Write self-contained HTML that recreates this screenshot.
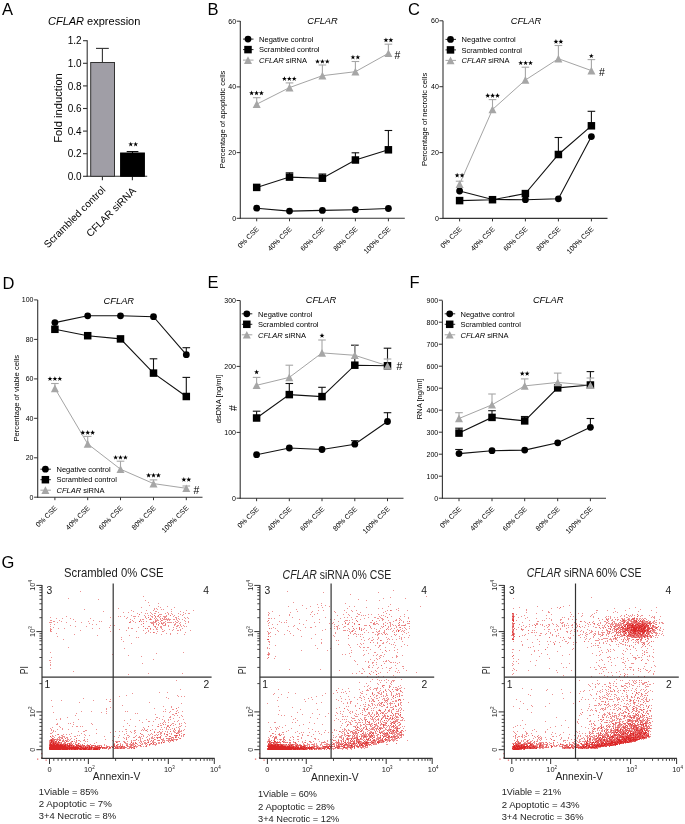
<!DOCTYPE html>
<html><head><meta charset="utf-8"><style>
html,body{margin:0;padding:0;background:#fff;}
svg{display:block;font-family:"Liberation Sans", sans-serif;will-change:transform;}
</style></head><body>
<svg width="685" height="824" viewBox="0 0 685 824">
<rect width="685" height="824" fill="#fff"/>
<text x="2" y="15" font-size="16.5">A</text>
<text x="207.5" y="14.7" font-size="16.5">B</text>
<text x="408" y="14.6" font-size="16.5">C</text>
<text x="2.5" y="289" font-size="16.5">D</text>
<text x="207.5" y="288.2" font-size="16.5">E</text>
<text x="409.5" y="288.2" font-size="16.5">F</text>
<text x="1.5" y="568.2" font-size="16.5">G</text>
<g>
<text x="48" y="24.5" font-size="11"><tspan font-style="italic">CFLAR</tspan> expression</text>
<line x1="87.2" y1="40.2" x2="87.2" y2="176.8" stroke="#333" stroke-width="1.1"/>
<line x1="83" y1="176.3" x2="87.2" y2="176.3" stroke="#333" stroke-width="1.1"/>
<text x="81.7" y="179.9" font-size="10" text-anchor="end">0.0</text>
<line x1="83" y1="153.70000000000002" x2="87.2" y2="153.70000000000002" stroke="#333" stroke-width="1.1"/>
<text x="81.7" y="157.3" font-size="10" text-anchor="end">0.2</text>
<line x1="83" y1="131.10000000000002" x2="87.2" y2="131.10000000000002" stroke="#333" stroke-width="1.1"/>
<text x="81.7" y="134.70000000000002" font-size="10" text-anchor="end">0.4</text>
<line x1="83" y1="108.5" x2="87.2" y2="108.5" stroke="#333" stroke-width="1.1"/>
<text x="81.7" y="112.1" font-size="10" text-anchor="end">0.6</text>
<line x1="83" y1="85.9" x2="87.2" y2="85.9" stroke="#333" stroke-width="1.1"/>
<text x="81.7" y="89.5" font-size="10" text-anchor="end">0.8</text>
<line x1="83" y1="63.30000000000001" x2="87.2" y2="63.30000000000001" stroke="#333" stroke-width="1.1"/>
<text x="81.7" y="66.9" font-size="10" text-anchor="end">1.0</text>
<line x1="83" y1="40.69999999999999" x2="87.2" y2="40.69999999999999" stroke="#333" stroke-width="1.1"/>
<text x="81.7" y="44.29999999999999" font-size="10" text-anchor="end">1.2</text>
<line x1="86.7" y1="176.3" x2="147.2" y2="176.3" stroke="#333" stroke-width="1.1"/>
<line x1="102.4" y1="176.3" x2="102.4" y2="180.3" stroke="#333" stroke-width="1.1"/>
<line x1="132.4" y1="176.3" x2="132.4" y2="180.3" stroke="#333" stroke-width="1.1"/>
<rect x="90.7" y="62.5" width="23.8" height="113.80000000000001" fill="#a09ea6" stroke="#333" stroke-width="1"/>
<line x1="102.4" y1="62.5" x2="102.4" y2="48.4" stroke="#333" stroke-width="1.1"/>
<line x1="96" y1="48.4" x2="108.8" y2="48.4" stroke="#333" stroke-width="1.1"/>
<rect x="120.6" y="153" width="23.8" height="23.30000000000001" fill="#000" stroke="#000" stroke-width="1"/>
<line x1="132.5" y1="153" x2="132.5" y2="151.6" stroke="#000" stroke-width="1.1"/>
<line x1="126.7" y1="151.6" x2="138.4" y2="151.6" stroke="#000" stroke-width="1.1"/>
<polygon points="130.75,141.70 131.37,143.45 133.22,143.50 131.75,144.62 132.28,146.40 130.75,145.35 129.22,146.40 129.75,144.62 128.28,143.50 130.13,143.45" fill="#000"/>
<polygon points="135.65,141.70 136.27,143.45 138.12,143.50 136.65,144.62 137.18,146.40 135.65,145.35 134.12,146.40 134.65,144.62 133.18,143.50 135.03,143.45" fill="#000"/>
<text transform="translate(62,108) rotate(-90)" font-size="11.2" text-anchor="middle">Fold induction</text>
<text transform="translate(106,190.5) rotate(-45)" font-size="10.2" text-anchor="end">Scrambled control</text>
<text transform="translate(136.5,191.5) rotate(-45)" font-size="10.2" text-anchor="end">CFLAR siRNA</text>
</g>
<line x1="240.3" y1="21" x2="240.3" y2="218.8" stroke="#333" stroke-width="1.1"/>
<line x1="236.70000000000002" y1="218.3" x2="240.3" y2="218.3" stroke="#333" stroke-width="1"/>
<text x="236.10000000000002" y="220.8" font-size="7" text-anchor="end">0</text>
<line x1="236.70000000000002" y1="152.6" x2="240.3" y2="152.6" stroke="#333" stroke-width="1"/>
<text x="236.10000000000002" y="155.1" font-size="7" text-anchor="end">20</text>
<line x1="236.70000000000002" y1="86.9" x2="240.3" y2="86.9" stroke="#333" stroke-width="1"/>
<text x="236.10000000000002" y="89.4" font-size="7" text-anchor="end">40</text>
<line x1="236.70000000000002" y1="21.2" x2="240.3" y2="21.2" stroke="#333" stroke-width="1"/>
<text x="236.10000000000002" y="23.7" font-size="7" text-anchor="end">60</text>
<line x1="239.8" y1="218.3" x2="404.8" y2="218.3" stroke="#333" stroke-width="1.1"/>
<line x1="256.7" y1="218.3" x2="256.7" y2="221.3" stroke="#333" stroke-width="1"/>
<text transform="translate(259.5,229.60000000000002) rotate(-45)" font-size="7.15" text-anchor="end">0% CSE</text>
<line x1="289.5" y1="218.3" x2="289.5" y2="221.3" stroke="#333" stroke-width="1"/>
<text transform="translate(292.3,229.60000000000002) rotate(-45)" font-size="7.15" text-anchor="end">40% CSE</text>
<line x1="322.4" y1="218.3" x2="322.4" y2="221.3" stroke="#333" stroke-width="1"/>
<text transform="translate(325.2,229.60000000000002) rotate(-45)" font-size="7.15" text-anchor="end">60% CSE</text>
<line x1="355.4" y1="218.3" x2="355.4" y2="221.3" stroke="#333" stroke-width="1"/>
<text transform="translate(358.2,229.60000000000002) rotate(-45)" font-size="7.15" text-anchor="end">80% CSE</text>
<line x1="388.4" y1="218.3" x2="388.4" y2="221.3" stroke="#333" stroke-width="1"/>
<text transform="translate(391.2,229.60000000000002) rotate(-45)" font-size="7.15" text-anchor="end">100% CSE</text>
<text x="307.3" y="24.2" font-size="9.3" font-style="italic">CFLAR</text>
<text transform="translate(224.5,119.4) rotate(-90)" font-size="7.6" text-anchor="middle">Percentage of apoptotic cells</text>
<polyline points="256.7,208.2 289.5,211.1 322.4,210.4 355.4,209.7 388.4,208.5" fill="none" stroke="#111" stroke-width="1.1"/>
<polyline points="256.7,187.4 289.5,177.1 322.4,178.2 355.4,160 388.4,149.8" fill="none" stroke="#111" stroke-width="1.1"/>
<polyline points="256.7,104.2 289.5,87.6 322.4,75.7 355.4,71.7 388.4,53.3" fill="none" stroke="#9a9a9a" stroke-width="0.9"/>
<line x1="289.5" y1="177.1" x2="289.5" y2="172.8" stroke="#111" stroke-width="1.1"/>
<line x1="285.7" y1="172.8" x2="293.3" y2="172.8" stroke="#111" stroke-width="1.1"/>
<line x1="322.4" y1="178.2" x2="322.4" y2="174" stroke="#111" stroke-width="1.1"/>
<line x1="318.59999999999997" y1="174" x2="326.2" y2="174" stroke="#111" stroke-width="1.1"/>
<line x1="355.4" y1="160" x2="355.4" y2="152.8" stroke="#111" stroke-width="1.1"/>
<line x1="351.59999999999997" y1="152.8" x2="359.2" y2="152.8" stroke="#111" stroke-width="1.1"/>
<line x1="388.4" y1="149.8" x2="388.4" y2="130.5" stroke="#111" stroke-width="1.1"/>
<line x1="384.59999999999997" y1="130.5" x2="392.2" y2="130.5" stroke="#111" stroke-width="1.1"/>
<line x1="256.7" y1="104.2" x2="256.7" y2="97.7" stroke="#a6a6a6" stroke-width="1.1"/>
<line x1="252.89999999999998" y1="97.7" x2="260.5" y2="97.7" stroke="#a6a6a6" stroke-width="1.1"/>
<line x1="289.5" y1="87.6" x2="289.5" y2="82.9" stroke="#a6a6a6" stroke-width="1.1"/>
<line x1="285.7" y1="82.9" x2="293.3" y2="82.9" stroke="#a6a6a6" stroke-width="1.1"/>
<line x1="322.4" y1="75.7" x2="322.4" y2="65" stroke="#a6a6a6" stroke-width="1.1"/>
<line x1="318.59999999999997" y1="65" x2="326.2" y2="65" stroke="#a6a6a6" stroke-width="1.1"/>
<line x1="355.4" y1="71.7" x2="355.4" y2="61.5" stroke="#a6a6a6" stroke-width="1.1"/>
<line x1="351.59999999999997" y1="61.5" x2="359.2" y2="61.5" stroke="#a6a6a6" stroke-width="1.1"/>
<line x1="388.4" y1="53.3" x2="388.4" y2="44.2" stroke="#a6a6a6" stroke-width="1.1"/>
<line x1="384.59999999999997" y1="44.2" x2="392.2" y2="44.2" stroke="#a6a6a6" stroke-width="1.1"/>
<circle cx="256.7" cy="208.2" r="3.4" fill="#000"/>
<circle cx="289.5" cy="211.1" r="3.4" fill="#000"/>
<circle cx="322.4" cy="210.4" r="3.4" fill="#000"/>
<circle cx="355.4" cy="209.7" r="3.4" fill="#000"/>
<circle cx="388.4" cy="208.5" r="3.4" fill="#000"/>
<rect x="252.95" y="183.65" width="7.5" height="7.5" fill="#000"/>
<rect x="285.75" y="173.35" width="7.5" height="7.5" fill="#000"/>
<rect x="318.65" y="174.45" width="7.5" height="7.5" fill="#000"/>
<rect x="351.65" y="156.25" width="7.5" height="7.5" fill="#000"/>
<rect x="384.65" y="146.05" width="7.5" height="7.5" fill="#000"/>
<polygon points="256.7,100.30 260.70,108.00 252.70,108.00" fill="#a6a6a6"/>
<polygon points="289.5,83.70 293.50,91.40 285.50,91.40" fill="#a6a6a6"/>
<polygon points="322.4,71.80 326.40,79.50 318.40,79.50" fill="#a6a6a6"/>
<polygon points="355.4,67.80 359.40,75.50 351.40,75.50" fill="#a6a6a6"/>
<polygon points="388.4,49.40 392.40,57.10 384.40,57.10" fill="#a6a6a6"/>
<polygon points="251.60,90.60 252.22,92.35 254.07,92.40 252.60,93.52 253.13,95.30 251.60,94.25 250.07,95.30 250.60,93.52 249.13,92.40 250.98,92.35" fill="#000"/>
<polygon points="256.50,90.60 257.12,92.35 258.97,92.40 257.50,93.52 258.03,95.30 256.50,94.25 254.97,95.30 255.50,93.52 254.03,92.40 255.88,92.35" fill="#000"/>
<polygon points="261.40,90.60 262.02,92.35 263.87,92.40 262.40,93.52 262.93,95.30 261.40,94.25 259.87,95.30 260.40,93.52 258.93,92.40 260.78,92.35" fill="#000"/>
<polygon points="284.40,76.20 285.02,77.95 286.87,78.00 285.40,79.12 285.93,80.90 284.40,79.85 282.87,80.90 283.40,79.12 281.93,78.00 283.78,77.95" fill="#000"/>
<polygon points="289.30,76.20 289.92,77.95 291.77,78.00 290.30,79.12 290.83,80.90 289.30,79.85 287.77,80.90 288.30,79.12 286.83,78.00 288.68,77.95" fill="#000"/>
<polygon points="294.20,76.20 294.82,77.95 296.67,78.00 295.20,79.12 295.73,80.90 294.20,79.85 292.67,80.90 293.20,79.12 291.73,78.00 293.58,77.95" fill="#000"/>
<polygon points="317.50,58.90 318.12,60.65 319.97,60.70 318.50,61.82 319.03,63.60 317.50,62.55 315.97,63.60 316.50,61.82 315.03,60.70 316.88,60.65" fill="#000"/>
<polygon points="322.40,58.90 323.02,60.65 324.87,60.70 323.40,61.82 323.93,63.60 322.40,62.55 320.87,63.60 321.40,61.82 319.93,60.70 321.78,60.65" fill="#000"/>
<polygon points="327.30,58.90 327.92,60.65 329.77,60.70 328.30,61.82 328.83,63.60 327.30,62.55 325.77,63.60 326.30,61.82 324.83,60.70 326.68,60.65" fill="#000"/>
<polygon points="352.95,54.70 353.57,56.45 355.42,56.50 353.95,57.62 354.48,59.40 352.95,58.35 351.42,59.40 351.95,57.62 350.48,56.50 352.33,56.45" fill="#000"/>
<polygon points="357.85,54.70 358.47,56.45 360.32,56.50 358.85,57.62 359.38,59.40 357.85,58.35 356.32,59.40 356.85,57.62 355.38,56.50 357.23,56.45" fill="#000"/>
<polygon points="385.95,37.50 386.57,39.25 388.42,39.30 386.95,40.42 387.48,42.20 385.95,41.15 384.42,42.20 384.95,40.42 383.48,39.30 385.33,39.25" fill="#000"/>
<polygon points="390.85,37.50 391.47,39.25 393.32,39.30 391.85,40.42 392.38,42.20 390.85,41.15 389.32,42.20 389.85,40.42 388.38,39.30 390.23,39.25" fill="#000"/>
<text x="397.5" y="58.8" font-size="10.5" text-anchor="middle">#</text>
<line x1="243" y1="39.1" x2="253.5" y2="39.1" stroke="#111" stroke-width="0.9"/>
<circle cx="248" cy="39.1" r="3.4" fill="#000"/>
<text x="259.1" y="41.800000000000004" font-size="7.5">Negative control</text>
<line x1="243" y1="49.6" x2="253.5" y2="49.6" stroke="#111" stroke-width="0.9"/>
<rect x="244.25" y="45.85" width="7.5" height="7.5" fill="#000"/>
<text x="259.1" y="52.300000000000004" font-size="7.5">Scrambled control</text>
<line x1="243" y1="60.1" x2="253.5" y2="60.1" stroke="#9a9a9a" stroke-width="0.9"/>
<polygon points="248,56.20 252.00,63.90 244.00,63.90" fill="#a6a6a6"/>
<text x="259.1" y="62.800000000000004" font-size="7.5"><tspan font-style="italic">CFLAR</tspan> siRNA</text>
<line x1="443" y1="20.8" x2="443" y2="218.9" stroke="#333" stroke-width="1.1"/>
<line x1="439.4" y1="218.4" x2="443" y2="218.4" stroke="#333" stroke-width="1"/>
<text x="438.8" y="220.9" font-size="7" text-anchor="end">0</text>
<line x1="439.4" y1="152.6" x2="443" y2="152.6" stroke="#333" stroke-width="1"/>
<text x="438.8" y="155.1" font-size="7" text-anchor="end">20</text>
<line x1="439.4" y1="86.7" x2="443" y2="86.7" stroke="#333" stroke-width="1"/>
<text x="438.8" y="89.2" font-size="7" text-anchor="end">40</text>
<line x1="439.4" y1="20.8" x2="443" y2="20.8" stroke="#333" stroke-width="1"/>
<text x="438.8" y="23.3" font-size="7" text-anchor="end">60</text>
<line x1="442.5" y1="218.4" x2="607.5" y2="218.4" stroke="#333" stroke-width="1.1"/>
<line x1="459.6" y1="218.4" x2="459.6" y2="221.4" stroke="#333" stroke-width="1"/>
<text transform="translate(462.40000000000003,229.70000000000002) rotate(-45)" font-size="7.15" text-anchor="end">0% CSE</text>
<line x1="492.5" y1="218.4" x2="492.5" y2="221.4" stroke="#333" stroke-width="1"/>
<text transform="translate(495.3,229.70000000000002) rotate(-45)" font-size="7.15" text-anchor="end">40% CSE</text>
<line x1="525.4" y1="218.4" x2="525.4" y2="221.4" stroke="#333" stroke-width="1"/>
<text transform="translate(528.1999999999999,229.70000000000002) rotate(-45)" font-size="7.15" text-anchor="end">60% CSE</text>
<line x1="558.4" y1="218.4" x2="558.4" y2="221.4" stroke="#333" stroke-width="1"/>
<text transform="translate(561.1999999999999,229.70000000000002) rotate(-45)" font-size="7.15" text-anchor="end">80% CSE</text>
<line x1="591.4" y1="218.4" x2="591.4" y2="221.4" stroke="#333" stroke-width="1"/>
<text transform="translate(594.1999999999999,229.70000000000002) rotate(-45)" font-size="7.15" text-anchor="end">100% CSE</text>
<text x="510.7" y="23.9" font-size="9.3" font-style="italic">CFLAR</text>
<text transform="translate(427.2,119.4) rotate(-90)" font-size="7.6" text-anchor="middle">Percentage of necrotic cells</text>
<polyline points="459.6,191 492.5,199.5 525.4,199.7 558.4,198.8 591.4,136.6" fill="none" stroke="#111" stroke-width="1.1"/>
<polyline points="459.6,200.6 492.5,199.7 525.4,193.6 558.4,154.5 591.4,125.8" fill="none" stroke="#111" stroke-width="1.1"/>
<polyline points="459.6,184.1 492.5,109.5 525.4,80 558.4,58.7 591.4,70.6" fill="none" stroke="#9a9a9a" stroke-width="0.9"/>
<line x1="558.4" y1="154.5" x2="558.4" y2="137.5" stroke="#111" stroke-width="1.1"/>
<line x1="554.6" y1="137.5" x2="562.1999999999999" y2="137.5" stroke="#111" stroke-width="1.1"/>
<line x1="591.4" y1="125.8" x2="591.4" y2="111.3" stroke="#111" stroke-width="1.1"/>
<line x1="587.6" y1="111.3" x2="595.1999999999999" y2="111.3" stroke="#111" stroke-width="1.1"/>
<line x1="459.6" y1="184.1" x2="459.6" y2="181.2" stroke="#a6a6a6" stroke-width="1.1"/>
<line x1="455.8" y1="181.2" x2="463.40000000000003" y2="181.2" stroke="#a6a6a6" stroke-width="1.1"/>
<line x1="492.5" y1="109.5" x2="492.5" y2="99.6" stroke="#a6a6a6" stroke-width="1.1"/>
<line x1="488.7" y1="99.6" x2="496.3" y2="99.6" stroke="#a6a6a6" stroke-width="1.1"/>
<line x1="525.4" y1="80" x2="525.4" y2="67.2" stroke="#a6a6a6" stroke-width="1.1"/>
<line x1="521.6" y1="67.2" x2="529.1999999999999" y2="67.2" stroke="#a6a6a6" stroke-width="1.1"/>
<line x1="558.4" y1="58.7" x2="558.4" y2="45.5" stroke="#a6a6a6" stroke-width="1.1"/>
<line x1="554.6" y1="45.5" x2="562.1999999999999" y2="45.5" stroke="#a6a6a6" stroke-width="1.1"/>
<line x1="591.4" y1="70.6" x2="591.4" y2="59.6" stroke="#a6a6a6" stroke-width="1.1"/>
<line x1="587.6" y1="59.6" x2="595.1999999999999" y2="59.6" stroke="#a6a6a6" stroke-width="1.1"/>
<circle cx="459.6" cy="191" r="3.4" fill="#000"/>
<circle cx="492.5" cy="199.5" r="3.4" fill="#000"/>
<circle cx="525.4" cy="199.7" r="3.4" fill="#000"/>
<circle cx="558.4" cy="198.8" r="3.4" fill="#000"/>
<circle cx="591.4" cy="136.6" r="3.4" fill="#000"/>
<rect x="455.85" y="196.85" width="7.5" height="7.5" fill="#000"/>
<rect x="488.75" y="195.95" width="7.5" height="7.5" fill="#000"/>
<rect x="521.65" y="189.85" width="7.5" height="7.5" fill="#000"/>
<rect x="554.65" y="150.75" width="7.5" height="7.5" fill="#000"/>
<rect x="587.65" y="122.05" width="7.5" height="7.5" fill="#000"/>
<polygon points="459.6,180.20 463.60,187.90 455.60,187.90" fill="#a6a6a6"/>
<polygon points="492.5,105.60 496.50,113.30 488.50,113.30" fill="#a6a6a6"/>
<polygon points="525.4,76.10 529.40,83.80 521.40,83.80" fill="#a6a6a6"/>
<polygon points="558.4,54.80 562.40,62.50 554.40,62.50" fill="#a6a6a6"/>
<polygon points="591.4,66.70 595.40,74.40 587.40,74.40" fill="#a6a6a6"/>
<polygon points="457.15,172.80 457.77,174.55 459.62,174.60 458.15,175.72 458.68,177.50 457.15,176.45 455.62,177.50 456.15,175.72 454.68,174.60 456.53,174.55" fill="#000"/>
<polygon points="462.05,172.80 462.67,174.55 464.52,174.60 463.05,175.72 463.58,177.50 462.05,176.45 460.52,177.50 461.05,175.72 459.58,174.60 461.43,174.55" fill="#000"/>
<polygon points="487.70,93.10 488.32,94.85 490.17,94.90 488.70,96.02 489.23,97.80 487.70,96.75 486.17,97.80 486.70,96.02 485.23,94.90 487.08,94.85" fill="#000"/>
<polygon points="492.60,93.10 493.22,94.85 495.07,94.90 493.60,96.02 494.13,97.80 492.60,96.75 491.07,97.80 491.60,96.02 490.13,94.90 491.98,94.85" fill="#000"/>
<polygon points="497.50,93.10 498.12,94.85 499.97,94.90 498.50,96.02 499.03,97.80 497.50,96.75 495.97,97.80 496.50,96.02 495.03,94.90 496.88,94.85" fill="#000"/>
<polygon points="520.70,60.40 521.32,62.15 523.17,62.20 521.70,63.32 522.23,65.10 520.70,64.05 519.17,65.10 519.70,63.32 518.23,62.20 520.08,62.15" fill="#000"/>
<polygon points="525.60,60.40 526.22,62.15 528.07,62.20 526.60,63.32 527.13,65.10 525.60,64.05 524.07,65.10 524.60,63.32 523.13,62.20 524.98,62.15" fill="#000"/>
<polygon points="530.50,60.40 531.12,62.15 532.97,62.20 531.50,63.32 532.03,65.10 530.50,64.05 528.97,65.10 529.50,63.32 528.03,62.20 529.88,62.15" fill="#000"/>
<polygon points="555.95,39.10 556.57,40.85 558.42,40.90 556.95,42.02 557.48,43.80 555.95,42.75 554.42,43.80 554.95,42.02 553.48,40.90 555.33,40.85" fill="#000"/>
<polygon points="560.85,39.10 561.47,40.85 563.32,40.90 561.85,42.02 562.38,43.80 560.85,42.75 559.32,43.80 559.85,42.02 558.38,40.90 560.23,40.85" fill="#000"/>
<polygon points="591.30,53.40 591.92,55.15 593.77,55.20 592.30,56.32 592.83,58.10 591.30,57.05 589.77,58.10 590.30,56.32 588.83,55.20 590.68,55.15" fill="#000"/>
<text x="602" y="76.1" font-size="10.5" text-anchor="middle">#</text>
<line x1="445.5" y1="39.4" x2="456.0" y2="39.4" stroke="#111" stroke-width="0.9"/>
<circle cx="450.5" cy="39.4" r="3.4" fill="#000"/>
<text x="461.6" y="42.1" font-size="7.5">Negative control</text>
<line x1="445.5" y1="49.9" x2="456.0" y2="49.9" stroke="#111" stroke-width="0.9"/>
<rect x="446.75" y="46.15" width="7.5" height="7.5" fill="#000"/>
<text x="461.6" y="52.6" font-size="7.5">Scrambled control</text>
<line x1="445.5" y1="60.4" x2="456.0" y2="60.4" stroke="#9a9a9a" stroke-width="0.9"/>
<polygon points="450.5,56.50 454.50,64.20 446.50,64.20" fill="#a6a6a6"/>
<text x="461.6" y="63.1" font-size="7.5"><tspan font-style="italic">CFLAR</tspan> siRNA</text>
<line x1="37.7" y1="299.9" x2="37.7" y2="497.7" stroke="#333" stroke-width="1.1"/>
<line x1="34.1" y1="497.2" x2="37.7" y2="497.2" stroke="#333" stroke-width="1"/>
<text x="33.5" y="499.7" font-size="7" text-anchor="end">0</text>
<line x1="34.1" y1="457.8" x2="37.7" y2="457.8" stroke="#333" stroke-width="1"/>
<text x="33.5" y="460.3" font-size="7" text-anchor="end">20</text>
<line x1="34.1" y1="418.3" x2="37.7" y2="418.3" stroke="#333" stroke-width="1"/>
<text x="33.5" y="420.8" font-size="7" text-anchor="end">40</text>
<line x1="34.1" y1="378.9" x2="37.7" y2="378.9" stroke="#333" stroke-width="1"/>
<text x="33.5" y="381.4" font-size="7" text-anchor="end">60</text>
<line x1="34.1" y1="339.4" x2="37.7" y2="339.4" stroke="#333" stroke-width="1"/>
<text x="33.5" y="341.9" font-size="7" text-anchor="end">80</text>
<line x1="34.1" y1="299.9" x2="37.7" y2="299.9" stroke="#333" stroke-width="1"/>
<text x="33.5" y="302.4" font-size="7" text-anchor="end">100</text>
<line x1="37.2" y1="497.2" x2="202.5" y2="497.2" stroke="#333" stroke-width="1.1"/>
<line x1="54.9" y1="497.2" x2="54.9" y2="500.2" stroke="#333" stroke-width="1"/>
<text transform="translate(57.699999999999996,508.5) rotate(-45)" font-size="7.15" text-anchor="end">0% CSE</text>
<line x1="87.7" y1="497.2" x2="87.7" y2="500.2" stroke="#333" stroke-width="1"/>
<text transform="translate(90.5,508.5) rotate(-45)" font-size="7.15" text-anchor="end">40% CSE</text>
<line x1="120.5" y1="497.2" x2="120.5" y2="500.2" stroke="#333" stroke-width="1"/>
<text transform="translate(123.3,508.5) rotate(-45)" font-size="7.15" text-anchor="end">60% CSE</text>
<line x1="153.5" y1="497.2" x2="153.5" y2="500.2" stroke="#333" stroke-width="1"/>
<text transform="translate(156.3,508.5) rotate(-45)" font-size="7.15" text-anchor="end">80% CSE</text>
<line x1="186.3" y1="497.2" x2="186.3" y2="500.2" stroke="#333" stroke-width="1"/>
<text transform="translate(189.10000000000002,508.5) rotate(-45)" font-size="7.15" text-anchor="end">100% CSE</text>
<text x="103.6" y="304" font-size="9.3" font-style="italic">CFLAR</text>
<text transform="translate(18.6,398.2) rotate(-90)" font-size="7.6" text-anchor="middle">Percentage of viable cells</text>
<polyline points="54.9,322.6 87.7,315.8 120.5,315.8 153.5,316.7 186.3,354.7" fill="none" stroke="#111" stroke-width="1.1"/>
<polyline points="54.9,329.3 87.7,335.7 120.5,338.9 153.5,373.1 186.3,396.5" fill="none" stroke="#111" stroke-width="1.1"/>
<polyline points="54.9,388.4 87.7,443.9 120.5,469.2 153.5,483.6 186.3,488.3" fill="none" stroke="#9a9a9a" stroke-width="0.9"/>
<line x1="186.3" y1="354.7" x2="186.3" y2="347.7" stroke="#111" stroke-width="1.1"/>
<line x1="182.5" y1="347.7" x2="190.10000000000002" y2="347.7" stroke="#111" stroke-width="1.1"/>
<line x1="153.5" y1="373.1" x2="153.5" y2="358.8" stroke="#111" stroke-width="1.1"/>
<line x1="149.7" y1="358.8" x2="157.3" y2="358.8" stroke="#111" stroke-width="1.1"/>
<line x1="186.3" y1="396.5" x2="186.3" y2="377.4" stroke="#111" stroke-width="1.1"/>
<line x1="182.5" y1="377.4" x2="190.10000000000002" y2="377.4" stroke="#111" stroke-width="1.1"/>
<line x1="54.9" y1="388.4" x2="54.9" y2="383.5" stroke="#a6a6a6" stroke-width="1.1"/>
<line x1="51.1" y1="383.5" x2="58.699999999999996" y2="383.5" stroke="#a6a6a6" stroke-width="1.1"/>
<line x1="87.7" y1="443.9" x2="87.7" y2="436.4" stroke="#a6a6a6" stroke-width="1.1"/>
<line x1="83.9" y1="436.4" x2="91.5" y2="436.4" stroke="#a6a6a6" stroke-width="1.1"/>
<line x1="120.5" y1="469.2" x2="120.5" y2="461.2" stroke="#a6a6a6" stroke-width="1.1"/>
<line x1="116.7" y1="461.2" x2="124.3" y2="461.2" stroke="#a6a6a6" stroke-width="1.1"/>
<line x1="153.5" y1="483.6" x2="153.5" y2="479.9" stroke="#a6a6a6" stroke-width="1.1"/>
<line x1="149.7" y1="479.9" x2="157.3" y2="479.9" stroke="#a6a6a6" stroke-width="1.1"/>
<line x1="186.3" y1="488.3" x2="186.3" y2="486" stroke="#a6a6a6" stroke-width="1.1"/>
<line x1="182.5" y1="486" x2="190.10000000000002" y2="486" stroke="#a6a6a6" stroke-width="1.1"/>
<circle cx="54.9" cy="322.6" r="3.4" fill="#000"/>
<circle cx="87.7" cy="315.8" r="3.4" fill="#000"/>
<circle cx="120.5" cy="315.8" r="3.4" fill="#000"/>
<circle cx="153.5" cy="316.7" r="3.4" fill="#000"/>
<circle cx="186.3" cy="354.7" r="3.4" fill="#000"/>
<rect x="51.15" y="325.55" width="7.5" height="7.5" fill="#000"/>
<rect x="83.95" y="331.95" width="7.5" height="7.5" fill="#000"/>
<rect x="116.75" y="335.15" width="7.5" height="7.5" fill="#000"/>
<rect x="149.75" y="369.35" width="7.5" height="7.5" fill="#000"/>
<rect x="182.55" y="392.75" width="7.5" height="7.5" fill="#000"/>
<polygon points="54.9,384.50 58.90,392.20 50.90,392.20" fill="#a6a6a6"/>
<polygon points="87.7,440.00 91.70,447.70 83.70,447.70" fill="#a6a6a6"/>
<polygon points="120.5,465.30 124.50,473.00 116.50,473.00" fill="#a6a6a6"/>
<polygon points="153.5,479.70 157.50,487.40 149.50,487.40" fill="#a6a6a6"/>
<polygon points="186.3,484.40 190.30,492.10 182.30,492.10" fill="#a6a6a6"/>
<polygon points="50.00,376.20 50.62,377.95 52.47,378.00 51.00,379.12 51.53,380.90 50.00,379.85 48.47,380.90 49.00,379.12 47.53,378.00 49.38,377.95" fill="#000"/>
<polygon points="54.90,376.20 55.52,377.95 57.37,378.00 55.90,379.12 56.43,380.90 54.90,379.85 53.37,380.90 53.90,379.12 52.43,378.00 54.28,377.95" fill="#000"/>
<polygon points="59.80,376.20 60.42,377.95 62.27,378.00 60.80,379.12 61.33,380.90 59.80,379.85 58.27,380.90 58.80,379.12 57.33,378.00 59.18,377.95" fill="#000"/>
<polygon points="82.80,430.10 83.42,431.85 85.27,431.90 83.80,433.02 84.33,434.80 82.80,433.75 81.27,434.80 81.80,433.02 80.33,431.90 82.18,431.85" fill="#000"/>
<polygon points="87.70,430.10 88.32,431.85 90.17,431.90 88.70,433.02 89.23,434.80 87.70,433.75 86.17,434.80 86.70,433.02 85.23,431.90 87.08,431.85" fill="#000"/>
<polygon points="92.60,430.10 93.22,431.85 95.07,431.90 93.60,433.02 94.13,434.80 92.60,433.75 91.07,434.80 91.60,433.02 90.13,431.90 91.98,431.85" fill="#000"/>
<polygon points="115.60,454.90 116.22,456.65 118.07,456.70 116.60,457.82 117.13,459.60 115.60,458.55 114.07,459.60 114.60,457.82 113.13,456.70 114.98,456.65" fill="#000"/>
<polygon points="120.50,454.90 121.12,456.65 122.97,456.70 121.50,457.82 122.03,459.60 120.50,458.55 118.97,459.60 119.50,457.82 118.03,456.70 119.88,456.65" fill="#000"/>
<polygon points="125.40,454.90 126.02,456.65 127.87,456.70 126.40,457.82 126.93,459.60 125.40,458.55 123.87,459.60 124.40,457.82 122.93,456.70 124.78,456.65" fill="#000"/>
<polygon points="148.60,472.80 149.22,474.55 151.07,474.60 149.60,475.72 150.13,477.50 148.60,476.45 147.07,477.50 147.60,475.72 146.13,474.60 147.98,474.55" fill="#000"/>
<polygon points="153.50,472.80 154.12,474.55 155.97,474.60 154.50,475.72 155.03,477.50 153.50,476.45 151.97,477.50 152.50,475.72 151.03,474.60 152.88,474.55" fill="#000"/>
<polygon points="158.40,472.80 159.02,474.55 160.87,474.60 159.40,475.72 159.93,477.50 158.40,476.45 156.87,477.50 157.40,475.72 155.93,474.60 157.78,474.55" fill="#000"/>
<polygon points="183.85,477.00 184.47,478.75 186.32,478.80 184.85,479.92 185.38,481.70 183.85,480.65 182.32,481.70 182.85,479.92 181.38,478.80 183.23,478.75" fill="#000"/>
<polygon points="188.75,477.00 189.37,478.75 191.22,478.80 189.75,479.92 190.28,481.70 188.75,480.65 187.22,481.70 187.75,479.92 186.28,478.80 188.13,478.75" fill="#000"/>
<text x="196.5" y="494.1" font-size="10.5" text-anchor="middle">#</text>
<line x1="40.4" y1="469.2" x2="50.9" y2="469.2" stroke="#111" stroke-width="0.9"/>
<circle cx="45.4" cy="469.2" r="3.4" fill="#000"/>
<text x="56.5" y="471.9" font-size="7.5">Negative control</text>
<line x1="40.4" y1="479.7" x2="50.9" y2="479.7" stroke="#111" stroke-width="0.9"/>
<rect x="41.65" y="475.95" width="7.5" height="7.5" fill="#000"/>
<text x="56.5" y="482.4" font-size="7.5">Scrambled control</text>
<line x1="40.4" y1="490.2" x2="50.9" y2="490.2" stroke="#9a9a9a" stroke-width="0.9"/>
<polygon points="45.4,486.30 49.40,494.00 41.40,494.00" fill="#a6a6a6"/>
<text x="56.5" y="492.9" font-size="7.5"><tspan font-style="italic">CFLAR</tspan> siRNA</text>
<line x1="240.2" y1="300.5" x2="240.2" y2="498.7" stroke="#333" stroke-width="1.1"/>
<line x1="236.6" y1="498.2" x2="240.2" y2="498.2" stroke="#333" stroke-width="1"/>
<text x="236.0" y="500.7" font-size="7" text-anchor="end">0</text>
<line x1="236.6" y1="432.4" x2="240.2" y2="432.4" stroke="#333" stroke-width="1"/>
<text x="236.0" y="434.9" font-size="7" text-anchor="end">100</text>
<line x1="236.6" y1="366.4" x2="240.2" y2="366.4" stroke="#333" stroke-width="1"/>
<text x="236.0" y="368.9" font-size="7" text-anchor="end">200</text>
<line x1="236.6" y1="300.5" x2="240.2" y2="300.5" stroke="#333" stroke-width="1"/>
<text x="236.0" y="303.0" font-size="7" text-anchor="end">300</text>
<line x1="239.7" y1="498.2" x2="403.5" y2="498.2" stroke="#333" stroke-width="1.1"/>
<line x1="256.6" y1="498.2" x2="256.6" y2="501.2" stroke="#333" stroke-width="1"/>
<text transform="translate(259.40000000000003,509.5) rotate(-45)" font-size="7.15" text-anchor="end">0% CSE</text>
<line x1="289.3" y1="498.2" x2="289.3" y2="501.2" stroke="#333" stroke-width="1"/>
<text transform="translate(292.1,509.5) rotate(-45)" font-size="7.15" text-anchor="end">40% CSE</text>
<line x1="322" y1="498.2" x2="322" y2="501.2" stroke="#333" stroke-width="1"/>
<text transform="translate(324.8,509.5) rotate(-45)" font-size="7.15" text-anchor="end">60% CSE</text>
<line x1="354.8" y1="498.2" x2="354.8" y2="501.2" stroke="#333" stroke-width="1"/>
<text transform="translate(357.6,509.5) rotate(-45)" font-size="7.15" text-anchor="end">80% CSE</text>
<line x1="387.5" y1="498.2" x2="387.5" y2="501.2" stroke="#333" stroke-width="1"/>
<text transform="translate(390.3,509.5) rotate(-45)" font-size="7.15" text-anchor="end">100% CSE</text>
<text x="305.7" y="303" font-size="9.3" font-style="italic">CFLAR</text>
<text transform="translate(220.6,398.9) rotate(-90)" font-size="7.6" text-anchor="middle">dsDNA [ng/ml]</text>
<polyline points="256.6,454.7 289.3,448 322,449.5 354.8,444.2 387.5,421.5" fill="none" stroke="#111" stroke-width="1.1"/>
<polyline points="256.6,418 289.3,394.6 322,396.6 354.8,365.2 387.5,365.8" fill="none" stroke="#111" stroke-width="1.1"/>
<polyline points="256.6,385.3 289.3,377.4 322,352.9 354.8,355.3 387.5,365.8" fill="none" stroke="#9a9a9a" stroke-width="0.9"/>
<line x1="354.8" y1="444.2" x2="354.8" y2="440.7" stroke="#111" stroke-width="1.1"/>
<line x1="351.0" y1="440.7" x2="358.6" y2="440.7" stroke="#111" stroke-width="1.1"/>
<line x1="387.5" y1="421.5" x2="387.5" y2="412.7" stroke="#111" stroke-width="1.1"/>
<line x1="383.7" y1="412.7" x2="391.3" y2="412.7" stroke="#111" stroke-width="1.1"/>
<line x1="256.6" y1="418" x2="256.6" y2="411.2" stroke="#111" stroke-width="1.1"/>
<line x1="252.8" y1="411.2" x2="260.40000000000003" y2="411.2" stroke="#111" stroke-width="1.1"/>
<line x1="289.3" y1="394.6" x2="289.3" y2="383.5" stroke="#111" stroke-width="1.1"/>
<line x1="285.5" y1="383.5" x2="293.1" y2="383.5" stroke="#111" stroke-width="1.1"/>
<line x1="322" y1="396.6" x2="322" y2="387.3" stroke="#111" stroke-width="1.1"/>
<line x1="318.2" y1="387.3" x2="325.8" y2="387.3" stroke="#111" stroke-width="1.1"/>
<line x1="354.8" y1="365.2" x2="354.8" y2="345.3" stroke="#111" stroke-width="1.1"/>
<line x1="351.0" y1="345.3" x2="358.6" y2="345.3" stroke="#111" stroke-width="1.1"/>
<line x1="387.5" y1="365.8" x2="387.5" y2="348.2" stroke="#111" stroke-width="1.1"/>
<line x1="383.7" y1="348.2" x2="391.3" y2="348.2" stroke="#111" stroke-width="1.1"/>
<line x1="256.6" y1="385.3" x2="256.6" y2="377.4" stroke="#a6a6a6" stroke-width="1.1"/>
<line x1="252.8" y1="377.4" x2="260.40000000000003" y2="377.4" stroke="#a6a6a6" stroke-width="1.1"/>
<line x1="289.3" y1="377.4" x2="289.3" y2="365.2" stroke="#a6a6a6" stroke-width="1.1"/>
<line x1="285.5" y1="365.2" x2="293.1" y2="365.2" stroke="#a6a6a6" stroke-width="1.1"/>
<line x1="322" y1="352.9" x2="322" y2="340" stroke="#a6a6a6" stroke-width="1.1"/>
<line x1="318.2" y1="340" x2="325.8" y2="340" stroke="#a6a6a6" stroke-width="1.1"/>
<line x1="354.8" y1="355.3" x2="354.8" y2="344.7" stroke="#a6a6a6" stroke-width="1.1"/>
<line x1="351.0" y1="344.7" x2="358.6" y2="344.7" stroke="#a6a6a6" stroke-width="1.1"/>
<line x1="387.5" y1="365.8" x2="387.5" y2="359" stroke="#a6a6a6" stroke-width="1.1"/>
<line x1="383.7" y1="359" x2="391.3" y2="359" stroke="#a6a6a6" stroke-width="1.1"/>
<circle cx="256.6" cy="454.7" r="3.4" fill="#000"/>
<circle cx="289.3" cy="448" r="3.4" fill="#000"/>
<circle cx="322" cy="449.5" r="3.4" fill="#000"/>
<circle cx="354.8" cy="444.2" r="3.4" fill="#000"/>
<circle cx="387.5" cy="421.5" r="3.4" fill="#000"/>
<rect x="252.85" y="414.25" width="7.5" height="7.5" fill="#000"/>
<rect x="285.55" y="390.85" width="7.5" height="7.5" fill="#000"/>
<rect x="318.25" y="392.85" width="7.5" height="7.5" fill="#000"/>
<rect x="351.05" y="361.45" width="7.5" height="7.5" fill="#000"/>
<rect x="383.75" y="362.05" width="7.5" height="7.5" fill="#000"/>
<polygon points="256.6,381.40 260.60,389.10 252.60,389.10" fill="#a6a6a6"/>
<polygon points="289.3,373.50 293.30,381.20 285.30,381.20" fill="#a6a6a6"/>
<polygon points="322,349.00 326.00,356.70 318.00,356.70" fill="#a6a6a6"/>
<polygon points="354.8,351.40 358.80,359.10 350.80,359.10" fill="#a6a6a6"/>
<polygon points="387.5,361.90 391.50,369.60 383.50,369.60" fill="#a6a6a6"/>
<polygon points="256.60,369.60 257.22,371.35 259.07,371.40 257.60,372.52 258.13,374.30 256.60,373.25 255.07,374.30 255.60,372.52 254.13,371.40 255.98,371.35" fill="#000"/>
<polygon points="322.00,333.10 322.62,334.85 324.47,334.90 323.00,336.02 323.53,337.80 322.00,336.75 320.47,337.80 321.00,336.02 319.53,334.90 321.38,334.85" fill="#000"/>
<text x="399.5" y="370.2" font-size="10.5" text-anchor="middle">#</text>
<line x1="241.8" y1="313.8" x2="252.3" y2="313.8" stroke="#111" stroke-width="0.9"/>
<circle cx="246.8" cy="313.8" r="3.4" fill="#000"/>
<text x="258.1" y="316.5" font-size="7.5">Negative control</text>
<line x1="241.8" y1="324.3" x2="252.3" y2="324.3" stroke="#111" stroke-width="0.9"/>
<rect x="243.05" y="320.55" width="7.5" height="7.5" fill="#000"/>
<text x="258.1" y="327.0" font-size="7.5">Scrambled control</text>
<line x1="241.8" y1="334.8" x2="252.3" y2="334.8" stroke="#9a9a9a" stroke-width="0.9"/>
<polygon points="246.8,330.90 250.80,338.60 242.80,338.60" fill="#a6a6a6"/>
<text x="258.1" y="337.5" font-size="7.5"><tspan font-style="italic">CFLAR</tspan> siRNA</text>
<text transform="translate(237,408) rotate(-90)" font-size="10.5" text-anchor="middle">#</text>
<line x1="442.4" y1="300.4" x2="442.4" y2="498.7" stroke="#333" stroke-width="1.1"/>
<line x1="438.79999999999995" y1="498.2" x2="442.4" y2="498.2" stroke="#333" stroke-width="1"/>
<text x="438.2" y="500.7" font-size="7" text-anchor="end">0</text>
<line x1="438.79999999999995" y1="476.2" x2="442.4" y2="476.2" stroke="#333" stroke-width="1"/>
<text x="438.2" y="478.7" font-size="7" text-anchor="end">100</text>
<line x1="438.79999999999995" y1="454.2" x2="442.4" y2="454.2" stroke="#333" stroke-width="1"/>
<text x="438.2" y="456.7" font-size="7" text-anchor="end">200</text>
<line x1="438.79999999999995" y1="432.2" x2="442.4" y2="432.2" stroke="#333" stroke-width="1"/>
<text x="438.2" y="434.7" font-size="7" text-anchor="end">300</text>
<line x1="438.79999999999995" y1="410.2" x2="442.4" y2="410.2" stroke="#333" stroke-width="1"/>
<text x="438.2" y="412.7" font-size="7" text-anchor="end">400</text>
<line x1="438.79999999999995" y1="388.2" x2="442.4" y2="388.2" stroke="#333" stroke-width="1"/>
<text x="438.2" y="390.7" font-size="7" text-anchor="end">500</text>
<line x1="438.79999999999995" y1="366.2" x2="442.4" y2="366.2" stroke="#333" stroke-width="1"/>
<text x="438.2" y="368.7" font-size="7" text-anchor="end">600</text>
<line x1="438.79999999999995" y1="344.2" x2="442.4" y2="344.2" stroke="#333" stroke-width="1"/>
<text x="438.2" y="346.7" font-size="7" text-anchor="end">700</text>
<line x1="438.79999999999995" y1="322.2" x2="442.4" y2="322.2" stroke="#333" stroke-width="1"/>
<text x="438.2" y="324.7" font-size="7" text-anchor="end">800</text>
<line x1="438.79999999999995" y1="300.2" x2="442.4" y2="300.2" stroke="#333" stroke-width="1"/>
<text x="438.2" y="302.7" font-size="7" text-anchor="end">900</text>
<line x1="441.9" y1="498.2" x2="606" y2="498.2" stroke="#333" stroke-width="1.1"/>
<line x1="459" y1="498.2" x2="459" y2="501.2" stroke="#333" stroke-width="1"/>
<text transform="translate(461.8,509.5) rotate(-45)" font-size="7.15" text-anchor="end">0% CSE</text>
<line x1="492" y1="498.2" x2="492" y2="501.2" stroke="#333" stroke-width="1"/>
<text transform="translate(494.8,509.5) rotate(-45)" font-size="7.15" text-anchor="end">40% CSE</text>
<line x1="524.7" y1="498.2" x2="524.7" y2="501.2" stroke="#333" stroke-width="1"/>
<text transform="translate(527.5,509.5) rotate(-45)" font-size="7.15" text-anchor="end">60% CSE</text>
<line x1="557.7" y1="498.2" x2="557.7" y2="501.2" stroke="#333" stroke-width="1"/>
<text transform="translate(560.5,509.5) rotate(-45)" font-size="7.15" text-anchor="end">80% CSE</text>
<line x1="590.4" y1="498.2" x2="590.4" y2="501.2" stroke="#333" stroke-width="1"/>
<text transform="translate(593.1999999999999,509.5) rotate(-45)" font-size="7.15" text-anchor="end">100% CSE</text>
<text x="532.9" y="303" font-size="9.3" font-style="italic">CFLAR</text>
<text transform="translate(422.3,399) rotate(-90)" font-size="7.6" text-anchor="middle">RNA [ng/ml]</text>
<polyline points="459,453.6 492,450.7 524.7,450.1 557.7,442.8 590.4,427.3" fill="none" stroke="#111" stroke-width="1.1"/>
<polyline points="459,433.1 492,417.4 524.7,420.9 557.7,387.9 590.4,385" fill="none" stroke="#111" stroke-width="1.1"/>
<polyline points="459,418.5 492,404.8 524.7,385.9 557.7,382.4 590.4,385.3" fill="none" stroke="#9a9a9a" stroke-width="0.9"/>
<line x1="459" y1="453.6" x2="459" y2="449.5" stroke="#111" stroke-width="1.1"/>
<line x1="455.2" y1="449.5" x2="462.8" y2="449.5" stroke="#111" stroke-width="1.1"/>
<line x1="590.4" y1="427.3" x2="590.4" y2="418.5" stroke="#111" stroke-width="1.1"/>
<line x1="586.6" y1="418.5" x2="594.1999999999999" y2="418.5" stroke="#111" stroke-width="1.1"/>
<line x1="459" y1="433.1" x2="459" y2="428.2" stroke="#111" stroke-width="1.1"/>
<line x1="455.2" y1="428.2" x2="462.8" y2="428.2" stroke="#111" stroke-width="1.1"/>
<line x1="492" y1="417.4" x2="492" y2="410.7" stroke="#111" stroke-width="1.1"/>
<line x1="488.2" y1="410.7" x2="495.8" y2="410.7" stroke="#111" stroke-width="1.1"/>
<line x1="524.7" y1="420.9" x2="524.7" y2="416.5" stroke="#111" stroke-width="1.1"/>
<line x1="520.9000000000001" y1="416.5" x2="528.5" y2="416.5" stroke="#111" stroke-width="1.1"/>
<line x1="590.4" y1="385" x2="590.4" y2="371.6" stroke="#111" stroke-width="1.1"/>
<line x1="586.6" y1="371.6" x2="594.1999999999999" y2="371.6" stroke="#111" stroke-width="1.1"/>
<line x1="459" y1="418.5" x2="459" y2="412.7" stroke="#a6a6a6" stroke-width="1.1"/>
<line x1="455.2" y1="412.7" x2="462.8" y2="412.7" stroke="#a6a6a6" stroke-width="1.1"/>
<line x1="492" y1="404.8" x2="492" y2="394" stroke="#a6a6a6" stroke-width="1.1"/>
<line x1="488.2" y1="394" x2="495.8" y2="394" stroke="#a6a6a6" stroke-width="1.1"/>
<line x1="524.7" y1="385.9" x2="524.7" y2="378.9" stroke="#a6a6a6" stroke-width="1.1"/>
<line x1="520.9000000000001" y1="378.9" x2="528.5" y2="378.9" stroke="#a6a6a6" stroke-width="1.1"/>
<line x1="557.7" y1="382.4" x2="557.7" y2="373.1" stroke="#a6a6a6" stroke-width="1.1"/>
<line x1="553.9000000000001" y1="373.1" x2="561.5" y2="373.1" stroke="#a6a6a6" stroke-width="1.1"/>
<line x1="590.4" y1="385.3" x2="590.4" y2="378" stroke="#a6a6a6" stroke-width="1.1"/>
<line x1="586.6" y1="378" x2="594.1999999999999" y2="378" stroke="#a6a6a6" stroke-width="1.1"/>
<circle cx="459" cy="453.6" r="3.4" fill="#000"/>
<circle cx="492" cy="450.7" r="3.4" fill="#000"/>
<circle cx="524.7" cy="450.1" r="3.4" fill="#000"/>
<circle cx="557.7" cy="442.8" r="3.4" fill="#000"/>
<circle cx="590.4" cy="427.3" r="3.4" fill="#000"/>
<rect x="455.25" y="429.35" width="7.5" height="7.5" fill="#000"/>
<rect x="488.25" y="413.65" width="7.5" height="7.5" fill="#000"/>
<rect x="520.95" y="417.15" width="7.5" height="7.5" fill="#000"/>
<rect x="553.95" y="384.15" width="7.5" height="7.5" fill="#000"/>
<rect x="586.65" y="381.25" width="7.5" height="7.5" fill="#000"/>
<polygon points="459,414.60 463.00,422.30 455.00,422.30" fill="#a6a6a6"/>
<polygon points="492,400.90 496.00,408.60 488.00,408.60" fill="#a6a6a6"/>
<polygon points="524.7,382.00 528.70,389.70 520.70,389.70" fill="#a6a6a6"/>
<polygon points="557.7,378.50 561.70,386.20 553.70,386.20" fill="#a6a6a6"/>
<polygon points="590.4,381.40 594.40,389.10 586.40,389.10" fill="#a6a6a6"/>
<polygon points="522.25,371.00 522.87,372.75 524.72,372.80 523.25,373.92 523.78,375.70 522.25,374.65 520.72,375.70 521.25,373.92 519.78,372.80 521.63,372.75" fill="#000"/>
<polygon points="527.15,371.00 527.77,372.75 529.62,372.80 528.15,373.92 528.68,375.70 527.15,374.65 525.62,375.70 526.15,373.92 524.68,372.80 526.53,372.75" fill="#000"/>
<line x1="444.7" y1="313.8" x2="455.2" y2="313.8" stroke="#111" stroke-width="0.9"/>
<circle cx="449.7" cy="313.8" r="3.4" fill="#000"/>
<text x="460.5" y="316.5" font-size="7.5">Negative control</text>
<line x1="444.7" y1="324.3" x2="455.2" y2="324.3" stroke="#111" stroke-width="0.9"/>
<rect x="445.95" y="320.55" width="7.5" height="7.5" fill="#000"/>
<text x="460.5" y="327.0" font-size="7.5">Scrambled control</text>
<line x1="444.7" y1="334.8" x2="455.2" y2="334.8" stroke="#9a9a9a" stroke-width="0.9"/>
<polygon points="449.7,330.90 453.70,338.60 445.70,338.60" fill="#a6a6a6"/>
<text x="460.5" y="337.5" font-size="7.5"><tspan font-style="italic">CFLAR</tspan> siRNA</text>
<g shape-rendering="crispEdges"><path fill="#dc2626" fill-opacity="0.5" d="M80 591h1v1h-1zM143 596h1v1h-1zM68 598h1v1h-1zM98 599h1v1h-1zM145 600h1v1h-1zM148 602h1v1h-1zM158 603h1v1h-1zM149 605h1v1h-1zM158 606h1v1h-1zM167 606h1v1h-1zM141 607h1v1h-1zM160 607h1v1h-1zM174 607h1v1h-1zM118 608h1v1h-1zM154 608h1v1h-1zM156 608h1v1h-1zM84 609h1v1h-1zM154 609h1v1h-1zM157 609h1v1h-1zM161 609h1v1h-1zM163 609h1v1h-1zM171 609h1v1h-1zM131 610h1v1h-1zM146 610h1v1h-1zM153 610h1v1h-1zM186 610h1v1h-1zM193 610h1v1h-1zM103 611h1v1h-1zM133 611h1v1h-1zM155 611h2v1h-2zM171 611h1v1h-1zM180 611h1v1h-1zM123 612h1v1h-1zM128 612h1v1h-1zM141 612h1v1h-1zM150 612h1v1h-1zM158 612h1v1h-1zM167 612h1v1h-1zM183 612h1v1h-1zM137 613h1v1h-1zM145 613h1v1h-1zM147 613h1v1h-1zM151 613h1v1h-1zM154 613h2v1h-2zM165 613h1v1h-1zM168 613h1v1h-1zM171 613h1v1h-1zM178 613h1v1h-1zM185 613h1v1h-1zM188 613h2v1h-2zM152 614h1v1h-1zM159 614h3v1h-3zM168 614h1v1h-1zM172 614h1v1h-1zM180 614h1v1h-1zM183 614h1v1h-1zM131 615h1v1h-1zM144 615h1v1h-1zM148 615h1v1h-1zM150 615h1v1h-1zM166 615h1v1h-1zM174 615h1v1h-1zM182 615h1v1h-1zM66 616h1v1h-1zM118 616h1v1h-1zM120 616h1v1h-1zM124 616h1v1h-1zM133 616h3v1h-3zM138 616h1v1h-1zM145 616h1v1h-1zM151 616h2v1h-2zM157 616h2v1h-2zM160 616h1v1h-1zM163 616h4v1h-4zM173 616h1v1h-1zM178 616h1v1h-1zM50 617h1v1h-1zM110 617h1v1h-1zM127 617h1v1h-1zM145 617h1v1h-1zM152 617h1v1h-1zM155 617h1v1h-1zM159 617h1v1h-1zM164 617h2v1h-2zM175 617h2v1h-2zM184 617h1v1h-1zM187 617h1v1h-1zM56 618h1v1h-1zM62 618h1v1h-1zM70 618h1v1h-1zM90 618h1v1h-1zM126 618h1v1h-1zM134 618h1v1h-1zM146 618h1v1h-1zM150 618h1v1h-1zM154 618h1v1h-1zM156 618h1v1h-1zM160 618h1v1h-1zM164 618h1v1h-1zM166 618h1v1h-1zM168 618h1v1h-1zM176 618h1v1h-1zM178 618h1v1h-1zM185 618h1v1h-1zM188 618h1v1h-1zM73 619h1v1h-1zM130 619h1v1h-1zM140 619h1v1h-1zM142 619h2v1h-2zM149 619h1v1h-1zM151 619h1v1h-1zM155 619h1v1h-1zM157 619h1v1h-1zM160 619h1v1h-1zM163 619h8v1h-8zM173 619h2v1h-2zM176 619h1v1h-1zM179 619h1v1h-1zM182 619h1v1h-1zM50 620h2v1h-2zM59 620h1v1h-1zM93 620h1v1h-1zM132 620h1v1h-1zM140 620h1v1h-1zM155 620h4v1h-4zM162 620h1v1h-1zM167 620h1v1h-1zM169 620h1v1h-1zM177 620h1v1h-1zM184 620h1v1h-1zM53 621h2v1h-2zM61 621h1v1h-1zM75 621h1v1h-1zM88 621h1v1h-1zM99 621h1v1h-1zM101 621h1v1h-1zM130 621h1v1h-1zM133 621h1v1h-1zM141 621h1v1h-1zM143 621h1v1h-1zM146 621h1v1h-1zM153 621h1v1h-1zM156 621h1v1h-1zM160 621h1v1h-1zM165 621h1v1h-1zM175 621h1v1h-1zM178 621h1v1h-1zM185 621h1v1h-1zM188 621h1v1h-1zM49 622h3v1h-3zM57 622h1v1h-1zM66 622h1v1h-1zM81 622h1v1h-1zM130 622h1v1h-1zM135 622h1v1h-1zM150 622h6v1h-6zM158 622h1v1h-1zM161 622h1v1h-1zM163 622h2v1h-2zM167 622h5v1h-5zM173 622h1v1h-1zM176 622h2v1h-2zM180 622h1v1h-1zM188 622h1v1h-1zM89 623h1v1h-1zM151 623h3v1h-3zM156 623h1v1h-1zM159 623h1v1h-1zM162 623h2v1h-2zM165 623h1v1h-1zM175 623h1v1h-1zM179 623h1v1h-1zM185 623h1v1h-1zM50 624h1v1h-1zM54 624h1v1h-1zM92 624h1v1h-1zM96 624h1v1h-1zM141 624h1v1h-1zM156 624h1v1h-1zM162 624h1v1h-1zM174 624h2v1h-2zM180 624h1v1h-1zM70 625h1v1h-1zM110 625h1v1h-1zM114 625h1v1h-1zM153 625h1v1h-1zM158 625h1v1h-1zM163 625h3v1h-3zM168 625h1v1h-1zM174 625h1v1h-1zM177 625h2v1h-2zM180 625h1v1h-1zM183 625h1v1h-1zM50 626h1v1h-1zM75 626h1v1h-1zM86 626h1v1h-1zM148 626h2v1h-2zM154 626h1v1h-1zM160 626h2v1h-2zM168 626h1v1h-1zM176 626h2v1h-2zM181 626h1v1h-1zM184 626h1v1h-1zM186 626h1v1h-1zM53 627h1v1h-1zM109 627h1v1h-1zM128 627h1v1h-1zM138 627h1v1h-1zM155 627h1v1h-1zM157 627h1v1h-1zM160 627h2v1h-2zM173 627h1v1h-1zM179 627h1v1h-1zM50 628h1v1h-1zM58 628h1v1h-1zM64 628h1v1h-1zM92 628h1v1h-1zM99 628h1v1h-1zM128 628h1v1h-1zM131 628h2v1h-2zM156 628h1v1h-1zM161 628h1v1h-1zM176 628h1v1h-1zM182 628h1v1h-1zM50 629h2v1h-2zM119 629h1v1h-1zM150 629h1v1h-1zM153 629h1v1h-1zM156 629h2v1h-2zM162 629h1v1h-1zM169 629h1v1h-1zM173 629h1v1h-1zM180 629h1v1h-1zM80 630h1v1h-1zM126 630h1v1h-1zM143 630h1v1h-1zM148 630h1v1h-1zM164 630h1v1h-1zM172 630h1v1h-1zM177 630h2v1h-2zM180 630h1v1h-1zM190 630h1v1h-1zM50 631h2v1h-2zM110 631h1v1h-1zM136 631h1v1h-1zM148 631h1v1h-1zM157 631h1v1h-1zM162 631h2v1h-2zM146 632h1v1h-1zM150 632h1v1h-1zM154 632h1v1h-1zM185 632h1v1h-1zM56 633h1v1h-1zM145 633h1v1h-1zM156 633h1v1h-1zM166 633h1v1h-1zM170 633h1v1h-1zM177 633h1v1h-1zM74 634h1v1h-1zM161 634h1v1h-1zM170 634h1v1h-1zM184 634h1v1h-1zM97 635h1v1h-1zM129 635h1v1h-1zM57 636h1v1h-1zM121 637h1v1h-1zM136 637h1v1h-1zM138 637h1v1h-1zM63 639h1v1h-1zM121 639h1v1h-1zM123 641h1v1h-1zM131 643h1v1h-1zM68 647h1v1h-1zM124 648h1v1h-1zM50 652h1v1h-1zM183 652h1v1h-1zM156 653h1v1h-1zM112 654h1v1h-1zM128 655h1v1h-1zM141 656h1v1h-1zM51 657h1v1h-1zM153 659h1v1h-1zM49 660h2v1h-2zM50 662h1v1h-1zM142 663h1v1h-1zM50 664h1v1h-1zM50 665h1v1h-1zM50 668h1v1h-1zM73 671h1v1h-1zM148 673h1v1h-1zM182 673h1v1h-1zM128 674h1v1h-1zM176 680h1v1h-1zM180 689h1v1h-1zM159 692h1v1h-1zM167 692h1v1h-1zM132 693h1v1h-1zM126 695h1v1h-1zM177 695h1v1h-1zM119 696h1v1h-1zM178 696h1v1h-1zM181 696h1v1h-1zM184 696h1v1h-1zM166 697h1v1h-1zM83 698h1v1h-1zM168 698h1v1h-1zM106 699h1v1h-1zM110 699h1v1h-1zM51 700h1v1h-1zM61 700h1v1h-1zM93 700h1v1h-1zM109 701h2v1h-2zM79 702h1v1h-1zM149 702h1v1h-1zM181 703h1v1h-1zM122 705h1v1h-1zM52 706h1v1h-1zM163 706h1v1h-1zM171 706h1v1h-1zM110 707h1v1h-1zM171 707h1v1h-1zM178 707h1v1h-1zM106 708h1v1h-1zM154 708h1v1h-1zM106 709h1v1h-1zM165 709h1v1h-1zM172 709h2v1h-2zM177 710h1v1h-1zM81 711h1v1h-1zM91 711h1v1h-1zM106 711h1v1h-1zM125 711h1v1h-1zM127 711h1v1h-1zM163 711h1v1h-1zM165 711h1v1h-1zM170 711h1v1h-1zM176 711h1v1h-1zM182 711h1v1h-1zM53 712h1v1h-1zM101 712h1v1h-1zM169 712h1v1h-1zM178 712h1v1h-1zM76 713h1v1h-1zM106 713h1v1h-1zM135 713h1v1h-1zM137 713h1v1h-1zM175 713h1v1h-1zM155 714h1v1h-1zM172 714h2v1h-2zM75 715h1v1h-1zM174 715h1v1h-1zM177 715h1v1h-1zM181 715h1v1h-1zM163 716h1v1h-1zM170 716h1v1h-1zM182 716h1v1h-1zM67 717h1v1h-1zM156 717h2v1h-2zM169 717h2v1h-2zM179 717h1v1h-1zM60 718h1v1h-1zM159 718h1v1h-1zM173 718h1v1h-1zM56 719h1v1h-1zM60 719h1v1h-1zM78 719h1v1h-1zM130 719h1v1h-1zM146 719h1v1h-1zM155 719h1v1h-1zM162 719h1v1h-1zM168 719h1v1h-1zM170 719h1v1h-1zM183 719h1v1h-1zM124 720h1v1h-1zM139 720h1v1h-1zM164 720h1v1h-1zM168 720h1v1h-1zM178 720h1v1h-1zM148 721h2v1h-2zM153 721h1v1h-1zM164 721h1v1h-1zM174 721h1v1h-1zM177 721h1v1h-1zM73 722h1v1h-1zM142 722h1v1h-1zM163 722h1v1h-1zM165 722h1v1h-1zM168 722h1v1h-1zM184 722h1v1h-1zM57 723h1v1h-1zM68 723h1v1h-1zM70 723h1v1h-1zM91 723h1v1h-1zM127 723h1v1h-1zM160 723h1v1h-1zM162 723h1v1h-1zM172 723h2v1h-2zM179 723h1v1h-1zM181 723h1v1h-1zM185 723h1v1h-1zM56 724h2v1h-2zM73 724h1v1h-1zM92 724h1v1h-1zM158 724h1v1h-1zM165 724h1v1h-1zM171 724h1v1h-1zM175 724h1v1h-1zM179 724h1v1h-1zM129 725h1v1h-1zM152 725h1v1h-1zM160 725h2v1h-2zM167 725h2v1h-2zM173 725h1v1h-1zM181 725h1v1h-1zM59 726h1v1h-1zM72 726h1v1h-1zM76 726h2v1h-2zM80 726h1v1h-1zM82 726h1v1h-1zM123 726h1v1h-1zM135 726h1v1h-1zM157 726h1v1h-1zM168 726h1v1h-1zM179 726h2v1h-2zM185 726h1v1h-1zM52 727h1v1h-1zM60 727h1v1h-1zM143 727h1v1h-1zM161 727h1v1h-1zM164 727h1v1h-1zM166 727h1v1h-1zM176 727h1v1h-1zM178 727h1v1h-1zM50 728h1v1h-1zM62 728h1v1h-1zM144 728h1v1h-1zM166 728h1v1h-1zM172 728h1v1h-1zM174 728h1v1h-1zM179 728h1v1h-1zM51 729h1v1h-1zM57 729h1v1h-1zM62 729h1v1h-1zM68 729h1v1h-1zM96 729h1v1h-1zM125 729h2v1h-2zM142 729h1v1h-1zM144 729h1v1h-1zM147 729h1v1h-1zM152 729h1v1h-1zM155 729h1v1h-1zM160 729h1v1h-1zM162 729h1v1h-1zM166 729h1v1h-1zM168 729h1v1h-1zM170 729h1v1h-1zM179 729h1v1h-1zM184 729h1v1h-1zM51 730h1v1h-1zM53 730h1v1h-1zM85 730h2v1h-2zM134 730h2v1h-2zM141 730h1v1h-1zM143 730h1v1h-1zM145 730h1v1h-1zM173 730h1v1h-1zM175 730h1v1h-1zM178 730h2v1h-2zM181 730h1v1h-1zM183 730h1v1h-1zM53 731h1v1h-1zM55 731h1v1h-1zM78 731h1v1h-1zM83 731h2v1h-2zM115 731h1v1h-1zM119 731h1v1h-1zM122 731h1v1h-1zM126 731h1v1h-1zM130 731h1v1h-1zM134 731h1v1h-1zM147 731h1v1h-1zM154 731h1v1h-1zM162 731h1v1h-1zM165 731h1v1h-1zM167 731h1v1h-1zM173 731h2v1h-2zM179 731h3v1h-3zM52 732h1v1h-1zM110 732h1v1h-1zM131 732h1v1h-1zM135 732h1v1h-1zM157 732h2v1h-2zM160 732h2v1h-2zM167 732h1v1h-1zM174 732h2v1h-2zM177 732h3v1h-3zM50 733h2v1h-2zM71 733h1v1h-1zM81 733h1v1h-1zM96 733h1v1h-1zM126 733h1v1h-1zM134 733h1v1h-1zM151 733h1v1h-1zM160 733h2v1h-2zM169 733h1v1h-1zM171 733h1v1h-1zM177 733h2v1h-2zM181 733h1v1h-1zM57 734h1v1h-1zM63 734h1v1h-1zM66 734h1v1h-1zM69 734h1v1h-1zM84 734h1v1h-1zM124 734h1v1h-1zM141 734h2v1h-2zM148 734h1v1h-1zM150 734h1v1h-1zM152 734h1v1h-1zM156 734h1v1h-1zM158 734h1v1h-1zM160 734h1v1h-1zM164 734h1v1h-1zM171 734h1v1h-1zM183 734h1v1h-1zM52 735h1v1h-1zM55 735h1v1h-1zM61 735h2v1h-2zM77 735h1v1h-1zM79 735h1v1h-1zM85 735h1v1h-1zM89 735h1v1h-1zM119 735h1v1h-1zM127 735h2v1h-2zM136 735h1v1h-1zM143 735h1v1h-1zM149 735h1v1h-1zM154 735h2v1h-2zM161 735h1v1h-1zM167 735h1v1h-1zM181 735h1v1h-1zM183 735h1v1h-1zM52 736h2v1h-2zM59 736h1v1h-1zM62 736h3v1h-3zM70 736h1v1h-1zM74 736h2v1h-2zM104 736h1v1h-1zM114 736h1v1h-1zM129 736h1v1h-1zM135 736h1v1h-1zM139 736h1v1h-1zM141 736h1v1h-1zM143 736h1v1h-1zM147 736h1v1h-1zM152 736h1v1h-1zM165 736h2v1h-2zM175 736h2v1h-2zM181 736h1v1h-1zM183 736h1v1h-1zM51 737h1v1h-1zM54 737h1v1h-1zM58 737h5v1h-5zM64 737h1v1h-1zM66 737h2v1h-2zM84 737h1v1h-1zM118 737h1v1h-1zM123 737h1v1h-1zM126 737h1v1h-1zM128 737h1v1h-1zM133 737h2v1h-2zM138 737h3v1h-3zM146 737h1v1h-1zM151 737h2v1h-2zM154 737h1v1h-1zM156 737h1v1h-1zM158 737h1v1h-1zM171 737h1v1h-1zM173 737h1v1h-1zM176 737h1v1h-1zM53 738h1v1h-1zM57 738h1v1h-1zM59 738h1v1h-1zM61 738h1v1h-1zM67 738h1v1h-1zM71 738h1v1h-1zM124 738h1v1h-1zM126 738h1v1h-1zM140 738h1v1h-1zM142 738h1v1h-1zM149 738h1v1h-1zM151 738h3v1h-3zM160 738h1v1h-1zM163 738h1v1h-1zM167 738h2v1h-2zM170 738h2v1h-2zM173 738h1v1h-1zM179 738h1v1h-1zM50 739h1v1h-1zM56 739h1v1h-1zM58 739h3v1h-3zM63 739h1v1h-1zM67 739h2v1h-2zM70 739h1v1h-1zM74 739h1v1h-1zM84 739h1v1h-1zM87 739h1v1h-1zM105 739h1v1h-1zM140 739h1v1h-1zM149 739h1v1h-1zM155 739h1v1h-1zM162 739h2v1h-2zM168 739h2v1h-2zM172 739h4v1h-4zM49 740h1v1h-1zM56 740h2v1h-2zM62 740h1v1h-1zM66 740h2v1h-2zM69 740h1v1h-1zM78 740h2v1h-2zM83 740h2v1h-2zM112 740h1v1h-1zM131 740h1v1h-1zM133 740h3v1h-3zM138 740h1v1h-1zM140 740h1v1h-1zM144 740h2v1h-2zM147 740h2v1h-2zM157 740h1v1h-1zM162 740h3v1h-3zM166 740h4v1h-4zM171 740h1v1h-1zM173 740h1v1h-1zM176 740h1v1h-1zM49 741h2v1h-2zM54 741h1v1h-1zM63 741h2v1h-2zM67 741h2v1h-2zM71 741h1v1h-1zM74 741h1v1h-1zM76 741h1v1h-1zM80 741h1v1h-1zM85 741h1v1h-1zM87 741h1v1h-1zM113 741h1v1h-1zM115 741h4v1h-4zM123 741h2v1h-2zM127 741h1v1h-1zM131 741h1v1h-1zM140 741h2v1h-2zM143 741h1v1h-1zM148 741h1v1h-1zM150 741h1v1h-1zM152 741h2v1h-2zM162 741h1v1h-1zM164 741h1v1h-1zM170 741h1v1h-1zM173 741h1v1h-1zM49 742h1v1h-1zM57 742h1v1h-1zM60 742h1v1h-1zM64 742h1v1h-1zM70 742h2v1h-2zM75 742h2v1h-2zM96 742h1v1h-1zM117 742h1v1h-1zM125 742h1v1h-1zM133 742h1v1h-1zM139 742h1v1h-1zM141 742h1v1h-1zM144 742h2v1h-2zM147 742h1v1h-1zM152 742h4v1h-4zM158 742h2v1h-2zM164 742h1v1h-1zM169 742h1v1h-1zM49 743h1v1h-1zM51 743h1v1h-1zM59 743h2v1h-2zM63 743h1v1h-1zM65 743h1v1h-1zM68 743h1v1h-1zM70 743h1v1h-1zM73 743h1v1h-1zM75 743h1v1h-1zM79 743h1v1h-1zM84 743h1v1h-1zM94 743h1v1h-1zM114 743h1v1h-1zM120 743h1v1h-1zM125 743h3v1h-3zM130 743h1v1h-1zM132 743h1v1h-1zM140 743h1v1h-1zM142 743h1v1h-1zM144 743h2v1h-2zM150 743h1v1h-1zM158 743h2v1h-2zM161 743h1v1h-1zM71 744h1v1h-1zM77 744h2v1h-2zM80 744h1v1h-1zM87 744h1v1h-1zM104 744h1v1h-1zM113 744h1v1h-1zM118 744h1v1h-1zM120 744h1v1h-1zM122 744h1v1h-1zM126 744h2v1h-2zM129 744h2v1h-2zM132 744h3v1h-3zM137 744h1v1h-1zM141 744h2v1h-2zM145 744h1v1h-1zM147 744h1v1h-1zM150 744h1v1h-1zM152 744h5v1h-5zM74 745h1v1h-1zM81 745h1v1h-1zM86 745h1v1h-1zM94 745h1v1h-1zM97 745h2v1h-2zM100 745h2v1h-2zM104 745h1v1h-1zM106 745h1v1h-1zM113 745h1v1h-1zM117 745h1v1h-1zM122 745h1v1h-1zM130 745h1v1h-1zM132 745h2v1h-2zM138 745h2v1h-2zM149 745h1v1h-1zM155 745h1v1h-1zM82 746h1v1h-1zM84 746h1v1h-1zM86 746h1v1h-1zM90 746h1v1h-1zM92 746h1v1h-1zM94 746h1v1h-1zM98 746h1v1h-1zM106 746h1v1h-1zM108 746h2v1h-2zM112 746h1v1h-1zM115 746h2v1h-2zM118 746h1v1h-1zM120 746h1v1h-1zM123 746h1v1h-1zM128 746h2v1h-2zM131 746h1v1h-1zM133 746h1v1h-1zM135 746h3v1h-3zM140 746h2v1h-2zM143 746h1v1h-1zM145 746h1v1h-1zM79 747h1v1h-1zM105 747h1v1h-1zM113 747h1v1h-1zM118 747h2v1h-2zM122 747h1v1h-1zM126 747h1v1h-1zM133 747h2v1h-2zM136 747h1v1h-1zM92 748h1v1h-1zM103 748h1v1h-1zM108 748h1v1h-1zM110 748h1v1h-1zM119 748h1v1h-1zM122 748h1v1h-1zM127 748h3v1h-3zM133 748h1v1h-1zM78 749h1v1h-1zM92 749h1v1h-1zM108 749h1v1h-1z"/>
<path fill="#dc2626" fill-opacity="0.7" d="M139 614h1v1h-1zM154 615h1v1h-1zM158 615h1v1h-1zM170 615h1v1h-1zM155 616h1v1h-1zM148 617h1v1h-1zM162 618h1v1h-1zM150 619h1v1h-1zM161 620h1v1h-1zM155 621h1v1h-1zM129 622h1v1h-1zM143 623h1v1h-1zM161 623h1v1h-1zM153 624h1v1h-1zM158 624h1v1h-1zM165 624h1v1h-1zM143 626h1v1h-1zM155 626h1v1h-1zM145 628h1v1h-1zM147 628h1v1h-1zM150 628h1v1h-1zM50 630h1v1h-1zM153 632h1v1h-1zM176 708h1v1h-1zM176 713h1v1h-1zM163 724h1v1h-1zM170 725h1v1h-1zM148 726h1v1h-1zM158 726h1v1h-1zM167 726h1v1h-1zM169 727h1v1h-1zM174 729h1v1h-1zM146 730h1v1h-1zM150 730h1v1h-1zM159 731h1v1h-1zM170 731h1v1h-1zM178 731h1v1h-1zM154 732h1v1h-1zM140 733h1v1h-1zM164 733h1v1h-1zM58 734h1v1h-1zM166 734h2v1h-2zM179 734h1v1h-1zM184 734h1v1h-1zM157 735h1v1h-1zM174 735h2v1h-2zM177 735h1v1h-1zM179 735h1v1h-1zM160 736h1v1h-1zM169 736h2v1h-2zM157 737h1v1h-1zM159 737h2v1h-2zM172 737h1v1h-1zM178 737h1v1h-1zM62 738h1v1h-1zM65 738h1v1h-1zM76 738h1v1h-1zM157 738h1v1h-1zM166 738h1v1h-1zM169 738h1v1h-1zM180 738h1v1h-1zM52 739h4v1h-4zM57 739h1v1h-1zM126 739h1v1h-1zM136 739h1v1h-1zM147 739h1v1h-1zM154 739h1v1h-1zM161 739h1v1h-1zM171 739h1v1h-1zM176 739h2v1h-2zM53 740h2v1h-2zM60 740h1v1h-1zM63 740h1v1h-1zM65 740h1v1h-1zM76 740h1v1h-1zM151 740h1v1h-1zM153 740h1v1h-1zM158 740h2v1h-2zM170 740h1v1h-1zM62 741h1v1h-1zM119 741h1v1h-1zM168 741h1v1h-1zM52 742h1v1h-1zM54 742h1v1h-1zM56 742h1v1h-1zM61 742h1v1h-1zM65 742h1v1h-1zM124 742h1v1h-1zM135 742h1v1h-1zM56 743h1v1h-1zM58 743h1v1h-1zM61 743h1v1h-1zM64 743h1v1h-1zM67 743h1v1h-1zM71 743h1v1h-1zM133 743h1v1h-1zM135 743h2v1h-2zM146 743h1v1h-1zM156 743h1v1h-1zM49 744h1v1h-1zM55 744h1v1h-1zM59 744h1v1h-1zM64 744h1v1h-1zM66 744h1v1h-1zM70 744h1v1h-1zM72 744h1v1h-1zM75 744h2v1h-2zM82 744h1v1h-1zM90 744h1v1h-1zM114 744h1v1h-1zM117 744h1v1h-1zM131 744h1v1h-1zM66 745h1v1h-1zM72 745h1v1h-1zM79 745h2v1h-2zM82 745h2v1h-2zM87 745h1v1h-1zM89 745h1v1h-1zM91 745h2v1h-2zM95 745h1v1h-1zM99 745h1v1h-1zM114 745h1v1h-1zM120 745h1v1h-1zM126 745h2v1h-2zM131 745h1v1h-1zM135 745h1v1h-1zM146 745h1v1h-1zM49 746h1v1h-1zM70 746h1v1h-1zM72 746h1v1h-1zM74 746h1v1h-1zM78 746h1v1h-1zM87 746h2v1h-2zM99 746h1v1h-1zM107 746h1v1h-1zM111 746h1v1h-1zM117 746h1v1h-1zM124 746h1v1h-1zM127 746h1v1h-1zM130 746h1v1h-1zM146 746h1v1h-1zM84 747h1v1h-1zM88 747h1v1h-1zM101 747h1v1h-1zM107 747h1v1h-1zM116 747h1v1h-1zM120 747h1v1h-1zM123 747h3v1h-3zM129 747h3v1h-3zM87 748h1v1h-1zM100 748h1v1h-1zM104 748h3v1h-3zM109 748h1v1h-1zM114 748h3v1h-3zM118 748h1v1h-1zM121 748h1v1h-1zM123 748h2v1h-2zM131 748h1v1h-1zM68 749h1v1h-1zM70 749h1v1h-1zM82 749h1v1h-1zM98 749h1v1h-1z"/>
<path fill="#dc2626" fill-opacity="0.85" d="M139 621h1v1h-1zM176 733h1v1h-1zM176 735h1v1h-1zM50 736h1v1h-1zM175 737h1v1h-1zM52 738h1v1h-1zM51 739h1v1h-1zM50 740h1v1h-1zM52 740h1v1h-1zM59 740h1v1h-1zM172 740h1v1h-1zM52 741h2v1h-2zM55 741h2v1h-2zM58 741h1v1h-1zM66 741h1v1h-1zM72 741h1v1h-1zM50 742h1v1h-1zM55 742h1v1h-1zM58 742h2v1h-2zM116 742h1v1h-1zM131 742h1v1h-1zM148 742h1v1h-1zM161 742h1v1h-1zM163 742h1v1h-1zM52 743h1v1h-1zM54 743h1v1h-1zM57 743h1v1h-1zM69 743h1v1h-1zM78 743h1v1h-1zM151 743h1v1h-1zM153 743h1v1h-1zM52 744h1v1h-1zM61 744h3v1h-3zM67 744h1v1h-1zM69 744h1v1h-1zM149 744h1v1h-1zM49 745h1v1h-1zM63 745h1v1h-1zM68 745h1v1h-1zM70 745h1v1h-1zM73 745h1v1h-1zM77 745h1v1h-1zM84 745h1v1h-1zM88 745h1v1h-1zM93 745h1v1h-1zM116 745h1v1h-1zM140 745h1v1h-1zM66 746h2v1h-2zM71 746h1v1h-1zM75 746h3v1h-3zM81 746h1v1h-1zM83 746h1v1h-1zM85 746h1v1h-1zM91 746h1v1h-1zM95 746h3v1h-3zM101 746h1v1h-1zM114 746h1v1h-1zM119 746h1v1h-1zM121 746h2v1h-2zM134 746h1v1h-1zM68 747h1v1h-1zM80 747h1v1h-1zM82 747h2v1h-2zM86 747h1v1h-1zM90 747h1v1h-1zM92 747h6v1h-6zM102 747h3v1h-3zM106 747h1v1h-1zM109 747h2v1h-2zM115 747h1v1h-1zM117 747h1v1h-1zM121 747h1v1h-1zM132 747h1v1h-1zM81 748h1v1h-1zM88 748h1v1h-1zM90 748h1v1h-1zM93 748h1v1h-1zM98 748h2v1h-2zM102 748h1v1h-1zM117 748h1v1h-1zM120 748h1v1h-1zM134 748h1v1h-1zM49 749h1v1h-1zM61 749h1v1h-1zM72 749h2v1h-2zM76 749h1v1h-1zM79 749h1v1h-1zM86 749h2v1h-2zM90 749h2v1h-2z"/>
<path fill="#dc2626" fill-opacity="1.0" d="M51 740h1v1h-1zM51 741h1v1h-1zM51 742h1v1h-1zM53 742h1v1h-1zM50 743h1v1h-1zM53 743h1v1h-1zM55 743h1v1h-1zM50 744h2v1h-2zM53 744h2v1h-2zM56 744h3v1h-3zM60 744h1v1h-1zM65 744h1v1h-1zM50 745h13v1h-13zM64 745h2v1h-2zM67 745h1v1h-1zM69 745h1v1h-1zM71 745h1v1h-1zM76 745h1v1h-1zM78 745h1v1h-1zM50 746h16v1h-16zM68 746h2v1h-2zM73 746h1v1h-1zM79 746h2v1h-2zM89 746h1v1h-1zM49 747h19v1h-19zM69 747h10v1h-10zM81 747h1v1h-1zM85 747h1v1h-1zM87 747h1v1h-1zM89 747h1v1h-1zM91 747h1v1h-1zM98 747h3v1h-3zM112 747h1v1h-1zM49 748h32v1h-32zM82 748h5v1h-5zM89 748h1v1h-1zM91 748h1v1h-1zM94 748h4v1h-4zM50 749h11v1h-11zM62 749h6v1h-6zM69 749h1v1h-1zM71 749h1v1h-1zM74 749h2v1h-2zM77 749h1v1h-1zM80 749h2v1h-2zM83 749h3v1h-3zM88 749h2v1h-2zM93 749h5v1h-5zM99 749h1v1h-1z"/></g>
<g fill="#e23b3b" fill-opacity="0.7"><rect x="41" y="753" width="1.3" height="1.3"/><rect x="41" y="757" width="1.3" height="1.3"/><rect x="37" y="758.5" width="1.3" height="1.3"/><rect x="45.5" y="759.5" width="1.3" height="1.3"/></g>
<line x1="42" y1="585" x2="42" y2="758.8" stroke="#333" stroke-width="1.2"/>
<line x1="41.4" y1="758.3" x2="214.6" y2="758.3" stroke="#333" stroke-width="1.2"/>
<line x1="113.2" y1="583.5" x2="113.2" y2="758.3" stroke="#333" stroke-width="1.2"/>
<line x1="42" y1="677.2" x2="211.6" y2="677.2" stroke="#333" stroke-width="1.2"/>
<line x1="36.4" y1="749.7" x2="42" y2="749.7" stroke="#333" stroke-width="1"/>
<line x1="36.4" y1="711.9" x2="42" y2="711.9" stroke="#333" stroke-width="1"/>
<line x1="36.4" y1="631.6" x2="42" y2="631.6" stroke="#333" stroke-width="1"/>
<line x1="36.4" y1="585.4" x2="42" y2="585.4" stroke="#333" stroke-width="1"/>
<line x1="39.4" y1="746.2" x2="42" y2="746.2" stroke="#333" stroke-width="0.9"/>
<line x1="39.4" y1="742.1" x2="42" y2="742.1" stroke="#333" stroke-width="0.9"/>
<line x1="39.4" y1="738.2" x2="42" y2="738.2" stroke="#333" stroke-width="0.9"/>
<line x1="39.4" y1="734.4" x2="42" y2="734.4" stroke="#333" stroke-width="0.9"/>
<line x1="39.4" y1="730.4" x2="42" y2="730.4" stroke="#333" stroke-width="0.9"/>
<line x1="39.4" y1="726.4" x2="42" y2="726.4" stroke="#333" stroke-width="0.9"/>
<line x1="39.4" y1="722.6" x2="42" y2="722.6" stroke="#333" stroke-width="0.9"/>
<line x1="39.4" y1="719.3" x2="42" y2="719.3" stroke="#333" stroke-width="0.9"/>
<line x1="39.4" y1="715.3" x2="42" y2="715.3" stroke="#333" stroke-width="0.9"/>
<line x1="39.4" y1="683.6" x2="42" y2="683.6" stroke="#333" stroke-width="0.9"/>
<line x1="39.4" y1="667.4" x2="42" y2="667.4" stroke="#333" stroke-width="0.9"/>
<line x1="39.4" y1="657.5" x2="42" y2="657.5" stroke="#333" stroke-width="0.9"/>
<line x1="39.4" y1="649.4" x2="42" y2="649.4" stroke="#333" stroke-width="0.9"/>
<line x1="39.4" y1="644.7" x2="42" y2="644.7" stroke="#333" stroke-width="0.9"/>
<line x1="39.4" y1="640.8" x2="42" y2="640.8" stroke="#333" stroke-width="0.9"/>
<line x1="39.4" y1="638.4" x2="42" y2="638.4" stroke="#333" stroke-width="0.9"/>
<line x1="39.4" y1="636" x2="42" y2="636" stroke="#333" stroke-width="0.9"/>
<line x1="39.4" y1="633.7" x2="42" y2="633.7" stroke="#333" stroke-width="0.9"/>
<line x1="39.4" y1="617.692414200324" x2="42" y2="617.692414200324" stroke="#333" stroke-width="0.9"/>
<line x1="39.4" y1="609.5569980319516" x2="42" y2="609.5569980319516" stroke="#333" stroke-width="0.9"/>
<line x1="39.4" y1="603.7848284006482" x2="42" y2="603.7848284006482" stroke="#333" stroke-width="0.9"/>
<line x1="39.4" y1="599.307585799676" x2="42" y2="599.307585799676" stroke="#333" stroke-width="0.9"/>
<line x1="39.4" y1="595.6494122322756" x2="42" y2="595.6494122322756" stroke="#333" stroke-width="0.9"/>
<line x1="39.4" y1="592.5564705513414" x2="42" y2="592.5564705513414" stroke="#333" stroke-width="0.9"/>
<line x1="39.4" y1="589.8772426009722" x2="42" y2="589.8772426009722" stroke="#333" stroke-width="0.9"/>
<line x1="39.4" y1="587.5139960639032" x2="42" y2="587.5139960639032" stroke="#333" stroke-width="0.9"/>
<line x1="49.5" y1="758.3" x2="49.5" y2="764" stroke="#333" stroke-width="1"/>
<line x1="88.35" y1="758.3" x2="88.35" y2="764" stroke="#333" stroke-width="1"/>
<line x1="168.3" y1="758.3" x2="168.3" y2="764" stroke="#333" stroke-width="1"/>
<line x1="214.3" y1="758.3" x2="214.3" y2="764" stroke="#333" stroke-width="1"/>
<line x1="53.8" y1="758.3" x2="53.8" y2="760.9" stroke="#333" stroke-width="0.9"/>
<line x1="58.1" y1="758.3" x2="58.1" y2="760.9" stroke="#333" stroke-width="0.9"/>
<line x1="61.8" y1="758.3" x2="61.8" y2="760.9" stroke="#333" stroke-width="0.9"/>
<line x1="65.8" y1="758.3" x2="65.8" y2="760.9" stroke="#333" stroke-width="0.9"/>
<line x1="69.8" y1="758.3" x2="69.8" y2="760.9" stroke="#333" stroke-width="0.9"/>
<line x1="73.5" y1="758.3" x2="73.5" y2="760.9" stroke="#333" stroke-width="0.9"/>
<line x1="77.1" y1="758.3" x2="77.1" y2="760.9" stroke="#333" stroke-width="0.9"/>
<line x1="80.8" y1="758.3" x2="80.8" y2="760.9" stroke="#333" stroke-width="0.9"/>
<line x1="84.4" y1="758.3" x2="84.4" y2="760.9" stroke="#333" stroke-width="0.9"/>
<line x1="115.6" y1="758.3" x2="115.6" y2="760.9" stroke="#333" stroke-width="0.9"/>
<line x1="132.5" y1="758.3" x2="132.5" y2="760.9" stroke="#333" stroke-width="0.9"/>
<line x1="142.2" y1="758.3" x2="142.2" y2="760.9" stroke="#333" stroke-width="0.9"/>
<line x1="148.5" y1="758.3" x2="148.5" y2="760.9" stroke="#333" stroke-width="0.9"/>
<line x1="153.6" y1="758.3" x2="153.6" y2="760.9" stroke="#333" stroke-width="0.9"/>
<line x1="157.7" y1="758.3" x2="157.7" y2="760.9" stroke="#333" stroke-width="0.9"/>
<line x1="161.3" y1="758.3" x2="161.3" y2="760.9" stroke="#333" stroke-width="0.9"/>
<line x1="164.8" y1="758.3" x2="164.8" y2="760.9" stroke="#333" stroke-width="0.9"/>
<line x1="182.14737980054315" y1="758.3" x2="182.14737980054315" y2="760.9" stroke="#333" stroke-width="0.9"/>
<line x1="190.2475777171045" y1="758.3" x2="190.2475777171045" y2="760.9" stroke="#333" stroke-width="0.9"/>
<line x1="195.9947596010863" y1="758.3" x2="195.9947596010863" y2="760.9" stroke="#333" stroke-width="0.9"/>
<line x1="200.45262019945687" y1="758.3" x2="200.45262019945687" y2="760.9" stroke="#333" stroke-width="0.9"/>
<line x1="204.09495751764763" y1="758.3" x2="204.09495751764763" y2="760.9" stroke="#333" stroke-width="0.9"/>
<line x1="207.17450984065582" y1="758.3" x2="207.17450984065582" y2="760.9" stroke="#333" stroke-width="0.9"/>
<line x1="209.84213940162942" y1="758.3" x2="209.84213940162942" y2="760.9" stroke="#333" stroke-width="0.9"/>
<line x1="212.19515543420897" y1="758.3" x2="212.19515543420897" y2="760.9" stroke="#333" stroke-width="0.9"/>
<text transform="translate(34.6,749.7) rotate(-90)" font-size="7.4" text-anchor="middle" fill="#222">0</text>
<text transform="translate(34.6,711.9) rotate(-90)" font-size="7.4" text-anchor="middle" fill="#222">10<tspan font-size="4.5" dy="-3">2</tspan></text>
<text transform="translate(34.6,631.6) rotate(-90)" font-size="7.4" text-anchor="middle" fill="#222">10<tspan font-size="4.5" dy="-3">3</tspan></text>
<text transform="translate(34.6,585.4) rotate(-90)" font-size="7.4" text-anchor="middle" fill="#222">10<tspan font-size="4.5" dy="-3">4</tspan></text>
<text x="49.5" y="772.3" font-size="7.4" text-anchor="middle" fill="#222">0</text>
<text x="89.35" y="772.3" font-size="7.4" text-anchor="middle" fill="#222">10<tspan font-size="4.5" dy="-3">2</tspan></text>
<text x="169.3" y="772.3" font-size="7.4" text-anchor="middle" fill="#222">10<tspan font-size="4.5" dy="-3">3</tspan></text>
<text x="215.3" y="772.3" font-size="7.4" text-anchor="middle" fill="#222">10<tspan font-size="4.5" dy="-3">4</tspan></text>
<text x="46.6" y="594" font-size="10.3" fill="#222">3</text>
<text x="203.3" y="594" font-size="10.3" fill="#222">4</text>
<text x="44.4" y="687.8" font-size="10.3" fill="#222">1</text>
<text x="203.6" y="688.2" font-size="10.3" fill="#222">2</text>
<text transform="translate(27.6,670.2) rotate(-90)" font-size="10" text-anchor="middle" fill="#222" textLength="8.2" lengthAdjust="spacingAndGlyphs">PI</text>
<text x="64" y="577" font-size="12.6" fill="#222" textLength="99.5" lengthAdjust="spacingAndGlyphs">Scrambled 0% CSE</text>
<text x="92.8" y="779.8" font-size="10.2" fill="#222" textLength="47.6" lengthAdjust="spacingAndGlyphs">Annexin-V</text>
<text x="38.8" y="794.7" font-size="9.3" fill="#222" textLength="59.8" lengthAdjust="spacingAndGlyphs">1Viable = 85%</text>
<text x="38.8" y="806.8000000000001" font-size="9.3" fill="#222" textLength="73" lengthAdjust="spacingAndGlyphs">2 Apoptotic = 7%</text>
<text x="38.8" y="818.9000000000001" font-size="9.3" fill="#222" textLength="77.3" lengthAdjust="spacingAndGlyphs">3+4 Necrotic = 8%</text>
<g shape-rendering="crispEdges"><path fill="#dc2626" fill-opacity="0.5" d="M393 590h1v1h-1zM287 591h1v1h-1zM323 592h1v1h-1zM378 592h1v1h-1zM350 594h1v1h-1zM426 596h1v1h-1zM390 597h1v1h-1zM383 598h1v1h-1zM405 598h1v1h-1zM358 599h1v1h-1zM366 600h1v1h-1zM379 600h1v1h-1zM293 602h1v1h-1zM321 603h1v1h-1zM345 603h1v1h-1zM317 604h1v1h-1zM390 604h1v1h-1zM302 605h1v1h-1zM321 605h1v1h-1zM325 605h1v1h-1zM288 606h1v1h-1zM310 606h1v1h-1zM329 606h1v1h-1zM349 606h1v1h-1zM354 606h1v1h-1zM388 606h1v1h-1zM420 606h1v1h-1zM318 607h1v1h-1zM322 607h1v1h-1zM366 607h1v1h-1zM306 608h1v1h-1zM347 608h1v1h-1zM378 608h1v1h-1zM382 608h1v1h-1zM398 608h1v1h-1zM296 609h1v1h-1zM396 609h1v1h-1zM318 610h1v1h-1zM323 610h1v1h-1zM344 610h1v1h-1zM351 610h1v1h-1zM356 610h1v1h-1zM387 610h1v1h-1zM391 610h1v1h-1zM398 610h1v1h-1zM407 610h1v1h-1zM272 611h1v1h-1zM297 611h1v1h-1zM312 611h1v1h-1zM334 611h1v1h-1zM352 611h1v1h-1zM385 611h1v1h-1zM268 612h1v1h-1zM290 612h1v1h-1zM311 612h1v1h-1zM335 612h1v1h-1zM346 612h1v1h-1zM360 612h1v1h-1zM383 612h1v1h-1zM269 613h1v1h-1zM317 613h1v1h-1zM357 613h1v1h-1zM386 613h1v1h-1zM268 614h1v1h-1zM289 614h1v1h-1zM310 614h1v1h-1zM314 614h1v1h-1zM343 614h1v1h-1zM348 614h1v1h-1zM358 614h2v1h-2zM368 614h1v1h-1zM371 614h1v1h-1zM378 614h1v1h-1zM389 614h1v1h-1zM404 614h1v1h-1zM268 615h1v1h-1zM279 615h1v1h-1zM289 615h1v1h-1zM337 615h1v1h-1zM349 615h1v1h-1zM361 615h1v1h-1zM363 615h1v1h-1zM365 615h1v1h-1zM381 615h1v1h-1zM383 615h1v1h-1zM312 616h1v1h-1zM356 616h2v1h-2zM379 616h1v1h-1zM385 616h1v1h-1zM391 616h1v1h-1zM400 616h1v1h-1zM404 616h1v1h-1zM292 617h1v1h-1zM325 617h1v1h-1zM344 617h1v1h-1zM347 617h1v1h-1zM351 617h1v1h-1zM368 617h1v1h-1zM374 617h2v1h-2zM380 617h1v1h-1zM408 617h1v1h-1zM268 618h2v1h-2zM271 618h1v1h-1zM274 618h1v1h-1zM340 618h1v1h-1zM355 618h1v1h-1zM364 618h1v1h-1zM377 618h2v1h-2zM381 618h2v1h-2zM408 618h1v1h-1zM299 619h1v1h-1zM319 619h1v1h-1zM330 619h1v1h-1zM334 619h1v1h-1zM352 619h1v1h-1zM360 619h1v1h-1zM382 619h2v1h-2zM396 619h1v1h-1zM400 619h1v1h-1zM286 620h1v1h-1zM306 620h1v1h-1zM345 620h3v1h-3zM349 620h1v1h-1zM379 620h1v1h-1zM382 620h1v1h-1zM388 620h1v1h-1zM395 620h2v1h-2zM399 620h1v1h-1zM401 620h1v1h-1zM267 621h1v1h-1zM279 621h1v1h-1zM338 621h1v1h-1zM344 621h1v1h-1zM376 621h1v1h-1zM393 621h1v1h-1zM403 621h1v1h-1zM407 621h1v1h-1zM269 622h1v1h-1zM281 622h1v1h-1zM284 622h1v1h-1zM286 622h1v1h-1zM314 622h1v1h-1zM319 622h1v1h-1zM333 622h1v1h-1zM345 622h1v1h-1zM349 622h1v1h-1zM352 622h1v1h-1zM370 622h2v1h-2zM374 622h1v1h-1zM385 622h1v1h-1zM389 622h2v1h-2zM403 622h1v1h-1zM268 623h1v1h-1zM299 623h1v1h-1zM329 623h1v1h-1zM332 623h1v1h-1zM348 623h1v1h-1zM374 623h1v1h-1zM376 623h2v1h-2zM383 623h1v1h-1zM387 623h1v1h-1zM390 623h1v1h-1zM398 623h1v1h-1zM407 623h3v1h-3zM272 624h1v1h-1zM277 624h1v1h-1zM303 624h1v1h-1zM334 624h1v1h-1zM342 624h1v1h-1zM347 624h2v1h-2zM354 624h1v1h-1zM358 624h1v1h-1zM373 624h3v1h-3zM378 624h1v1h-1zM383 624h1v1h-1zM390 624h1v1h-1zM392 624h1v1h-1zM399 624h1v1h-1zM405 624h1v1h-1zM268 625h1v1h-1zM294 625h1v1h-1zM338 625h1v1h-1zM364 625h3v1h-3zM390 625h1v1h-1zM393 625h1v1h-1zM395 625h1v1h-1zM399 625h1v1h-1zM401 625h3v1h-3zM405 625h1v1h-1zM288 626h1v1h-1zM293 626h1v1h-1zM315 626h1v1h-1zM334 626h1v1h-1zM336 626h2v1h-2zM344 626h2v1h-2zM370 626h1v1h-1zM381 626h1v1h-1zM388 626h1v1h-1zM390 626h1v1h-1zM396 626h1v1h-1zM409 626h1v1h-1zM273 627h1v1h-1zM305 627h1v1h-1zM310 627h2v1h-2zM337 627h1v1h-1zM343 627h1v1h-1zM370 627h1v1h-1zM382 627h1v1h-1zM388 627h1v1h-1zM396 627h1v1h-1zM399 627h1v1h-1zM404 627h1v1h-1zM271 628h1v1h-1zM275 628h1v1h-1zM297 628h1v1h-1zM330 628h1v1h-1zM334 628h1v1h-1zM337 628h1v1h-1zM339 628h1v1h-1zM348 628h1v1h-1zM356 628h1v1h-1zM361 628h1v1h-1zM364 628h1v1h-1zM371 628h1v1h-1zM374 628h1v1h-1zM380 628h1v1h-1zM387 628h1v1h-1zM391 628h1v1h-1zM394 628h1v1h-1zM402 628h1v1h-1zM405 628h1v1h-1zM409 628h1v1h-1zM298 629h1v1h-1zM325 629h1v1h-1zM337 629h1v1h-1zM349 629h1v1h-1zM354 629h1v1h-1zM361 629h1v1h-1zM363 629h1v1h-1zM376 629h1v1h-1zM388 629h1v1h-1zM390 629h1v1h-1zM397 629h1v1h-1zM400 629h1v1h-1zM406 629h1v1h-1zM277 630h1v1h-1zM287 630h1v1h-1zM300 630h1v1h-1zM322 630h1v1h-1zM343 630h3v1h-3zM347 630h1v1h-1zM352 630h2v1h-2zM366 630h1v1h-1zM379 630h1v1h-1zM384 630h1v1h-1zM393 630h1v1h-1zM396 630h1v1h-1zM399 630h1v1h-1zM402 630h1v1h-1zM404 630h1v1h-1zM267 631h1v1h-1zM278 631h1v1h-1zM289 631h1v1h-1zM349 631h1v1h-1zM351 631h1v1h-1zM355 631h1v1h-1zM376 631h1v1h-1zM378 631h2v1h-2zM384 631h1v1h-1zM392 631h1v1h-1zM396 631h1v1h-1zM401 631h1v1h-1zM403 631h1v1h-1zM268 632h1v1h-1zM270 632h1v1h-1zM335 632h1v1h-1zM350 632h1v1h-1zM364 632h1v1h-1zM368 632h1v1h-1zM372 632h2v1h-2zM377 632h1v1h-1zM383 632h2v1h-2zM394 632h1v1h-1zM404 632h1v1h-1zM408 632h1v1h-1zM268 633h2v1h-2zM290 633h1v1h-1zM335 633h1v1h-1zM350 633h1v1h-1zM354 633h2v1h-2zM378 633h2v1h-2zM381 633h1v1h-1zM384 633h1v1h-1zM386 633h1v1h-1zM406 633h1v1h-1zM268 634h1v1h-1zM275 634h1v1h-1zM284 634h1v1h-1zM315 634h1v1h-1zM353 634h1v1h-1zM356 634h1v1h-1zM358 634h1v1h-1zM360 634h1v1h-1zM362 634h1v1h-1zM375 634h1v1h-1zM377 634h2v1h-2zM382 634h1v1h-1zM387 634h1v1h-1zM396 634h1v1h-1zM402 634h1v1h-1zM293 635h1v1h-1zM333 635h1v1h-1zM377 635h1v1h-1zM395 635h1v1h-1zM409 635h1v1h-1zM270 636h1v1h-1zM301 636h1v1h-1zM334 636h1v1h-1zM356 636h1v1h-1zM360 636h1v1h-1zM391 636h1v1h-1zM399 636h1v1h-1zM363 637h1v1h-1zM372 637h1v1h-1zM378 637h1v1h-1zM386 637h1v1h-1zM401 637h1v1h-1zM404 637h1v1h-1zM408 637h1v1h-1zM311 638h1v1h-1zM348 638h1v1h-1zM369 638h1v1h-1zM378 638h1v1h-1zM388 638h1v1h-1zM399 638h1v1h-1zM401 638h1v1h-1zM321 639h1v1h-1zM361 639h1v1h-1zM368 639h1v1h-1zM373 639h1v1h-1zM377 639h1v1h-1zM387 639h1v1h-1zM389 639h1v1h-1zM392 639h1v1h-1zM396 639h1v1h-1zM401 639h1v1h-1zM336 640h1v1h-1zM338 640h1v1h-1zM364 640h1v1h-1zM371 640h2v1h-2zM381 640h1v1h-1zM268 641h2v1h-2zM387 641h1v1h-1zM402 641h1v1h-1zM269 642h1v1h-1zM321 642h1v1h-1zM373 642h1v1h-1zM377 642h1v1h-1zM383 642h1v1h-1zM386 642h1v1h-1zM394 642h1v1h-1zM321 643h1v1h-1zM360 643h1v1h-1zM363 643h1v1h-1zM377 643h1v1h-1zM382 643h2v1h-2zM389 643h1v1h-1zM269 644h1v1h-1zM338 644h1v1h-1zM348 644h1v1h-1zM357 644h1v1h-1zM361 644h1v1h-1zM391 644h1v1h-1zM393 644h1v1h-1zM404 644h1v1h-1zM275 645h1v1h-1zM315 645h1v1h-1zM349 645h1v1h-1zM375 645h1v1h-1zM379 645h2v1h-2zM395 645h1v1h-1zM407 645h1v1h-1zM359 646h1v1h-1zM379 646h1v1h-1zM401 646h1v1h-1zM267 647h1v1h-1zM350 647h1v1h-1zM360 647h1v1h-1zM363 647h2v1h-2zM367 647h2v1h-2zM378 647h1v1h-1zM385 647h1v1h-1zM394 647h1v1h-1zM267 648h1v1h-1zM269 648h1v1h-1zM317 648h1v1h-1zM330 648h1v1h-1zM370 649h1v1h-1zM380 649h1v1h-1zM397 649h1v1h-1zM301 650h1v1h-1zM327 650h1v1h-1zM351 650h1v1h-1zM363 650h1v1h-1zM366 650h1v1h-1zM389 650h1v1h-1zM394 650h1v1h-1zM386 651h1v1h-1zM268 652h1v1h-1zM351 652h1v1h-1zM374 652h2v1h-2zM382 652h1v1h-1zM397 652h1v1h-1zM268 653h2v1h-2zM349 653h1v1h-1zM368 653h1v1h-1zM267 654h1v1h-1zM269 654h1v1h-1zM342 654h1v1h-1zM345 654h1v1h-1zM364 654h1v1h-1zM377 654h1v1h-1zM384 654h1v1h-1zM268 655h1v1h-1zM363 655h1v1h-1zM373 655h1v1h-1zM376 655h1v1h-1zM380 655h2v1h-2zM396 655h1v1h-1zM402 655h1v1h-1zM275 656h1v1h-1zM350 656h1v1h-1zM379 656h1v1h-1zM383 656h1v1h-1zM396 656h2v1h-2zM380 657h1v1h-1zM392 657h1v1h-1zM396 657h1v1h-1zM267 658h1v1h-1zM274 658h1v1h-1zM376 658h1v1h-1zM379 658h1v1h-1zM370 659h1v1h-1zM377 659h1v1h-1zM354 660h1v1h-1zM374 660h1v1h-1zM386 660h1v1h-1zM388 660h1v1h-1zM355 661h1v1h-1zM365 661h1v1h-1zM368 661h1v1h-1zM383 661h1v1h-1zM385 661h2v1h-2zM389 661h1v1h-1zM368 662h1v1h-1zM372 662h2v1h-2zM376 662h1v1h-1zM390 662h2v1h-2zM393 662h1v1h-1zM395 662h1v1h-1zM399 662h1v1h-1zM372 663h1v1h-1zM384 663h1v1h-1zM397 663h1v1h-1zM357 664h1v1h-1zM376 664h1v1h-1zM369 665h1v1h-1zM373 665h1v1h-1zM395 665h1v1h-1zM368 666h1v1h-1zM402 666h2v1h-2zM368 667h2v1h-2zM372 667h1v1h-1zM378 667h1v1h-1zM386 667h1v1h-1zM391 667h1v1h-1zM362 668h1v1h-1zM377 668h1v1h-1zM382 668h1v1h-1zM389 668h2v1h-2zM396 668h1v1h-1zM403 668h1v1h-1zM289 669h1v1h-1zM320 669h1v1h-1zM363 669h1v1h-1zM339 670h1v1h-1zM375 670h1v1h-1zM389 670h1v1h-1zM398 670h1v1h-1zM406 670h1v1h-1zM359 671h1v1h-1zM364 671h1v1h-1zM371 671h1v1h-1zM376 671h1v1h-1zM395 671h1v1h-1zM373 672h1v1h-1zM380 672h1v1h-1zM387 672h1v1h-1zM397 672h1v1h-1zM399 672h1v1h-1zM416 672h1v1h-1zM352 673h1v1h-1zM356 673h1v1h-1zM361 673h2v1h-2zM378 673h1v1h-1zM370 674h1v1h-1zM393 675h1v1h-1zM367 676h1v1h-1zM378 676h1v1h-1zM383 676h1v1h-1zM376 677h1v1h-1zM395 677h1v1h-1zM372 679h1v1h-1zM377 679h1v1h-1zM386 679h1v1h-1zM401 679h1v1h-1zM379 680h1v1h-1zM381 680h1v1h-1zM384 680h1v1h-1zM388 680h1v1h-1zM392 680h3v1h-3zM370 681h1v1h-1zM391 681h1v1h-1zM393 681h1v1h-1zM359 682h1v1h-1zM380 682h1v1h-1zM386 682h1v1h-1zM391 682h1v1h-1zM366 683h1v1h-1zM377 683h1v1h-1zM390 683h1v1h-1zM378 684h1v1h-1zM391 684h1v1h-1zM368 685h1v1h-1zM382 685h1v1h-1zM384 685h1v1h-1zM389 685h1v1h-1zM400 685h1v1h-1zM364 686h1v1h-1zM367 686h1v1h-1zM389 686h2v1h-2zM398 686h1v1h-1zM370 687h1v1h-1zM377 687h1v1h-1zM383 687h1v1h-1zM393 687h1v1h-1zM395 687h2v1h-2zM401 687h1v1h-1zM338 688h1v1h-1zM348 688h1v1h-1zM369 688h1v1h-1zM374 688h4v1h-4zM380 688h1v1h-1zM397 688h1v1h-1zM399 688h2v1h-2zM404 688h1v1h-1zM278 689h1v1h-1zM342 689h1v1h-1zM359 689h1v1h-1zM367 689h1v1h-1zM370 689h1v1h-1zM373 689h1v1h-1zM376 689h1v1h-1zM385 689h1v1h-1zM388 689h1v1h-1zM395 689h4v1h-4zM366 690h3v1h-3zM376 690h1v1h-1zM380 690h1v1h-1zM389 690h1v1h-1zM396 690h1v1h-1zM345 691h1v1h-1zM349 691h1v1h-1zM362 691h1v1h-1zM379 691h1v1h-1zM386 691h1v1h-1zM393 691h1v1h-1zM400 691h2v1h-2zM288 692h1v1h-1zM337 692h1v1h-1zM341 692h1v1h-1zM343 692h1v1h-1zM360 692h1v1h-1zM372 692h1v1h-1zM377 692h2v1h-2zM381 692h1v1h-1zM383 692h1v1h-1zM391 692h1v1h-1zM402 692h1v1h-1zM274 693h1v1h-1zM295 693h1v1h-1zM325 693h1v1h-1zM333 693h1v1h-1zM346 693h1v1h-1zM361 693h2v1h-2zM378 693h2v1h-2zM381 693h1v1h-1zM386 693h1v1h-1zM391 693h1v1h-1zM396 693h1v1h-1zM398 693h2v1h-2zM273 694h1v1h-1zM281 694h1v1h-1zM366 694h1v1h-1zM372 694h1v1h-1zM374 694h1v1h-1zM380 694h2v1h-2zM386 694h1v1h-1zM391 694h1v1h-1zM396 694h2v1h-2zM399 694h1v1h-1zM322 695h1v1h-1zM360 695h1v1h-1zM373 695h1v1h-1zM376 695h2v1h-2zM383 695h1v1h-1zM386 695h2v1h-2zM391 695h1v1h-1zM393 695h1v1h-1zM395 695h1v1h-1zM399 695h1v1h-1zM401 695h2v1h-2zM316 696h1v1h-1zM340 696h1v1h-1zM348 696h1v1h-1zM363 696h1v1h-1zM376 696h1v1h-1zM381 696h1v1h-1zM383 696h1v1h-1zM385 696h1v1h-1zM397 696h1v1h-1zM278 697h1v1h-1zM287 697h1v1h-1zM311 697h1v1h-1zM354 697h1v1h-1zM359 697h2v1h-2zM364 697h1v1h-1zM374 697h1v1h-1zM379 697h1v1h-1zM387 697h1v1h-1zM392 697h1v1h-1zM308 698h1v1h-1zM341 698h1v1h-1zM361 698h1v1h-1zM371 698h1v1h-1zM376 698h2v1h-2zM383 698h2v1h-2zM386 698h1v1h-1zM388 698h1v1h-1zM393 698h1v1h-1zM304 699h1v1h-1zM312 699h1v1h-1zM336 699h1v1h-1zM345 699h1v1h-1zM349 699h1v1h-1zM357 699h1v1h-1zM364 699h1v1h-1zM372 699h2v1h-2zM382 699h1v1h-1zM384 699h1v1h-1zM387 699h2v1h-2zM391 699h1v1h-1zM398 699h1v1h-1zM400 699h1v1h-1zM403 699h1v1h-1zM277 700h1v1h-1zM338 700h1v1h-1zM361 700h1v1h-1zM369 700h1v1h-1zM372 700h2v1h-2zM384 700h2v1h-2zM387 700h1v1h-1zM395 700h2v1h-2zM305 701h1v1h-1zM341 701h1v1h-1zM350 701h2v1h-2zM369 701h1v1h-1zM371 701h1v1h-1zM373 701h1v1h-1zM385 701h1v1h-1zM387 701h1v1h-1zM392 701h2v1h-2zM395 701h2v1h-2zM321 702h1v1h-1zM347 702h1v1h-1zM350 702h1v1h-1zM365 702h1v1h-1zM379 702h1v1h-1zM381 702h1v1h-1zM384 702h1v1h-1zM386 702h1v1h-1zM390 702h1v1h-1zM400 702h2v1h-2zM408 702h1v1h-1zM267 703h1v1h-1zM316 703h1v1h-1zM343 703h1v1h-1zM347 703h1v1h-1zM350 703h1v1h-1zM357 703h1v1h-1zM371 703h2v1h-2zM378 703h1v1h-1zM380 703h1v1h-1zM387 703h1v1h-1zM389 703h4v1h-4zM394 703h1v1h-1zM398 703h1v1h-1zM400 703h1v1h-1zM363 704h1v1h-1zM365 704h1v1h-1zM368 704h1v1h-1zM372 704h1v1h-1zM374 704h1v1h-1zM377 704h1v1h-1zM379 704h1v1h-1zM381 704h1v1h-1zM383 704h1v1h-1zM387 704h1v1h-1zM390 704h1v1h-1zM400 704h1v1h-1zM355 705h1v1h-1zM360 705h1v1h-1zM368 705h2v1h-2zM372 705h1v1h-1zM375 705h1v1h-1zM377 705h1v1h-1zM379 705h2v1h-2zM383 705h1v1h-1zM390 705h1v1h-1zM401 705h1v1h-1zM278 706h1v1h-1zM346 706h1v1h-1zM348 706h1v1h-1zM355 706h1v1h-1zM364 706h2v1h-2zM370 706h1v1h-1zM381 706h2v1h-2zM387 706h1v1h-1zM393 706h1v1h-1zM396 706h1v1h-1zM292 707h1v1h-1zM339 707h1v1h-1zM368 707h1v1h-1zM374 707h1v1h-1zM376 707h1v1h-1zM386 707h1v1h-1zM390 707h3v1h-3zM400 707h1v1h-1zM336 708h1v1h-1zM363 708h2v1h-2zM367 708h1v1h-1zM371 708h1v1h-1zM373 708h1v1h-1zM393 708h1v1h-1zM399 708h1v1h-1zM401 708h1v1h-1zM300 709h1v1h-1zM317 709h1v1h-1zM347 709h1v1h-1zM366 709h1v1h-1zM379 709h1v1h-1zM389 709h1v1h-1zM392 709h1v1h-1zM396 709h1v1h-1zM398 709h1v1h-1zM401 709h1v1h-1zM279 710h1v1h-1zM348 710h1v1h-1zM356 710h1v1h-1zM362 710h1v1h-1zM364 710h1v1h-1zM371 710h1v1h-1zM373 710h1v1h-1zM378 710h1v1h-1zM385 710h1v1h-1zM389 710h1v1h-1zM391 710h1v1h-1zM398 710h1v1h-1zM400 710h1v1h-1zM403 710h1v1h-1zM340 711h1v1h-1zM343 711h1v1h-1zM350 711h1v1h-1zM352 711h1v1h-1zM365 711h1v1h-1zM376 711h1v1h-1zM380 711h1v1h-1zM388 711h2v1h-2zM391 711h1v1h-1zM396 711h3v1h-3zM297 712h1v1h-1zM336 712h1v1h-1zM349 712h1v1h-1zM352 712h1v1h-1zM362 712h1v1h-1zM368 712h2v1h-2zM372 712h1v1h-1zM376 712h2v1h-2zM381 712h3v1h-3zM387 712h1v1h-1zM312 713h1v1h-1zM328 713h1v1h-1zM337 713h1v1h-1zM340 713h1v1h-1zM350 713h1v1h-1zM355 713h1v1h-1zM360 713h1v1h-1zM368 713h2v1h-2zM372 713h1v1h-1zM376 713h1v1h-1zM383 713h1v1h-1zM385 713h2v1h-2zM396 713h3v1h-3zM278 714h1v1h-1zM302 714h1v1h-1zM319 714h1v1h-1zM342 714h1v1h-1zM356 714h1v1h-1zM358 714h1v1h-1zM367 714h1v1h-1zM369 714h1v1h-1zM371 714h1v1h-1zM374 714h1v1h-1zM376 714h1v1h-1zM384 714h1v1h-1zM393 714h1v1h-1zM395 714h1v1h-1zM281 715h1v1h-1zM284 715h1v1h-1zM335 715h1v1h-1zM354 715h1v1h-1zM364 715h3v1h-3zM370 715h1v1h-1zM374 715h1v1h-1zM378 715h1v1h-1zM382 715h1v1h-1zM385 715h1v1h-1zM387 715h1v1h-1zM391 715h1v1h-1zM395 715h1v1h-1zM399 715h2v1h-2zM291 716h1v1h-1zM325 716h1v1h-1zM342 716h2v1h-2zM345 716h1v1h-1zM347 716h1v1h-1zM355 716h3v1h-3zM368 716h1v1h-1zM370 716h1v1h-1zM373 716h1v1h-1zM379 716h1v1h-1zM384 716h2v1h-2zM392 716h1v1h-1zM395 716h3v1h-3zM400 716h1v1h-1zM310 717h1v1h-1zM351 717h1v1h-1zM364 717h2v1h-2zM375 717h1v1h-1zM382 717h2v1h-2zM385 717h1v1h-1zM392 717h1v1h-1zM394 717h1v1h-1zM397 717h2v1h-2zM295 718h1v1h-1zM317 718h1v1h-1zM336 718h1v1h-1zM352 718h3v1h-3zM360 718h1v1h-1zM364 718h1v1h-1zM370 718h1v1h-1zM372 718h1v1h-1zM374 718h1v1h-1zM378 718h1v1h-1zM381 718h2v1h-2zM386 718h1v1h-1zM389 718h1v1h-1zM393 718h1v1h-1zM395 718h1v1h-1zM403 718h1v1h-1zM293 719h1v1h-1zM338 719h1v1h-1zM342 719h1v1h-1zM344 719h1v1h-1zM346 719h1v1h-1zM358 719h1v1h-1zM361 719h1v1h-1zM364 719h2v1h-2zM371 719h3v1h-3zM375 719h1v1h-1zM377 719h1v1h-1zM388 719h2v1h-2zM391 719h2v1h-2zM394 719h1v1h-1zM396 719h3v1h-3zM402 719h1v1h-1zM297 720h1v1h-1zM334 720h1v1h-1zM351 720h1v1h-1zM354 720h2v1h-2zM362 720h1v1h-1zM373 720h1v1h-1zM376 720h1v1h-1zM378 720h1v1h-1zM380 720h1v1h-1zM386 720h1v1h-1zM388 720h1v1h-1zM395 720h3v1h-3zM400 720h3v1h-3zM404 720h1v1h-1zM340 721h1v1h-1zM346 721h1v1h-1zM348 721h1v1h-1zM352 721h1v1h-1zM365 721h1v1h-1zM369 721h1v1h-1zM373 721h1v1h-1zM375 721h1v1h-1zM380 721h1v1h-1zM382 721h1v1h-1zM387 721h1v1h-1zM390 721h1v1h-1zM394 721h1v1h-1zM396 721h2v1h-2zM268 722h1v1h-1zM274 722h2v1h-2zM292 722h1v1h-1zM295 722h1v1h-1zM309 722h1v1h-1zM345 722h1v1h-1zM349 722h2v1h-2zM355 722h2v1h-2zM358 722h3v1h-3zM362 722h1v1h-1zM365 722h1v1h-1zM374 722h1v1h-1zM380 722h1v1h-1zM383 722h4v1h-4zM391 722h1v1h-1zM393 722h3v1h-3zM398 722h1v1h-1zM314 723h1v1h-1zM342 723h1v1h-1zM350 723h1v1h-1zM357 723h1v1h-1zM365 723h1v1h-1zM369 723h1v1h-1zM371 723h2v1h-2zM376 723h1v1h-1zM385 723h1v1h-1zM390 723h1v1h-1zM393 723h1v1h-1zM397 723h1v1h-1zM400 723h1v1h-1zM303 724h1v1h-1zM322 724h1v1h-1zM347 724h2v1h-2zM350 724h2v1h-2zM357 724h1v1h-1zM360 724h1v1h-1zM364 724h1v1h-1zM366 724h3v1h-3zM370 724h2v1h-2zM375 724h2v1h-2zM380 724h3v1h-3zM384 724h2v1h-2zM395 724h1v1h-1zM399 724h1v1h-1zM285 725h1v1h-1zM299 725h1v1h-1zM341 725h1v1h-1zM356 725h1v1h-1zM360 725h2v1h-2zM365 725h1v1h-1zM372 725h1v1h-1zM375 725h3v1h-3zM380 725h1v1h-1zM384 725h3v1h-3zM398 725h2v1h-2zM279 726h1v1h-1zM346 726h1v1h-1zM353 726h3v1h-3zM357 726h1v1h-1zM360 726h1v1h-1zM365 726h2v1h-2zM370 726h2v1h-2zM374 726h2v1h-2zM377 726h2v1h-2zM387 726h1v1h-1zM389 726h1v1h-1zM391 726h1v1h-1zM394 726h1v1h-1zM396 726h2v1h-2zM402 726h1v1h-1zM404 726h1v1h-1zM270 727h1v1h-1zM275 727h1v1h-1zM277 727h1v1h-1zM282 727h1v1h-1zM340 727h1v1h-1zM358 727h1v1h-1zM363 727h2v1h-2zM366 727h1v1h-1zM372 727h2v1h-2zM377 727h1v1h-1zM379 727h3v1h-3zM383 727h2v1h-2zM386 727h1v1h-1zM389 727h1v1h-1zM391 727h1v1h-1zM396 727h2v1h-2zM400 727h1v1h-1zM276 728h1v1h-1zM278 728h1v1h-1zM291 728h1v1h-1zM308 728h1v1h-1zM344 728h1v1h-1zM356 728h1v1h-1zM359 728h1v1h-1zM361 728h1v1h-1zM369 728h1v1h-1zM371 728h3v1h-3zM375 728h2v1h-2zM381 728h1v1h-1zM385 728h1v1h-1zM389 728h1v1h-1zM394 728h3v1h-3zM398 728h1v1h-1zM403 728h1v1h-1zM271 729h1v1h-1zM276 729h1v1h-1zM312 729h1v1h-1zM334 729h1v1h-1zM342 729h1v1h-1zM344 729h2v1h-2zM348 729h1v1h-1zM355 729h2v1h-2zM360 729h1v1h-1zM362 729h1v1h-1zM365 729h2v1h-2zM370 729h2v1h-2zM373 729h2v1h-2zM385 729h2v1h-2zM388 729h2v1h-2zM391 729h1v1h-1zM393 729h1v1h-1zM397 729h1v1h-1zM288 730h1v1h-1zM325 730h1v1h-1zM334 730h1v1h-1zM336 730h1v1h-1zM344 730h1v1h-1zM346 730h1v1h-1zM348 730h2v1h-2zM353 730h2v1h-2zM357 730h1v1h-1zM359 730h1v1h-1zM362 730h1v1h-1zM368 730h2v1h-2zM374 730h1v1h-1zM376 730h1v1h-1zM383 730h2v1h-2zM388 730h3v1h-3zM405 730h1v1h-1zM269 731h1v1h-1zM275 731h1v1h-1zM286 731h1v1h-1zM297 731h1v1h-1zM315 731h1v1h-1zM318 731h1v1h-1zM340 731h1v1h-1zM342 731h2v1h-2zM346 731h1v1h-1zM350 731h1v1h-1zM352 731h1v1h-1zM356 731h1v1h-1zM363 731h1v1h-1zM367 731h1v1h-1zM370 731h2v1h-2zM377 731h1v1h-1zM379 731h1v1h-1zM381 731h3v1h-3zM388 731h1v1h-1zM391 731h2v1h-2zM395 731h2v1h-2zM398 731h1v1h-1zM400 731h2v1h-2zM403 731h1v1h-1zM282 732h2v1h-2zM295 732h1v1h-1zM301 732h1v1h-1zM303 732h1v1h-1zM309 732h1v1h-1zM324 732h1v1h-1zM328 732h1v1h-1zM332 732h1v1h-1zM341 732h1v1h-1zM344 732h1v1h-1zM347 732h1v1h-1zM350 732h1v1h-1zM353 732h4v1h-4zM363 732h1v1h-1zM365 732h1v1h-1zM369 732h2v1h-2zM372 732h1v1h-1zM375 732h1v1h-1zM380 732h1v1h-1zM382 732h1v1h-1zM384 732h1v1h-1zM386 732h2v1h-2zM391 732h5v1h-5zM399 732h1v1h-1zM273 733h1v1h-1zM279 733h1v1h-1zM299 733h1v1h-1zM319 733h1v1h-1zM342 733h1v1h-1zM344 733h1v1h-1zM347 733h1v1h-1zM352 733h4v1h-4zM357 733h1v1h-1zM363 733h1v1h-1zM365 733h1v1h-1zM367 733h1v1h-1zM375 733h2v1h-2zM382 733h1v1h-1zM384 733h1v1h-1zM389 733h2v1h-2zM392 733h3v1h-3zM396 733h4v1h-4zM401 733h1v1h-1zM275 734h1v1h-1zM278 734h1v1h-1zM281 734h1v1h-1zM283 734h1v1h-1zM302 734h1v1h-1zM313 734h1v1h-1zM321 734h1v1h-1zM338 734h1v1h-1zM344 734h2v1h-2zM355 734h1v1h-1zM357 734h1v1h-1zM360 734h2v1h-2zM363 734h4v1h-4zM369 734h1v1h-1zM373 734h1v1h-1zM377 734h1v1h-1zM383 734h1v1h-1zM385 734h2v1h-2zM388 734h1v1h-1zM392 734h1v1h-1zM394 734h2v1h-2zM397 734h4v1h-4zM402 734h2v1h-2zM270 735h2v1h-2zM279 735h1v1h-1zM302 735h1v1h-1zM307 735h2v1h-2zM333 735h1v1h-1zM341 735h2v1h-2zM344 735h1v1h-1zM346 735h1v1h-1zM349 735h2v1h-2zM352 735h1v1h-1zM356 735h2v1h-2zM361 735h3v1h-3zM365 735h2v1h-2zM368 735h3v1h-3zM373 735h2v1h-2zM376 735h2v1h-2zM384 735h2v1h-2zM387 735h3v1h-3zM393 735h2v1h-2zM396 735h2v1h-2zM399 735h1v1h-1zM403 735h1v1h-1zM270 736h1v1h-1zM275 736h2v1h-2zM284 736h1v1h-1zM292 736h1v1h-1zM297 736h2v1h-2zM311 736h1v1h-1zM336 736h1v1h-1zM339 736h3v1h-3zM345 736h1v1h-1zM349 736h1v1h-1zM352 736h3v1h-3zM356 736h2v1h-2zM362 736h2v1h-2zM366 736h1v1h-1zM371 736h1v1h-1zM374 736h1v1h-1zM377 736h1v1h-1zM380 736h1v1h-1zM386 736h1v1h-1zM392 736h1v1h-1zM396 736h3v1h-3zM401 736h1v1h-1zM268 737h1v1h-1zM272 737h1v1h-1zM274 737h1v1h-1zM283 737h2v1h-2zM290 737h1v1h-1zM301 737h1v1h-1zM333 737h1v1h-1zM335 737h1v1h-1zM339 737h3v1h-3zM343 737h1v1h-1zM347 737h1v1h-1zM354 737h2v1h-2zM361 737h1v1h-1zM364 737h3v1h-3zM369 737h1v1h-1zM371 737h1v1h-1zM377 737h3v1h-3zM386 737h1v1h-1zM389 737h1v1h-1zM392 737h2v1h-2zM395 737h1v1h-1zM397 737h1v1h-1zM400 737h2v1h-2zM269 738h1v1h-1zM275 738h2v1h-2zM301 738h1v1h-1zM314 738h2v1h-2zM341 738h1v1h-1zM346 738h1v1h-1zM348 738h3v1h-3zM352 738h2v1h-2zM355 738h2v1h-2zM361 738h1v1h-1zM363 738h1v1h-1zM366 738h1v1h-1zM369 738h1v1h-1zM376 738h3v1h-3zM380 738h1v1h-1zM389 738h1v1h-1zM392 738h1v1h-1zM394 738h2v1h-2zM397 738h1v1h-1zM399 738h1v1h-1zM268 739h2v1h-2zM277 739h1v1h-1zM279 739h1v1h-1zM281 739h1v1h-1zM283 739h1v1h-1zM289 739h1v1h-1zM293 739h1v1h-1zM297 739h2v1h-2zM315 739h1v1h-1zM318 739h1v1h-1zM330 739h1v1h-1zM332 739h1v1h-1zM338 739h1v1h-1zM342 739h2v1h-2zM346 739h1v1h-1zM353 739h1v1h-1zM359 739h4v1h-4zM364 739h1v1h-1zM373 739h1v1h-1zM376 739h2v1h-2zM380 739h2v1h-2zM387 739h3v1h-3zM392 739h4v1h-4zM268 740h2v1h-2zM273 740h1v1h-1zM280 740h1v1h-1zM283 740h1v1h-1zM285 740h1v1h-1zM289 740h2v1h-2zM305 740h1v1h-1zM327 740h1v1h-1zM334 740h2v1h-2zM340 740h2v1h-2zM343 740h1v1h-1zM348 740h1v1h-1zM357 740h3v1h-3zM365 740h1v1h-1zM368 740h2v1h-2zM372 740h1v1h-1zM375 740h2v1h-2zM378 740h1v1h-1zM383 740h1v1h-1zM386 740h3v1h-3zM392 740h3v1h-3zM396 740h2v1h-2zM407 740h1v1h-1zM267 741h1v1h-1zM277 741h1v1h-1zM279 741h1v1h-1zM283 741h2v1h-2zM293 741h1v1h-1zM298 741h1v1h-1zM302 741h1v1h-1zM310 741h1v1h-1zM313 741h1v1h-1zM319 741h1v1h-1zM324 741h1v1h-1zM327 741h1v1h-1zM336 741h1v1h-1zM345 741h1v1h-1zM348 741h1v1h-1zM350 741h1v1h-1zM352 741h1v1h-1zM361 741h1v1h-1zM365 741h1v1h-1zM367 741h1v1h-1zM372 741h3v1h-3zM380 741h2v1h-2zM384 741h1v1h-1zM387 741h1v1h-1zM393 741h1v1h-1zM267 742h1v1h-1zM270 742h1v1h-1zM284 742h1v1h-1zM286 742h1v1h-1zM293 742h2v1h-2zM302 742h1v1h-1zM304 742h1v1h-1zM310 742h2v1h-2zM321 742h2v1h-2zM324 742h2v1h-2zM332 742h1v1h-1zM335 742h2v1h-2zM339 742h1v1h-1zM341 742h1v1h-1zM348 742h2v1h-2zM356 742h2v1h-2zM360 742h3v1h-3zM364 742h1v1h-1zM369 742h1v1h-1zM371 742h1v1h-1zM374 742h2v1h-2zM380 742h1v1h-1zM382 742h2v1h-2zM386 742h1v1h-1zM271 743h1v1h-1zM275 743h1v1h-1zM277 743h1v1h-1zM280 743h1v1h-1zM289 743h2v1h-2zM296 743h1v1h-1zM303 743h1v1h-1zM307 743h1v1h-1zM314 743h1v1h-1zM316 743h1v1h-1zM321 743h1v1h-1zM326 743h2v1h-2zM331 743h1v1h-1zM334 743h1v1h-1zM336 743h7v1h-7zM345 743h1v1h-1zM349 743h1v1h-1zM351 743h1v1h-1zM355 743h1v1h-1zM359 743h1v1h-1zM361 743h1v1h-1zM368 743h1v1h-1zM373 743h4v1h-4zM284 744h2v1h-2zM289 744h1v1h-1zM294 744h3v1h-3zM299 744h2v1h-2zM303 744h2v1h-2zM307 744h3v1h-3zM311 744h1v1h-1zM313 744h2v1h-2zM316 744h1v1h-1zM320 744h2v1h-2zM324 744h4v1h-4zM329 744h2v1h-2zM334 744h1v1h-1zM336 744h1v1h-1zM339 744h1v1h-1zM348 744h2v1h-2zM352 744h1v1h-1zM354 744h2v1h-2zM357 744h1v1h-1zM360 744h1v1h-1zM367 744h1v1h-1zM374 744h3v1h-3zM386 744h2v1h-2zM267 745h1v1h-1zM286 745h3v1h-3zM293 745h1v1h-1zM303 745h1v1h-1zM306 745h2v1h-2zM309 745h1v1h-1zM313 745h2v1h-2zM316 745h2v1h-2zM320 745h1v1h-1zM322 745h1v1h-1zM326 745h2v1h-2zM334 745h1v1h-1zM337 745h1v1h-1zM339 745h1v1h-1zM341 745h1v1h-1zM345 745h2v1h-2zM355 745h1v1h-1zM357 745h1v1h-1zM369 745h1v1h-1zM371 745h1v1h-1zM307 746h1v1h-1zM311 746h1v1h-1zM313 746h1v1h-1zM315 746h1v1h-1zM317 746h2v1h-2zM322 746h1v1h-1zM333 746h1v1h-1zM336 746h1v1h-1zM340 746h1v1h-1zM343 746h1v1h-1zM349 746h2v1h-2zM359 746h2v1h-2zM364 746h1v1h-1zM367 746h1v1h-1zM299 747h1v1h-1zM314 747h1v1h-1zM316 747h1v1h-1zM318 747h1v1h-1zM320 747h3v1h-3zM348 747h1v1h-1zM357 747h1v1h-1zM360 747h1v1h-1zM362 747h2v1h-2zM365 747h3v1h-3zM321 748h1v1h-1zM325 748h1v1h-1zM330 748h6v1h-6zM339 748h5v1h-5zM345 748h1v1h-1zM347 748h1v1h-1zM351 748h1v1h-1zM361 748h1v1h-1zM364 748h1v1h-1zM307 749h1v1h-1zM310 749h1v1h-1zM315 749h1v1h-1zM319 749h3v1h-3zM329 749h1v1h-1zM331 749h1v1h-1zM333 749h1v1h-1zM342 749h1v1h-1zM347 749h1v1h-1zM351 749h1v1h-1z"/>
<path fill="#dc2626" fill-opacity="0.7" d="M390 610h1v1h-1zM387 617h1v1h-1zM399 618h1v1h-1zM268 620h1v1h-1zM356 620h1v1h-1zM372 620h1v1h-1zM357 621h1v1h-1zM409 621h1v1h-1zM399 622h1v1h-1zM345 623h1v1h-1zM354 623h1v1h-1zM373 623h1v1h-1zM369 625h1v1h-1zM385 625h1v1h-1zM398 625h1v1h-1zM404 625h1v1h-1zM352 626h1v1h-1zM383 626h1v1h-1zM359 627h1v1h-1zM400 627h1v1h-1zM269 628h1v1h-1zM353 628h1v1h-1zM359 628h1v1h-1zM359 629h1v1h-1zM386 629h1v1h-1zM361 630h1v1h-1zM352 631h1v1h-1zM385 634h1v1h-1zM394 634h1v1h-1zM348 635h1v1h-1zM268 636h1v1h-1zM267 639h1v1h-1zM380 640h1v1h-1zM370 642h1v1h-1zM385 650h1v1h-1zM268 654h1v1h-1zM268 657h1v1h-1zM381 665h1v1h-1zM369 673h1v1h-1zM383 685h1v1h-1zM382 686h1v1h-1zM389 687h1v1h-1zM392 689h1v1h-1zM336 690h1v1h-1zM385 690h1v1h-1zM397 690h1v1h-1zM400 690h1v1h-1zM383 691h1v1h-1zM390 691h1v1h-1zM370 696h1v1h-1zM399 696h1v1h-1zM395 697h1v1h-1zM368 698h1v1h-1zM378 700h1v1h-1zM386 700h1v1h-1zM398 700h1v1h-1zM400 700h1v1h-1zM374 701h1v1h-1zM382 702h1v1h-1zM381 703h1v1h-1zM398 704h1v1h-1zM384 705h1v1h-1zM395 705h1v1h-1zM398 705h1v1h-1zM395 706h1v1h-1zM387 707h1v1h-1zM344 708h1v1h-1zM359 708h1v1h-1zM364 709h1v1h-1zM367 709h1v1h-1zM385 709h1v1h-1zM393 709h1v1h-1zM380 710h1v1h-1zM388 710h1v1h-1zM384 711h1v1h-1zM391 712h1v1h-1zM400 712h1v1h-1zM377 713h1v1h-1zM380 713h1v1h-1zM382 713h1v1h-1zM392 713h1v1h-1zM395 713h1v1h-1zM362 714h1v1h-1zM378 714h1v1h-1zM398 714h1v1h-1zM384 715h1v1h-1zM390 715h1v1h-1zM393 715h1v1h-1zM371 716h1v1h-1zM377 716h1v1h-1zM383 716h1v1h-1zM387 716h2v1h-2zM372 717h1v1h-1zM390 717h1v1h-1zM396 717h1v1h-1zM401 717h2v1h-2zM385 718h1v1h-1zM390 718h1v1h-1zM366 719h1v1h-1zM378 719h1v1h-1zM359 720h1v1h-1zM365 720h1v1h-1zM393 721h1v1h-1zM395 721h1v1h-1zM368 722h2v1h-2zM378 722h1v1h-1zM399 722h1v1h-1zM378 723h1v1h-1zM381 723h1v1h-1zM386 723h1v1h-1zM391 723h1v1h-1zM363 724h1v1h-1zM369 724h1v1h-1zM391 724h1v1h-1zM400 724h1v1h-1zM347 725h1v1h-1zM370 725h1v1h-1zM388 725h1v1h-1zM390 725h1v1h-1zM395 725h1v1h-1zM383 726h1v1h-1zM392 726h2v1h-2zM355 727h1v1h-1zM374 727h1v1h-1zM393 727h1v1h-1zM395 727h1v1h-1zM363 728h1v1h-1zM377 728h1v1h-1zM380 728h1v1h-1zM382 728h1v1h-1zM399 728h1v1h-1zM357 729h1v1h-1zM367 729h1v1h-1zM372 729h1v1h-1zM376 729h1v1h-1zM378 729h1v1h-1zM380 729h1v1h-1zM396 729h1v1h-1zM358 730h1v1h-1zM361 730h1v1h-1zM379 730h1v1h-1zM392 730h2v1h-2zM396 730h1v1h-1zM401 730h2v1h-2zM339 731h1v1h-1zM351 731h1v1h-1zM355 731h1v1h-1zM360 731h2v1h-2zM375 731h1v1h-1zM390 731h1v1h-1zM397 731h1v1h-1zM352 732h1v1h-1zM371 732h1v1h-1zM373 732h1v1h-1zM381 732h1v1h-1zM396 732h1v1h-1zM401 732h1v1h-1zM272 733h1v1h-1zM356 733h1v1h-1zM369 733h1v1h-1zM373 733h1v1h-1zM383 733h1v1h-1zM386 733h1v1h-1zM279 734h1v1h-1zM353 734h1v1h-1zM368 734h1v1h-1zM371 734h1v1h-1zM378 734h1v1h-1zM384 734h1v1h-1zM387 734h1v1h-1zM401 734h1v1h-1zM280 735h1v1h-1zM347 735h2v1h-2zM364 735h1v1h-1zM372 735h1v1h-1zM380 735h1v1h-1zM386 735h1v1h-1zM400 735h2v1h-2zM273 736h1v1h-1zM348 736h1v1h-1zM359 736h1v1h-1zM361 736h1v1h-1zM367 736h1v1h-1zM369 736h1v1h-1zM384 736h2v1h-2zM393 736h3v1h-3zM275 737h2v1h-2zM293 737h1v1h-1zM352 737h1v1h-1zM356 737h2v1h-2zM363 737h1v1h-1zM370 737h1v1h-1zM373 737h2v1h-2zM383 737h1v1h-1zM388 737h1v1h-1zM390 737h2v1h-2zM394 737h1v1h-1zM274 738h1v1h-1zM283 738h1v1h-1zM343 738h1v1h-1zM347 738h1v1h-1zM351 738h1v1h-1zM379 738h1v1h-1zM388 738h1v1h-1zM280 739h1v1h-1zM284 739h1v1h-1zM348 739h1v1h-1zM356 739h2v1h-2zM367 739h1v1h-1zM374 739h1v1h-1zM378 739h1v1h-1zM382 739h1v1h-1zM384 739h2v1h-2zM391 739h1v1h-1zM271 740h1v1h-1zM274 740h1v1h-1zM333 740h1v1h-1zM338 740h1v1h-1zM345 740h1v1h-1zM352 740h1v1h-1zM354 740h1v1h-1zM363 740h1v1h-1zM367 740h1v1h-1zM370 740h1v1h-1zM379 740h3v1h-3zM389 740h2v1h-2zM268 741h1v1h-1zM270 741h1v1h-1zM309 741h1v1h-1zM338 741h1v1h-1zM341 741h1v1h-1zM353 741h2v1h-2zM356 741h3v1h-3zM360 741h1v1h-1zM366 741h1v1h-1zM375 741h1v1h-1zM377 741h1v1h-1zM379 741h1v1h-1zM382 741h1v1h-1zM389 741h1v1h-1zM272 742h1v1h-1zM274 742h2v1h-2zM279 742h2v1h-2zM283 742h1v1h-1zM285 742h1v1h-1zM287 742h1v1h-1zM289 742h2v1h-2zM305 742h1v1h-1zM323 742h1v1h-1zM337 742h2v1h-2zM344 742h1v1h-1zM347 742h1v1h-1zM350 742h1v1h-1zM353 742h2v1h-2zM359 742h1v1h-1zM370 742h1v1h-1zM381 742h1v1h-1zM268 743h2v1h-2zM274 743h1v1h-1zM276 743h1v1h-1zM295 743h1v1h-1zM333 743h1v1h-1zM343 743h1v1h-1zM346 743h1v1h-1zM348 743h1v1h-1zM352 743h1v1h-1zM371 743h2v1h-2zM378 743h1v1h-1zM396 743h1v1h-1zM273 744h1v1h-1zM282 744h2v1h-2zM290 744h2v1h-2zM293 744h1v1h-1zM312 744h1v1h-1zM328 744h1v1h-1zM332 744h2v1h-2zM341 744h1v1h-1zM344 744h1v1h-1zM347 744h1v1h-1zM351 744h1v1h-1zM353 744h1v1h-1zM362 744h1v1h-1zM364 744h2v1h-2zM368 744h2v1h-2zM373 744h1v1h-1zM279 745h1v1h-1zM283 745h3v1h-3zM290 745h1v1h-1zM292 745h1v1h-1zM295 745h1v1h-1zM297 745h3v1h-3zM305 745h1v1h-1zM329 745h1v1h-1zM336 745h1v1h-1zM338 745h1v1h-1zM347 745h3v1h-3zM352 745h1v1h-1zM354 745h1v1h-1zM356 745h1v1h-1zM360 745h1v1h-1zM363 745h1v1h-1zM286 746h1v1h-1zM294 746h2v1h-2zM297 746h2v1h-2zM305 746h1v1h-1zM312 746h1v1h-1zM316 746h1v1h-1zM327 746h1v1h-1zM332 746h1v1h-1zM337 746h1v1h-1zM341 746h1v1h-1zM344 746h1v1h-1zM347 746h2v1h-2zM352 746h2v1h-2zM356 746h1v1h-1zM362 746h2v1h-2zM365 746h1v1h-1zM307 747h1v1h-1zM319 747h1v1h-1zM323 747h2v1h-2zM326 747h1v1h-1zM330 747h2v1h-2zM336 747h1v1h-1zM338 747h2v1h-2zM345 747h3v1h-3zM349 747h1v1h-1zM351 747h1v1h-1zM358 747h1v1h-1zM361 747h1v1h-1zM312 748h1v1h-1zM315 748h1v1h-1zM317 748h1v1h-1zM337 748h1v1h-1zM346 748h1v1h-1zM350 748h1v1h-1zM354 748h1v1h-1zM292 749h1v1h-1zM312 749h1v1h-1zM316 749h1v1h-1zM318 749h1v1h-1zM324 749h1v1h-1zM326 749h1v1h-1z"/>
<path fill="#dc2626" fill-opacity="0.85" d="M359 624h1v1h-1zM398 630h1v1h-1zM398 631h1v1h-1zM268 639h1v1h-1zM376 674h1v1h-1zM372 693h1v1h-1zM393 696h1v1h-1zM399 699h1v1h-1zM379 710h1v1h-1zM400 714h1v1h-1zM376 716h1v1h-1zM387 718h1v1h-1zM392 718h1v1h-1zM381 719h1v1h-1zM384 720h1v1h-1zM367 721h1v1h-1zM392 722h1v1h-1zM394 723h1v1h-1zM374 724h1v1h-1zM383 724h1v1h-1zM383 725h1v1h-1zM393 725h1v1h-1zM357 727h1v1h-1zM366 728h1v1h-1zM379 728h1v1h-1zM397 728h1v1h-1zM390 729h1v1h-1zM387 730h1v1h-1zM394 730h1v1h-1zM397 730h1v1h-1zM393 731h1v1h-1zM358 732h1v1h-1zM379 732h1v1h-1zM389 732h1v1h-1zM400 732h1v1h-1zM348 733h1v1h-1zM362 733h1v1h-1zM370 733h1v1h-1zM372 733h1v1h-1zM380 733h1v1h-1zM385 733h1v1h-1zM387 733h1v1h-1zM391 733h1v1h-1zM354 735h1v1h-1zM371 735h1v1h-1zM382 735h1v1h-1zM364 736h2v1h-2zM370 736h1v1h-1zM372 736h1v1h-1zM383 736h1v1h-1zM388 736h2v1h-2zM391 736h1v1h-1zM380 737h1v1h-1zM387 737h1v1h-1zM398 737h1v1h-1zM354 738h1v1h-1zM357 738h1v1h-1zM360 738h1v1h-1zM368 738h1v1h-1zM372 738h1v1h-1zM382 738h1v1h-1zM385 738h1v1h-1zM396 738h1v1h-1zM274 739h1v1h-1zM347 739h1v1h-1zM351 739h1v1h-1zM358 739h1v1h-1zM366 739h1v1h-1zM368 739h1v1h-1zM370 739h1v1h-1zM386 739h1v1h-1zM350 740h1v1h-1zM356 740h1v1h-1zM373 740h2v1h-2zM382 740h1v1h-1zM385 740h1v1h-1zM269 741h1v1h-1zM275 741h1v1h-1zM282 741h1v1h-1zM343 741h1v1h-1zM351 741h1v1h-1zM359 741h1v1h-1zM364 741h1v1h-1zM371 741h1v1h-1zM378 741h1v1h-1zM383 741h1v1h-1zM269 742h1v1h-1zM271 742h1v1h-1zM273 742h1v1h-1zM276 742h3v1h-3zM295 742h1v1h-1zM345 742h1v1h-1zM363 742h1v1h-1zM365 742h1v1h-1zM367 742h2v1h-2zM372 742h2v1h-2zM378 742h2v1h-2zM270 743h1v1h-1zM273 743h1v1h-1zM350 743h1v1h-1zM353 743h2v1h-2zM356 743h1v1h-1zM358 743h1v1h-1zM360 743h1v1h-1zM362 743h6v1h-6zM269 744h2v1h-2zM272 744h1v1h-1zM274 744h1v1h-1zM276 744h1v1h-1zM279 744h3v1h-3zM286 744h1v1h-1zM288 744h1v1h-1zM292 744h1v1h-1zM297 744h1v1h-1zM338 744h1v1h-1zM340 744h1v1h-1zM342 744h1v1h-1zM345 744h2v1h-2zM359 744h1v1h-1zM366 744h1v1h-1zM370 744h1v1h-1zM268 745h1v1h-1zM276 745h1v1h-1zM280 745h1v1h-1zM296 745h1v1h-1zM300 745h2v1h-2zM304 745h1v1h-1zM331 745h1v1h-1zM343 745h2v1h-2zM350 745h1v1h-1zM359 745h1v1h-1zM361 745h2v1h-2zM365 745h3v1h-3zM267 746h1v1h-1zM290 746h3v1h-3zM300 746h3v1h-3zM304 746h1v1h-1zM309 746h1v1h-1zM314 746h1v1h-1zM323 746h4v1h-4zM328 746h4v1h-4zM334 746h1v1h-1zM338 746h2v1h-2zM342 746h1v1h-1zM351 746h1v1h-1zM354 746h1v1h-1zM357 746h2v1h-2zM294 747h1v1h-1zM296 747h1v1h-1zM302 747h2v1h-2zM305 747h1v1h-1zM309 747h1v1h-1zM312 747h2v1h-2zM317 747h1v1h-1zM325 747h1v1h-1zM327 747h1v1h-1zM335 747h1v1h-1zM337 747h1v1h-1zM343 747h1v1h-1zM350 747h1v1h-1zM352 747h1v1h-1zM354 747h1v1h-1zM267 748h1v1h-1zM304 748h1v1h-1zM306 748h2v1h-2zM310 748h1v1h-1zM313 748h2v1h-2zM316 748h1v1h-1zM318 748h1v1h-1zM320 748h1v1h-1zM322 748h3v1h-3zM327 748h2v1h-2zM338 748h1v1h-1zM267 749h1v1h-1zM296 749h1v1h-1zM298 749h1v1h-1zM300 749h3v1h-3zM305 749h2v1h-2zM309 749h1v1h-1zM311 749h1v1h-1zM314 749h1v1h-1z"/>
<path fill="#dc2626" fill-opacity="1.0" d="M274 741h1v1h-1zM358 742h1v1h-1zM366 742h1v1h-1zM377 742h1v1h-1zM268 744h1v1h-1zM271 744h1v1h-1zM275 744h1v1h-1zM277 744h2v1h-2zM361 744h1v1h-1zM269 745h7v1h-7zM277 745h2v1h-2zM281 745h2v1h-2zM289 745h1v1h-1zM291 745h1v1h-1zM351 745h1v1h-1zM268 746h18v1h-18zM287 746h3v1h-3zM293 746h1v1h-1zM296 746h1v1h-1zM303 746h1v1h-1zM268 747h26v1h-26zM295 747h1v1h-1zM297 747h2v1h-2zM300 747h2v1h-2zM304 747h1v1h-1zM306 747h1v1h-1zM308 747h1v1h-1zM310 747h2v1h-2zM328 747h1v1h-1zM344 747h1v1h-1zM268 748h36v1h-36zM305 748h1v1h-1zM308 748h2v1h-2zM311 748h1v1h-1zM319 748h1v1h-1zM329 748h1v1h-1zM268 749h24v1h-24zM293 749h3v1h-3zM297 749h1v1h-1zM299 749h1v1h-1zM303 749h2v1h-2z"/></g>
<g fill="#e23b3b" fill-opacity="0.7"><rect x="258.9" y="753" width="1.3" height="1.3"/><rect x="258.9" y="757" width="1.3" height="1.3"/><rect x="254.9" y="758.5" width="1.3" height="1.3"/><rect x="263.4" y="759.5" width="1.3" height="1.3"/></g>
<line x1="259.9" y1="585" x2="259.9" y2="758.8" stroke="#333" stroke-width="1.2"/>
<line x1="259.29999999999995" y1="758.3" x2="432.5" y2="758.3" stroke="#333" stroke-width="1.2"/>
<line x1="331.1" y1="583.5" x2="331.1" y2="758.3" stroke="#333" stroke-width="1.2"/>
<line x1="259.9" y1="677.2" x2="434.2" y2="677.2" stroke="#333" stroke-width="1.2"/>
<line x1="254.29999999999998" y1="749.7" x2="259.9" y2="749.7" stroke="#333" stroke-width="1"/>
<line x1="254.29999999999998" y1="711.9" x2="259.9" y2="711.9" stroke="#333" stroke-width="1"/>
<line x1="254.29999999999998" y1="631.6" x2="259.9" y2="631.6" stroke="#333" stroke-width="1"/>
<line x1="254.29999999999998" y1="585.4" x2="259.9" y2="585.4" stroke="#333" stroke-width="1"/>
<line x1="257.29999999999995" y1="746.2" x2="259.9" y2="746.2" stroke="#333" stroke-width="0.9"/>
<line x1="257.29999999999995" y1="742.1" x2="259.9" y2="742.1" stroke="#333" stroke-width="0.9"/>
<line x1="257.29999999999995" y1="738.2" x2="259.9" y2="738.2" stroke="#333" stroke-width="0.9"/>
<line x1="257.29999999999995" y1="734.4" x2="259.9" y2="734.4" stroke="#333" stroke-width="0.9"/>
<line x1="257.29999999999995" y1="730.4" x2="259.9" y2="730.4" stroke="#333" stroke-width="0.9"/>
<line x1="257.29999999999995" y1="726.4" x2="259.9" y2="726.4" stroke="#333" stroke-width="0.9"/>
<line x1="257.29999999999995" y1="722.6" x2="259.9" y2="722.6" stroke="#333" stroke-width="0.9"/>
<line x1="257.29999999999995" y1="719.3" x2="259.9" y2="719.3" stroke="#333" stroke-width="0.9"/>
<line x1="257.29999999999995" y1="715.3" x2="259.9" y2="715.3" stroke="#333" stroke-width="0.9"/>
<line x1="257.29999999999995" y1="683.6" x2="259.9" y2="683.6" stroke="#333" stroke-width="0.9"/>
<line x1="257.29999999999995" y1="667.4" x2="259.9" y2="667.4" stroke="#333" stroke-width="0.9"/>
<line x1="257.29999999999995" y1="657.5" x2="259.9" y2="657.5" stroke="#333" stroke-width="0.9"/>
<line x1="257.29999999999995" y1="649.4" x2="259.9" y2="649.4" stroke="#333" stroke-width="0.9"/>
<line x1="257.29999999999995" y1="644.7" x2="259.9" y2="644.7" stroke="#333" stroke-width="0.9"/>
<line x1="257.29999999999995" y1="640.8" x2="259.9" y2="640.8" stroke="#333" stroke-width="0.9"/>
<line x1="257.29999999999995" y1="638.4" x2="259.9" y2="638.4" stroke="#333" stroke-width="0.9"/>
<line x1="257.29999999999995" y1="636" x2="259.9" y2="636" stroke="#333" stroke-width="0.9"/>
<line x1="257.29999999999995" y1="633.7" x2="259.9" y2="633.7" stroke="#333" stroke-width="0.9"/>
<line x1="257.29999999999995" y1="617.692414200324" x2="259.9" y2="617.692414200324" stroke="#333" stroke-width="0.9"/>
<line x1="257.29999999999995" y1="609.5569980319516" x2="259.9" y2="609.5569980319516" stroke="#333" stroke-width="0.9"/>
<line x1="257.29999999999995" y1="603.7848284006482" x2="259.9" y2="603.7848284006482" stroke="#333" stroke-width="0.9"/>
<line x1="257.29999999999995" y1="599.307585799676" x2="259.9" y2="599.307585799676" stroke="#333" stroke-width="0.9"/>
<line x1="257.29999999999995" y1="595.6494122322756" x2="259.9" y2="595.6494122322756" stroke="#333" stroke-width="0.9"/>
<line x1="257.29999999999995" y1="592.5564705513414" x2="259.9" y2="592.5564705513414" stroke="#333" stroke-width="0.9"/>
<line x1="257.29999999999995" y1="589.8772426009722" x2="259.9" y2="589.8772426009722" stroke="#333" stroke-width="0.9"/>
<line x1="257.29999999999995" y1="587.5139960639032" x2="259.9" y2="587.5139960639032" stroke="#333" stroke-width="0.9"/>
<line x1="267.4" y1="758.3" x2="267.4" y2="764" stroke="#333" stroke-width="1"/>
<line x1="306.25" y1="758.3" x2="306.25" y2="764" stroke="#333" stroke-width="1"/>
<line x1="386.20000000000005" y1="758.3" x2="386.20000000000005" y2="764" stroke="#333" stroke-width="1"/>
<line x1="432.20000000000005" y1="758.3" x2="432.20000000000005" y2="764" stroke="#333" stroke-width="1"/>
<line x1="271.7" y1="758.3" x2="271.7" y2="760.9" stroke="#333" stroke-width="0.9"/>
<line x1="276.0" y1="758.3" x2="276.0" y2="760.9" stroke="#333" stroke-width="0.9"/>
<line x1="279.7" y1="758.3" x2="279.7" y2="760.9" stroke="#333" stroke-width="0.9"/>
<line x1="283.7" y1="758.3" x2="283.7" y2="760.9" stroke="#333" stroke-width="0.9"/>
<line x1="287.7" y1="758.3" x2="287.7" y2="760.9" stroke="#333" stroke-width="0.9"/>
<line x1="291.4" y1="758.3" x2="291.4" y2="760.9" stroke="#333" stroke-width="0.9"/>
<line x1="295.0" y1="758.3" x2="295.0" y2="760.9" stroke="#333" stroke-width="0.9"/>
<line x1="298.7" y1="758.3" x2="298.7" y2="760.9" stroke="#333" stroke-width="0.9"/>
<line x1="302.3" y1="758.3" x2="302.3" y2="760.9" stroke="#333" stroke-width="0.9"/>
<line x1="333.5" y1="758.3" x2="333.5" y2="760.9" stroke="#333" stroke-width="0.9"/>
<line x1="350.4" y1="758.3" x2="350.4" y2="760.9" stroke="#333" stroke-width="0.9"/>
<line x1="360.1" y1="758.3" x2="360.1" y2="760.9" stroke="#333" stroke-width="0.9"/>
<line x1="366.4" y1="758.3" x2="366.4" y2="760.9" stroke="#333" stroke-width="0.9"/>
<line x1="371.5" y1="758.3" x2="371.5" y2="760.9" stroke="#333" stroke-width="0.9"/>
<line x1="375.6" y1="758.3" x2="375.6" y2="760.9" stroke="#333" stroke-width="0.9"/>
<line x1="379.20000000000005" y1="758.3" x2="379.20000000000005" y2="760.9" stroke="#333" stroke-width="0.9"/>
<line x1="382.70000000000005" y1="758.3" x2="382.70000000000005" y2="760.9" stroke="#333" stroke-width="0.9"/>
<line x1="400.0473798005431" y1="758.3" x2="400.0473798005431" y2="760.9" stroke="#333" stroke-width="0.9"/>
<line x1="408.14757771710447" y1="758.3" x2="408.14757771710447" y2="760.9" stroke="#333" stroke-width="0.9"/>
<line x1="413.8947596010863" y1="758.3" x2="413.8947596010863" y2="760.9" stroke="#333" stroke-width="0.9"/>
<line x1="418.35262019945685" y1="758.3" x2="418.35262019945685" y2="760.9" stroke="#333" stroke-width="0.9"/>
<line x1="421.99495751764766" y1="758.3" x2="421.99495751764766" y2="760.9" stroke="#333" stroke-width="0.9"/>
<line x1="425.0745098406558" y1="758.3" x2="425.0745098406558" y2="760.9" stroke="#333" stroke-width="0.9"/>
<line x1="427.7421394016294" y1="758.3" x2="427.7421394016294" y2="760.9" stroke="#333" stroke-width="0.9"/>
<line x1="430.095155434209" y1="758.3" x2="430.095155434209" y2="760.9" stroke="#333" stroke-width="0.9"/>
<text transform="translate(252.5,749.7) rotate(-90)" font-size="7.4" text-anchor="middle" fill="#222">0</text>
<text transform="translate(252.5,711.9) rotate(-90)" font-size="7.4" text-anchor="middle" fill="#222">10<tspan font-size="4.5" dy="-3">2</tspan></text>
<text transform="translate(252.5,631.6) rotate(-90)" font-size="7.4" text-anchor="middle" fill="#222">10<tspan font-size="4.5" dy="-3">3</tspan></text>
<text transform="translate(252.5,585.4) rotate(-90)" font-size="7.4" text-anchor="middle" fill="#222">10<tspan font-size="4.5" dy="-3">4</tspan></text>
<text x="267.4" y="772.3" font-size="7.4" text-anchor="middle" fill="#222">0</text>
<text x="307.25" y="772.3" font-size="7.4" text-anchor="middle" fill="#222">10<tspan font-size="4.5" dy="-3">2</tspan></text>
<text x="387.20000000000005" y="772.3" font-size="7.4" text-anchor="middle" fill="#222">10<tspan font-size="4.5" dy="-3">3</tspan></text>
<text x="433.20000000000005" y="772.3" font-size="7.4" text-anchor="middle" fill="#222">10<tspan font-size="4.5" dy="-3">4</tspan></text>
<text x="264.5" y="594" font-size="10.3" fill="#222">3</text>
<text x="421.20000000000005" y="594" font-size="10.3" fill="#222">4</text>
<text x="262.3" y="687.8" font-size="10.3" fill="#222">1</text>
<text x="421.5" y="688.2" font-size="10.3" fill="#222">2</text>
<text transform="translate(245.5,670.2) rotate(-90)" font-size="10" text-anchor="middle" fill="#222" textLength="8.2" lengthAdjust="spacingAndGlyphs">PI</text>
<text x="282.6" y="578.5" font-size="12.6" fill="#222" textLength="108.6" lengthAdjust="spacingAndGlyphs"><tspan font-style="italic">CFLAR</tspan> siRNA 0% CSE</text>
<text x="311" y="781" font-size="10.2" fill="#222" textLength="47.6" lengthAdjust="spacingAndGlyphs">Annexin-V</text>
<text x="258" y="797.4" font-size="9.3" fill="#222" textLength="58.9" lengthAdjust="spacingAndGlyphs">1Viable = 60%</text>
<text x="258" y="809.5" font-size="9.3" fill="#222" textLength="76.7" lengthAdjust="spacingAndGlyphs">2 Apoptotic = 28%</text>
<text x="258" y="821.6" font-size="9.3" fill="#222" textLength="81.3" lengthAdjust="spacingAndGlyphs">3+4 Necrotic = 12%</text>
<g shape-rendering="crispEdges"><path fill="#dc2626" fill-opacity="0.5" d="M591 597h1v1h-1zM513 598h1v1h-1zM569 605h1v1h-1zM537 606h1v1h-1zM563 606h1v1h-1zM519 607h1v1h-1zM557 607h1v1h-1zM635 607h1v1h-1zM656 607h1v1h-1zM513 608h1v1h-1zM551 608h1v1h-1zM559 608h1v1h-1zM614 608h1v1h-1zM629 608h1v1h-1zM526 609h1v1h-1zM640 609h1v1h-1zM526 610h1v1h-1zM542 610h1v1h-1zM596 610h2v1h-2zM607 610h1v1h-1zM625 610h1v1h-1zM651 610h1v1h-1zM548 611h1v1h-1zM615 611h1v1h-1zM638 611h1v1h-1zM526 612h1v1h-1zM548 612h2v1h-2zM570 612h1v1h-1zM596 612h1v1h-1zM613 612h1v1h-1zM617 612h1v1h-1zM656 612h1v1h-1zM536 613h1v1h-1zM578 613h1v1h-1zM582 613h1v1h-1zM594 613h1v1h-1zM512 614h1v1h-1zM516 614h1v1h-1zM551 614h1v1h-1zM571 614h1v1h-1zM592 614h1v1h-1zM632 614h1v1h-1zM512 615h1v1h-1zM524 615h1v1h-1zM546 615h1v1h-1zM582 615h1v1h-1zM591 615h1v1h-1zM621 615h1v1h-1zM624 615h1v1h-1zM628 615h1v1h-1zM630 615h1v1h-1zM632 615h1v1h-1zM634 615h1v1h-1zM638 615h1v1h-1zM641 615h2v1h-2zM649 615h1v1h-1zM514 616h1v1h-1zM521 616h1v1h-1zM570 616h1v1h-1zM573 616h1v1h-1zM581 616h1v1h-1zM590 616h1v1h-1zM593 616h1v1h-1zM606 616h1v1h-1zM608 616h1v1h-1zM610 616h1v1h-1zM620 616h1v1h-1zM624 616h1v1h-1zM629 616h1v1h-1zM631 616h1v1h-1zM640 616h1v1h-1zM652 616h1v1h-1zM654 616h1v1h-1zM660 616h1v1h-1zM512 617h1v1h-1zM518 617h1v1h-1zM527 617h1v1h-1zM562 617h1v1h-1zM564 617h1v1h-1zM593 617h1v1h-1zM605 617h1v1h-1zM610 617h1v1h-1zM614 617h1v1h-1zM617 617h1v1h-1zM626 617h2v1h-2zM634 617h1v1h-1zM651 617h1v1h-1zM653 617h2v1h-2zM525 618h1v1h-1zM536 618h1v1h-1zM546 618h1v1h-1zM549 618h1v1h-1zM568 618h1v1h-1zM606 618h1v1h-1zM608 618h1v1h-1zM610 618h1v1h-1zM621 618h2v1h-2zM624 618h1v1h-1zM628 618h2v1h-2zM637 618h1v1h-1zM639 618h2v1h-2zM642 618h1v1h-1zM644 618h2v1h-2zM654 618h1v1h-1zM551 619h1v1h-1zM560 619h2v1h-2zM568 619h1v1h-1zM572 619h1v1h-1zM576 619h1v1h-1zM602 619h1v1h-1zM607 619h2v1h-2zM612 619h1v1h-1zM617 619h2v1h-2zM623 619h2v1h-2zM627 619h1v1h-1zM629 619h1v1h-1zM634 619h1v1h-1zM636 619h2v1h-2zM639 619h1v1h-1zM641 619h1v1h-1zM646 619h1v1h-1zM659 619h1v1h-1zM516 620h1v1h-1zM529 620h1v1h-1zM542 620h1v1h-1zM544 620h1v1h-1zM551 620h1v1h-1zM560 620h1v1h-1zM599 620h1v1h-1zM611 620h2v1h-2zM617 620h1v1h-1zM622 620h1v1h-1zM625 620h2v1h-2zM628 620h1v1h-1zM630 620h2v1h-2zM633 620h1v1h-1zM643 620h1v1h-1zM648 620h1v1h-1zM654 620h1v1h-1zM656 620h1v1h-1zM537 621h2v1h-2zM581 621h1v1h-1zM584 621h1v1h-1zM593 621h1v1h-1zM604 621h2v1h-2zM608 621h1v1h-1zM613 621h2v1h-2zM621 621h1v1h-1zM623 621h1v1h-1zM625 621h1v1h-1zM627 621h2v1h-2zM630 621h1v1h-1zM632 621h1v1h-1zM637 621h1v1h-1zM643 621h3v1h-3zM649 621h1v1h-1zM653 621h2v1h-2zM512 622h1v1h-1zM522 622h1v1h-1zM560 622h1v1h-1zM562 622h2v1h-2zM574 622h1v1h-1zM585 622h1v1h-1zM592 622h1v1h-1zM600 622h1v1h-1zM606 622h2v1h-2zM614 622h1v1h-1zM619 622h2v1h-2zM626 622h1v1h-1zM631 622h2v1h-2zM637 622h1v1h-1zM639 622h1v1h-1zM641 622h1v1h-1zM644 622h5v1h-5zM650 622h1v1h-1zM652 622h2v1h-2zM655 622h2v1h-2zM659 622h1v1h-1zM661 622h2v1h-2zM536 623h2v1h-2zM552 623h1v1h-1zM561 623h2v1h-2zM567 623h1v1h-1zM576 623h1v1h-1zM587 623h1v1h-1zM593 623h1v1h-1zM598 623h1v1h-1zM600 623h1v1h-1zM606 623h1v1h-1zM608 623h2v1h-2zM611 623h2v1h-2zM614 623h3v1h-3zM620 623h2v1h-2zM626 623h1v1h-1zM633 623h1v1h-1zM635 623h1v1h-1zM641 623h1v1h-1zM646 623h1v1h-1zM653 623h2v1h-2zM659 623h1v1h-1zM662 623h2v1h-2zM512 624h1v1h-1zM519 624h1v1h-1zM529 624h1v1h-1zM534 624h1v1h-1zM536 624h2v1h-2zM540 624h1v1h-1zM542 624h1v1h-1zM548 624h2v1h-2zM553 624h1v1h-1zM556 624h1v1h-1zM564 624h1v1h-1zM572 624h1v1h-1zM576 624h1v1h-1zM579 624h1v1h-1zM588 624h1v1h-1zM590 624h1v1h-1zM594 624h1v1h-1zM605 624h1v1h-1zM610 624h4v1h-4zM615 624h7v1h-7zM623 624h2v1h-2zM627 624h1v1h-1zM631 624h1v1h-1zM640 624h1v1h-1zM645 624h1v1h-1zM647 624h1v1h-1zM649 624h1v1h-1zM655 624h1v1h-1zM512 625h1v1h-1zM523 625h1v1h-1zM532 625h1v1h-1zM542 625h1v1h-1zM546 625h1v1h-1zM549 625h1v1h-1zM557 625h1v1h-1zM562 625h1v1h-1zM564 625h1v1h-1zM566 625h1v1h-1zM568 625h1v1h-1zM571 625h2v1h-2zM577 625h1v1h-1zM585 625h1v1h-1zM598 625h2v1h-2zM602 625h1v1h-1zM604 625h1v1h-1zM607 625h1v1h-1zM610 625h1v1h-1zM612 625h1v1h-1zM616 625h2v1h-2zM619 625h3v1h-3zM624 625h1v1h-1zM521 626h1v1h-1zM526 626h1v1h-1zM529 626h1v1h-1zM544 626h1v1h-1zM548 626h1v1h-1zM556 626h1v1h-1zM558 626h1v1h-1zM562 626h1v1h-1zM564 626h1v1h-1zM577 626h1v1h-1zM582 626h1v1h-1zM588 626h1v1h-1zM593 626h1v1h-1zM604 626h1v1h-1zM611 626h1v1h-1zM613 626h1v1h-1zM615 626h3v1h-3zM621 626h1v1h-1zM650 626h1v1h-1zM654 626h2v1h-2zM513 627h1v1h-1zM518 627h1v1h-1zM525 627h1v1h-1zM535 627h1v1h-1zM547 627h1v1h-1zM568 627h1v1h-1zM572 627h1v1h-1zM576 627h1v1h-1zM580 627h1v1h-1zM584 627h1v1h-1zM595 627h2v1h-2zM602 627h2v1h-2zM614 627h2v1h-2zM619 627h2v1h-2zM625 627h2v1h-2zM646 627h1v1h-1zM652 627h4v1h-4zM660 627h1v1h-1zM512 628h1v1h-1zM521 628h1v1h-1zM560 628h1v1h-1zM566 628h1v1h-1zM600 628h1v1h-1zM603 628h1v1h-1zM608 628h3v1h-3zM613 628h1v1h-1zM616 628h1v1h-1zM618 628h3v1h-3zM630 628h1v1h-1zM632 628h1v1h-1zM660 628h1v1h-1zM512 629h1v1h-1zM516 629h1v1h-1zM522 629h2v1h-2zM544 629h1v1h-1zM548 629h2v1h-2zM554 629h1v1h-1zM557 629h1v1h-1zM560 629h1v1h-1zM574 629h1v1h-1zM587 629h1v1h-1zM606 629h1v1h-1zM612 629h1v1h-1zM614 629h1v1h-1zM618 629h1v1h-1zM623 629h1v1h-1zM628 629h1v1h-1zM637 629h1v1h-1zM645 629h1v1h-1zM654 629h1v1h-1zM657 629h1v1h-1zM659 629h1v1h-1zM663 629h1v1h-1zM512 630h1v1h-1zM522 630h1v1h-1zM532 630h1v1h-1zM534 630h1v1h-1zM557 630h1v1h-1zM571 630h1v1h-1zM581 630h1v1h-1zM589 630h1v1h-1zM591 630h1v1h-1zM602 630h1v1h-1zM606 630h1v1h-1zM612 630h1v1h-1zM614 630h1v1h-1zM620 630h1v1h-1zM623 630h2v1h-2zM629 630h1v1h-1zM651 630h2v1h-2zM654 630h2v1h-2zM659 630h2v1h-2zM513 631h1v1h-1zM548 631h1v1h-1zM555 631h1v1h-1zM566 631h2v1h-2zM570 631h1v1h-1zM574 631h1v1h-1zM577 631h1v1h-1zM580 631h1v1h-1zM583 631h1v1h-1zM591 631h2v1h-2zM595 631h1v1h-1zM598 631h1v1h-1zM607 631h2v1h-2zM610 631h1v1h-1zM614 631h3v1h-3zM621 631h2v1h-2zM628 631h1v1h-1zM631 631h1v1h-1zM646 631h1v1h-1zM652 631h3v1h-3zM662 631h1v1h-1zM513 632h1v1h-1zM531 632h2v1h-2zM534 632h1v1h-1zM536 632h1v1h-1zM550 632h1v1h-1zM567 632h1v1h-1zM583 632h1v1h-1zM586 632h1v1h-1zM590 632h2v1h-2zM598 632h1v1h-1zM601 632h4v1h-4zM607 632h1v1h-1zM612 632h2v1h-2zM618 632h1v1h-1zM623 632h2v1h-2zM629 632h1v1h-1zM632 632h1v1h-1zM636 632h1v1h-1zM639 632h1v1h-1zM641 632h1v1h-1zM649 632h3v1h-3zM653 632h1v1h-1zM655 632h2v1h-2zM512 633h1v1h-1zM514 633h1v1h-1zM528 633h1v1h-1zM540 633h2v1h-2zM546 633h1v1h-1zM550 633h1v1h-1zM558 633h1v1h-1zM570 633h1v1h-1zM585 633h1v1h-1zM589 633h1v1h-1zM594 633h2v1h-2zM598 633h1v1h-1zM602 633h1v1h-1zM607 633h3v1h-3zM611 633h1v1h-1zM618 633h1v1h-1zM620 633h1v1h-1zM623 633h2v1h-2zM626 633h1v1h-1zM628 633h1v1h-1zM630 633h1v1h-1zM644 633h1v1h-1zM647 633h1v1h-1zM649 633h1v1h-1zM651 633h1v1h-1zM655 633h3v1h-3zM659 633h1v1h-1zM662 633h1v1h-1zM514 634h1v1h-1zM525 634h1v1h-1zM545 634h1v1h-1zM552 634h1v1h-1zM580 634h1v1h-1zM582 634h1v1h-1zM586 634h2v1h-2zM593 634h1v1h-1zM595 634h1v1h-1zM598 634h3v1h-3zM602 634h2v1h-2zM606 634h1v1h-1zM608 634h1v1h-1zM615 634h1v1h-1zM617 634h1v1h-1zM621 634h1v1h-1zM623 634h1v1h-1zM626 634h1v1h-1zM632 634h2v1h-2zM638 634h1v1h-1zM643 634h2v1h-2zM649 634h1v1h-1zM656 634h1v1h-1zM661 634h1v1h-1zM511 635h2v1h-2zM522 635h1v1h-1zM524 635h1v1h-1zM535 635h1v1h-1zM539 635h2v1h-2zM552 635h1v1h-1zM556 635h1v1h-1zM558 635h1v1h-1zM573 635h1v1h-1zM578 635h2v1h-2zM585 635h1v1h-1zM601 635h1v1h-1zM606 635h1v1h-1zM615 635h1v1h-1zM618 635h2v1h-2zM621 635h2v1h-2zM625 635h1v1h-1zM629 635h1v1h-1zM635 635h1v1h-1zM639 635h1v1h-1zM644 635h1v1h-1zM649 635h1v1h-1zM655 635h2v1h-2zM658 635h1v1h-1zM663 635h1v1h-1zM513 636h1v1h-1zM556 636h1v1h-1zM586 636h1v1h-1zM593 636h1v1h-1zM600 636h1v1h-1zM608 636h1v1h-1zM614 636h1v1h-1zM620 636h3v1h-3zM627 636h2v1h-2zM632 636h1v1h-1zM635 636h2v1h-2zM639 636h1v1h-1zM642 636h1v1h-1zM645 636h2v1h-2zM648 636h3v1h-3zM653 636h1v1h-1zM560 637h1v1h-1zM568 637h1v1h-1zM570 637h1v1h-1zM580 637h1v1h-1zM584 637h1v1h-1zM593 637h1v1h-1zM619 637h1v1h-1zM624 637h1v1h-1zM631 637h1v1h-1zM633 637h1v1h-1zM637 637h2v1h-2zM640 637h1v1h-1zM642 637h1v1h-1zM645 637h1v1h-1zM647 637h1v1h-1zM650 637h1v1h-1zM655 637h1v1h-1zM657 637h1v1h-1zM513 638h1v1h-1zM569 638h2v1h-2zM586 638h1v1h-1zM590 638h1v1h-1zM598 638h1v1h-1zM603 638h5v1h-5zM610 638h1v1h-1zM613 638h2v1h-2zM616 638h1v1h-1zM624 638h1v1h-1zM627 638h2v1h-2zM639 638h1v1h-1zM642 638h1v1h-1zM648 638h1v1h-1zM527 639h1v1h-1zM537 639h1v1h-1zM564 639h1v1h-1zM585 639h1v1h-1zM589 639h1v1h-1zM599 639h1v1h-1zM601 639h2v1h-2zM609 639h3v1h-3zM613 639h1v1h-1zM615 639h2v1h-2zM621 639h1v1h-1zM625 639h1v1h-1zM628 639h1v1h-1zM632 639h1v1h-1zM648 639h1v1h-1zM562 640h1v1h-1zM595 640h4v1h-4zM607 640h1v1h-1zM611 640h1v1h-1zM617 640h1v1h-1zM623 640h1v1h-1zM626 640h1v1h-1zM628 640h1v1h-1zM631 640h1v1h-1zM635 640h1v1h-1zM637 640h1v1h-1zM640 640h2v1h-2zM647 640h1v1h-1zM513 641h1v1h-1zM521 641h1v1h-1zM539 641h1v1h-1zM547 641h1v1h-1zM550 641h1v1h-1zM555 641h1v1h-1zM565 641h2v1h-2zM588 641h1v1h-1zM605 641h1v1h-1zM607 641h1v1h-1zM611 641h1v1h-1zM615 641h1v1h-1zM622 641h2v1h-2zM628 641h1v1h-1zM636 641h1v1h-1zM638 641h1v1h-1zM640 641h1v1h-1zM646 641h2v1h-2zM653 641h1v1h-1zM532 642h1v1h-1zM553 642h1v1h-1zM559 642h1v1h-1zM568 642h1v1h-1zM573 642h1v1h-1zM576 642h1v1h-1zM599 642h1v1h-1zM603 642h1v1h-1zM619 642h1v1h-1zM627 642h1v1h-1zM633 642h1v1h-1zM635 642h1v1h-1zM637 642h2v1h-2zM641 642h4v1h-4zM649 642h1v1h-1zM554 643h1v1h-1zM567 643h1v1h-1zM591 643h1v1h-1zM595 643h1v1h-1zM599 643h1v1h-1zM603 643h1v1h-1zM606 643h1v1h-1zM620 643h2v1h-2zM638 643h1v1h-1zM644 643h1v1h-1zM522 644h1v1h-1zM539 644h1v1h-1zM548 644h1v1h-1zM573 644h1v1h-1zM609 644h1v1h-1zM616 644h1v1h-1zM618 644h1v1h-1zM622 644h2v1h-2zM625 644h1v1h-1zM635 644h1v1h-1zM647 644h1v1h-1zM522 645h1v1h-1zM593 645h1v1h-1zM595 645h1v1h-1zM597 645h2v1h-2zM610 645h1v1h-1zM625 645h1v1h-1zM627 645h1v1h-1zM629 645h1v1h-1zM631 645h1v1h-1zM643 645h1v1h-1zM649 645h1v1h-1zM533 646h1v1h-1zM560 646h1v1h-1zM591 646h1v1h-1zM618 646h1v1h-1zM633 646h1v1h-1zM642 646h1v1h-1zM651 646h1v1h-1zM528 647h1v1h-1zM530 647h1v1h-1zM547 647h1v1h-1zM587 647h1v1h-1zM598 647h1v1h-1zM600 647h1v1h-1zM633 647h1v1h-1zM641 647h1v1h-1zM573 648h1v1h-1zM626 648h1v1h-1zM635 648h1v1h-1zM647 648h1v1h-1zM512 649h2v1h-2zM572 649h1v1h-1zM607 649h1v1h-1zM610 649h1v1h-1zM613 649h1v1h-1zM627 649h1v1h-1zM630 649h1v1h-1zM653 649h1v1h-1zM519 650h1v1h-1zM534 650h1v1h-1zM538 650h1v1h-1zM601 650h1v1h-1zM608 650h1v1h-1zM614 650h1v1h-1zM623 650h1v1h-1zM636 650h1v1h-1zM642 650h1v1h-1zM646 650h1v1h-1zM534 651h1v1h-1zM557 651h1v1h-1zM599 651h1v1h-1zM608 651h1v1h-1zM610 651h1v1h-1zM625 651h1v1h-1zM644 651h1v1h-1zM512 652h1v1h-1zM602 652h1v1h-1zM606 652h1v1h-1zM644 652h1v1h-1zM646 652h2v1h-2zM653 652h1v1h-1zM541 653h1v1h-1zM592 653h1v1h-1zM622 653h1v1h-1zM630 653h1v1h-1zM642 653h1v1h-1zM531 654h1v1h-1zM547 654h1v1h-1zM569 654h1v1h-1zM600 654h1v1h-1zM623 654h1v1h-1zM562 655h1v1h-1zM596 655h1v1h-1zM599 655h1v1h-1zM632 655h1v1h-1zM637 655h1v1h-1zM642 655h1v1h-1zM649 655h1v1h-1zM539 656h1v1h-1zM609 656h1v1h-1zM647 656h1v1h-1zM649 656h1v1h-1zM652 656h1v1h-1zM607 657h2v1h-2zM610 657h1v1h-1zM617 657h1v1h-1zM623 657h1v1h-1zM633 657h3v1h-3zM638 657h2v1h-2zM641 657h1v1h-1zM653 657h1v1h-1zM513 658h1v1h-1zM549 658h1v1h-1zM614 658h1v1h-1zM621 658h1v1h-1zM627 658h1v1h-1zM635 658h2v1h-2zM518 659h1v1h-1zM601 659h1v1h-1zM610 659h1v1h-1zM623 659h1v1h-1zM635 659h1v1h-1zM642 659h1v1h-1zM647 659h1v1h-1zM536 660h1v1h-1zM599 660h1v1h-1zM602 660h1v1h-1zM628 660h1v1h-1zM648 660h1v1h-1zM513 661h1v1h-1zM516 661h1v1h-1zM530 661h1v1h-1zM608 661h1v1h-1zM625 661h1v1h-1zM653 661h1v1h-1zM596 662h1v1h-1zM611 662h1v1h-1zM622 662h2v1h-2zM512 663h1v1h-1zM518 663h1v1h-1zM561 663h1v1h-1zM569 663h1v1h-1zM624 663h1v1h-1zM631 663h3v1h-3zM645 663h2v1h-2zM513 664h1v1h-1zM604 664h1v1h-1zM512 665h1v1h-1zM535 665h1v1h-1zM598 665h1v1h-1zM611 665h1v1h-1zM615 665h1v1h-1zM625 665h1v1h-1zM654 665h1v1h-1zM599 666h1v1h-1zM644 666h1v1h-1zM655 666h1v1h-1zM563 667h1v1h-1zM566 667h1v1h-1zM590 667h1v1h-1zM594 667h1v1h-1zM601 667h1v1h-1zM603 667h3v1h-3zM625 667h1v1h-1zM629 667h3v1h-3zM651 667h1v1h-1zM513 668h1v1h-1zM549 668h1v1h-1zM600 668h1v1h-1zM643 668h1v1h-1zM514 669h1v1h-1zM595 669h2v1h-2zM602 669h1v1h-1zM606 669h1v1h-1zM623 669h1v1h-1zM627 669h1v1h-1zM630 669h1v1h-1zM633 669h1v1h-1zM640 669h1v1h-1zM645 669h1v1h-1zM512 670h1v1h-1zM516 670h1v1h-1zM528 670h1v1h-1zM556 670h1v1h-1zM571 670h1v1h-1zM633 670h1v1h-1zM638 670h1v1h-1zM646 670h2v1h-2zM650 670h1v1h-1zM603 671h1v1h-1zM619 671h1v1h-1zM640 671h1v1h-1zM649 671h1v1h-1zM654 671h1v1h-1zM557 672h1v1h-1zM608 672h1v1h-1zM611 672h1v1h-1zM616 672h1v1h-1zM648 672h1v1h-1zM513 673h1v1h-1zM599 673h1v1h-1zM601 673h1v1h-1zM624 673h1v1h-1zM653 673h1v1h-1zM512 674h1v1h-1zM620 674h1v1h-1zM625 674h1v1h-1zM627 674h1v1h-1zM633 674h1v1h-1zM653 674h1v1h-1zM563 675h1v1h-1zM604 675h1v1h-1zM612 675h1v1h-1zM591 676h1v1h-1zM607 676h1v1h-1zM624 676h1v1h-1zM627 676h1v1h-1zM638 676h1v1h-1zM616 679h1v1h-1zM579 680h1v1h-1zM597 680h1v1h-1zM620 680h1v1h-1zM622 680h1v1h-1zM629 680h1v1h-1zM632 680h1v1h-1zM634 680h1v1h-1zM636 680h1v1h-1zM641 680h1v1h-1zM614 681h1v1h-1zM633 681h1v1h-1zM635 681h1v1h-1zM648 681h1v1h-1zM609 682h1v1h-1zM628 682h1v1h-1zM633 682h1v1h-1zM636 682h1v1h-1zM639 682h1v1h-1zM641 682h1v1h-1zM644 682h2v1h-2zM592 683h1v1h-1zM597 683h1v1h-1zM599 683h1v1h-1zM609 683h2v1h-2zM613 683h1v1h-1zM616 683h1v1h-1zM625 683h3v1h-3zM629 683h1v1h-1zM634 683h2v1h-2zM642 683h3v1h-3zM653 683h1v1h-1zM588 684h1v1h-1zM595 684h1v1h-1zM598 684h1v1h-1zM604 684h2v1h-2zM629 684h1v1h-1zM631 684h1v1h-1zM639 684h1v1h-1zM642 684h2v1h-2zM647 684h1v1h-1zM649 684h2v1h-2zM589 685h1v1h-1zM610 685h1v1h-1zM613 685h1v1h-1zM621 685h1v1h-1zM624 685h2v1h-2zM632 685h2v1h-2zM645 685h1v1h-1zM590 686h1v1h-1zM595 686h1v1h-1zM602 686h1v1h-1zM606 686h1v1h-1zM615 686h2v1h-2zM621 686h1v1h-1zM623 686h1v1h-1zM626 686h1v1h-1zM629 686h1v1h-1zM637 686h1v1h-1zM639 686h1v1h-1zM646 686h3v1h-3zM595 687h1v1h-1zM609 687h1v1h-1zM627 687h1v1h-1zM645 687h1v1h-1zM522 688h1v1h-1zM610 688h1v1h-1zM617 688h1v1h-1zM624 688h2v1h-2zM632 688h1v1h-1zM636 688h1v1h-1zM531 689h1v1h-1zM547 689h1v1h-1zM561 689h1v1h-1zM575 689h1v1h-1zM592 689h1v1h-1zM602 689h1v1h-1zM605 689h1v1h-1zM608 689h1v1h-1zM613 689h1v1h-1zM635 689h1v1h-1zM641 689h1v1h-1zM643 689h1v1h-1zM646 689h1v1h-1zM546 690h1v1h-1zM584 690h1v1h-1zM589 690h1v1h-1zM600 690h1v1h-1zM606 690h1v1h-1zM610 690h1v1h-1zM618 690h1v1h-1zM620 690h1v1h-1zM624 690h1v1h-1zM626 690h1v1h-1zM628 690h1v1h-1zM631 690h1v1h-1zM636 690h1v1h-1zM640 690h1v1h-1zM645 690h1v1h-1zM650 690h1v1h-1zM580 691h1v1h-1zM583 691h1v1h-1zM597 691h1v1h-1zM599 691h1v1h-1zM602 691h1v1h-1zM608 691h1v1h-1zM610 691h3v1h-3zM614 691h1v1h-1zM617 691h1v1h-1zM624 691h1v1h-1zM634 691h1v1h-1zM644 691h1v1h-1zM648 691h1v1h-1zM652 691h1v1h-1zM570 692h1v1h-1zM600 692h1v1h-1zM606 692h1v1h-1zM618 692h1v1h-1zM626 692h1v1h-1zM638 692h2v1h-2zM647 692h1v1h-1zM562 693h1v1h-1zM579 693h1v1h-1zM596 693h1v1h-1zM607 693h1v1h-1zM609 693h1v1h-1zM622 693h1v1h-1zM636 693h2v1h-2zM645 693h2v1h-2zM528 694h1v1h-1zM552 694h1v1h-1zM590 694h1v1h-1zM596 694h1v1h-1zM606 694h1v1h-1zM608 694h1v1h-1zM611 694h1v1h-1zM614 694h2v1h-2zM626 694h1v1h-1zM635 694h1v1h-1zM638 694h1v1h-1zM641 694h2v1h-2zM530 695h1v1h-1zM591 695h1v1h-1zM604 695h1v1h-1zM607 695h1v1h-1zM616 695h1v1h-1zM627 695h1v1h-1zM641 695h1v1h-1zM644 695h2v1h-2zM602 696h1v1h-1zM608 696h1v1h-1zM610 696h1v1h-1zM614 696h1v1h-1zM621 696h1v1h-1zM623 696h1v1h-1zM626 696h2v1h-2zM634 696h1v1h-1zM640 696h1v1h-1zM642 696h1v1h-1zM582 697h1v1h-1zM600 697h1v1h-1zM603 697h3v1h-3zM616 697h1v1h-1zM618 697h1v1h-1zM627 697h1v1h-1zM631 697h2v1h-2zM634 697h1v1h-1zM637 697h2v1h-2zM644 697h1v1h-1zM646 697h1v1h-1zM563 698h1v1h-1zM593 698h1v1h-1zM596 698h1v1h-1zM599 698h1v1h-1zM602 698h1v1h-1zM606 698h2v1h-2zM614 698h1v1h-1zM617 698h1v1h-1zM619 698h1v1h-1zM624 698h1v1h-1zM627 698h1v1h-1zM643 698h1v1h-1zM646 698h1v1h-1zM516 699h1v1h-1zM581 699h1v1h-1zM585 699h1v1h-1zM588 699h1v1h-1zM600 699h1v1h-1zM607 699h1v1h-1zM609 699h4v1h-4zM617 699h3v1h-3zM622 699h1v1h-1zM629 699h2v1h-2zM634 699h1v1h-1zM641 699h2v1h-2zM645 699h2v1h-2zM649 699h1v1h-1zM652 699h1v1h-1zM595 700h1v1h-1zM617 700h1v1h-1zM623 700h1v1h-1zM626 700h2v1h-2zM631 700h1v1h-1zM636 700h1v1h-1zM643 700h1v1h-1zM646 700h1v1h-1zM649 700h1v1h-1zM520 701h1v1h-1zM601 701h3v1h-3zM605 701h1v1h-1zM608 701h1v1h-1zM613 701h1v1h-1zM621 701h1v1h-1zM629 701h2v1h-2zM633 701h1v1h-1zM638 701h1v1h-1zM640 701h1v1h-1zM644 701h1v1h-1zM646 701h1v1h-1zM648 701h1v1h-1zM618 702h1v1h-1zM633 702h1v1h-1zM635 702h1v1h-1zM523 703h1v1h-1zM549 703h1v1h-1zM573 703h1v1h-1zM598 703h2v1h-2zM608 703h1v1h-1zM624 703h1v1h-1zM627 703h1v1h-1zM630 703h1v1h-1zM633 703h2v1h-2zM638 703h1v1h-1zM645 703h1v1h-1zM589 704h1v1h-1zM599 704h1v1h-1zM601 704h1v1h-1zM605 704h1v1h-1zM607 704h2v1h-2zM614 704h2v1h-2zM617 704h2v1h-2zM626 704h1v1h-1zM628 704h1v1h-1zM634 704h1v1h-1zM640 704h3v1h-3zM531 705h1v1h-1zM594 705h3v1h-3zM598 705h1v1h-1zM600 705h1v1h-1zM606 705h1v1h-1zM609 705h1v1h-1zM612 705h1v1h-1zM614 705h1v1h-1zM616 705h1v1h-1zM620 705h1v1h-1zM630 705h1v1h-1zM636 705h2v1h-2zM640 705h1v1h-1zM643 705h1v1h-1zM646 705h1v1h-1zM649 705h1v1h-1zM651 705h1v1h-1zM513 706h1v1h-1zM532 706h1v1h-1zM545 706h1v1h-1zM589 706h1v1h-1zM608 706h1v1h-1zM610 706h1v1h-1zM615 706h1v1h-1zM624 706h3v1h-3zM629 706h1v1h-1zM634 706h1v1h-1zM638 706h2v1h-2zM646 706h1v1h-1zM605 707h1v1h-1zM607 707h1v1h-1zM614 707h1v1h-1zM618 707h1v1h-1zM626 707h2v1h-2zM632 707h1v1h-1zM635 707h2v1h-2zM640 707h1v1h-1zM643 707h1v1h-1zM519 708h1v1h-1zM588 708h1v1h-1zM595 708h1v1h-1zM601 708h3v1h-3zM605 708h1v1h-1zM616 708h1v1h-1zM619 708h2v1h-2zM626 708h2v1h-2zM634 708h1v1h-1zM636 708h2v1h-2zM647 708h1v1h-1zM651 708h1v1h-1zM527 709h1v1h-1zM581 709h1v1h-1zM591 709h1v1h-1zM600 709h1v1h-1zM602 709h1v1h-1zM604 709h2v1h-2zM610 709h1v1h-1zM613 709h2v1h-2zM618 709h1v1h-1zM625 709h1v1h-1zM627 709h2v1h-2zM633 709h1v1h-1zM639 709h1v1h-1zM641 709h1v1h-1zM644 709h1v1h-1zM587 710h1v1h-1zM590 710h1v1h-1zM592 710h1v1h-1zM595 710h2v1h-2zM603 710h1v1h-1zM622 710h1v1h-1zM633 710h2v1h-2zM636 710h2v1h-2zM642 710h1v1h-1zM647 710h1v1h-1zM649 710h1v1h-1zM596 711h1v1h-1zM624 711h2v1h-2zM629 711h1v1h-1zM635 711h1v1h-1zM638 711h2v1h-2zM643 711h1v1h-1zM646 711h2v1h-2zM650 711h1v1h-1zM531 712h1v1h-1zM599 712h1v1h-1zM607 712h1v1h-1zM609 712h1v1h-1zM612 712h1v1h-1zM620 712h1v1h-1zM625 712h1v1h-1zM631 712h1v1h-1zM638 712h2v1h-2zM646 712h1v1h-1zM580 713h1v1h-1zM604 713h1v1h-1zM608 713h2v1h-2zM612 713h1v1h-1zM614 713h2v1h-2zM619 713h1v1h-1zM621 713h3v1h-3zM629 713h1v1h-1zM635 713h1v1h-1zM641 713h1v1h-1zM645 713h1v1h-1zM648 713h1v1h-1zM581 714h1v1h-1zM593 714h1v1h-1zM603 714h3v1h-3zM610 714h1v1h-1zM618 714h2v1h-2zM628 714h1v1h-1zM635 714h1v1h-1zM648 714h1v1h-1zM579 715h1v1h-1zM589 715h2v1h-2zM602 715h1v1h-1zM604 715h1v1h-1zM607 715h1v1h-1zM612 715h1v1h-1zM614 715h3v1h-3zM619 715h1v1h-1zM621 715h2v1h-2zM625 715h1v1h-1zM627 715h1v1h-1zM629 715h2v1h-2zM632 715h5v1h-5zM638 715h1v1h-1zM640 715h1v1h-1zM642 715h2v1h-2zM646 715h1v1h-1zM651 715h1v1h-1zM602 716h1v1h-1zM606 716h1v1h-1zM612 716h3v1h-3zM616 716h1v1h-1zM618 716h1v1h-1zM623 716h1v1h-1zM625 716h1v1h-1zM627 716h3v1h-3zM633 716h1v1h-1zM635 716h1v1h-1zM642 716h2v1h-2zM651 716h1v1h-1zM556 717h1v1h-1zM598 717h1v1h-1zM602 717h1v1h-1zM606 717h1v1h-1zM608 717h1v1h-1zM611 717h1v1h-1zM614 717h1v1h-1zM616 717h1v1h-1zM624 717h1v1h-1zM626 717h1v1h-1zM629 717h1v1h-1zM632 717h1v1h-1zM636 717h2v1h-2zM639 717h4v1h-4zM644 717h1v1h-1zM647 717h1v1h-1zM587 718h1v1h-1zM610 718h2v1h-2zM616 718h3v1h-3zM620 718h1v1h-1zM623 718h2v1h-2zM633 718h2v1h-2zM636 718h2v1h-2zM643 718h1v1h-1zM647 718h5v1h-5zM575 719h1v1h-1zM578 719h1v1h-1zM601 719h1v1h-1zM612 719h1v1h-1zM614 719h1v1h-1zM617 719h1v1h-1zM620 719h2v1h-2zM627 719h1v1h-1zM630 719h1v1h-1zM632 719h1v1h-1zM636 719h1v1h-1zM638 719h2v1h-2zM642 719h2v1h-2zM645 719h1v1h-1zM522 720h1v1h-1zM565 720h1v1h-1zM590 720h1v1h-1zM598 720h1v1h-1zM602 720h1v1h-1zM606 720h2v1h-2zM609 720h1v1h-1zM612 720h3v1h-3zM616 720h1v1h-1zM619 720h1v1h-1zM625 720h1v1h-1zM627 720h2v1h-2zM632 720h3v1h-3zM636 720h1v1h-1zM639 720h1v1h-1zM641 720h3v1h-3zM646 720h4v1h-4zM545 721h1v1h-1zM577 721h1v1h-1zM589 721h2v1h-2zM594 721h1v1h-1zM610 721h3v1h-3zM619 721h2v1h-2zM622 721h2v1h-2zM627 721h1v1h-1zM629 721h3v1h-3zM633 721h1v1h-1zM637 721h2v1h-2zM640 721h1v1h-1zM642 721h2v1h-2zM645 721h2v1h-2zM652 721h1v1h-1zM577 722h1v1h-1zM604 722h2v1h-2zM607 722h1v1h-1zM609 722h1v1h-1zM611 722h1v1h-1zM616 722h3v1h-3zM622 722h1v1h-1zM626 722h2v1h-2zM631 722h1v1h-1zM635 722h1v1h-1zM647 722h1v1h-1zM650 722h1v1h-1zM578 723h1v1h-1zM591 723h1v1h-1zM600 723h1v1h-1zM616 723h1v1h-1zM620 723h1v1h-1zM632 723h1v1h-1zM642 723h2v1h-2zM647 723h2v1h-2zM650 723h1v1h-1zM525 724h1v1h-1zM589 724h1v1h-1zM591 724h1v1h-1zM594 724h1v1h-1zM601 724h1v1h-1zM608 724h1v1h-1zM610 724h1v1h-1zM614 724h2v1h-2zM618 724h1v1h-1zM620 724h1v1h-1zM622 724h1v1h-1zM624 724h2v1h-2zM629 724h1v1h-1zM635 724h1v1h-1zM637 724h1v1h-1zM639 724h1v1h-1zM645 724h2v1h-2zM649 724h1v1h-1zM517 725h1v1h-1zM520 725h1v1h-1zM561 725h1v1h-1zM594 725h2v1h-2zM606 725h2v1h-2zM609 725h1v1h-1zM613 725h1v1h-1zM615 725h1v1h-1zM617 725h1v1h-1zM619 725h3v1h-3zM623 725h1v1h-1zM625 725h1v1h-1zM627 725h1v1h-1zM630 725h1v1h-1zM632 725h1v1h-1zM638 725h1v1h-1zM642 725h1v1h-1zM648 725h1v1h-1zM650 725h2v1h-2zM515 726h1v1h-1zM555 726h1v1h-1zM581 726h1v1h-1zM591 726h1v1h-1zM600 726h2v1h-2zM603 726h1v1h-1zM609 726h2v1h-2zM613 726h1v1h-1zM615 726h1v1h-1zM617 726h4v1h-4zM622 726h1v1h-1zM624 726h1v1h-1zM629 726h2v1h-2zM632 726h1v1h-1zM638 726h1v1h-1zM640 726h2v1h-2zM644 726h2v1h-2zM647 726h1v1h-1zM649 726h1v1h-1zM513 727h1v1h-1zM550 727h1v1h-1zM568 727h1v1h-1zM585 727h1v1h-1zM593 727h1v1h-1zM598 727h2v1h-2zM602 727h2v1h-2zM607 727h1v1h-1zM613 727h1v1h-1zM616 727h1v1h-1zM621 727h2v1h-2zM627 727h1v1h-1zM630 727h1v1h-1zM640 727h1v1h-1zM643 727h2v1h-2zM646 727h1v1h-1zM523 728h1v1h-1zM588 728h1v1h-1zM592 728h1v1h-1zM595 728h1v1h-1zM597 728h1v1h-1zM600 728h1v1h-1zM604 728h1v1h-1zM606 728h1v1h-1zM611 728h1v1h-1zM615 728h1v1h-1zM617 728h2v1h-2zM620 728h2v1h-2zM623 728h1v1h-1zM625 728h1v1h-1zM630 728h1v1h-1zM634 728h2v1h-2zM638 728h3v1h-3zM647 728h1v1h-1zM649 728h1v1h-1zM651 728h1v1h-1zM534 729h1v1h-1zM547 729h1v1h-1zM594 729h1v1h-1zM597 729h1v1h-1zM602 729h1v1h-1zM605 729h2v1h-2zM608 729h1v1h-1zM610 729h2v1h-2zM614 729h1v1h-1zM618 729h1v1h-1zM621 729h1v1h-1zM623 729h1v1h-1zM627 729h1v1h-1zM631 729h3v1h-3zM638 729h2v1h-2zM643 729h1v1h-1zM532 730h1v1h-1zM592 730h1v1h-1zM597 730h1v1h-1zM599 730h1v1h-1zM601 730h2v1h-2zM606 730h1v1h-1zM610 730h1v1h-1zM612 730h1v1h-1zM614 730h1v1h-1zM623 730h2v1h-2zM630 730h3v1h-3zM635 730h1v1h-1zM648 730h2v1h-2zM513 731h1v1h-1zM517 731h1v1h-1zM525 731h1v1h-1zM536 731h1v1h-1zM545 731h1v1h-1zM576 731h1v1h-1zM579 731h1v1h-1zM589 731h1v1h-1zM592 731h1v1h-1zM595 731h1v1h-1zM601 731h2v1h-2zM608 731h1v1h-1zM611 731h1v1h-1zM613 731h2v1h-2zM617 731h1v1h-1zM619 731h1v1h-1zM622 731h1v1h-1zM624 731h2v1h-2zM632 731h1v1h-1zM634 731h1v1h-1zM636 731h1v1h-1zM643 731h1v1h-1zM647 731h1v1h-1zM650 731h1v1h-1zM514 732h1v1h-1zM526 732h1v1h-1zM545 732h1v1h-1zM552 732h1v1h-1zM563 732h1v1h-1zM577 732h1v1h-1zM589 732h2v1h-2zM592 732h1v1h-1zM598 732h1v1h-1zM606 732h6v1h-6zM622 732h1v1h-1zM632 732h1v1h-1zM642 732h1v1h-1zM648 732h1v1h-1zM515 733h1v1h-1zM526 733h2v1h-2zM531 733h1v1h-1zM555 733h1v1h-1zM579 733h1v1h-1zM582 733h1v1h-1zM585 733h1v1h-1zM591 733h3v1h-3zM596 733h2v1h-2zM601 733h1v1h-1zM603 733h1v1h-1zM605 733h1v1h-1zM607 733h1v1h-1zM613 733h1v1h-1zM621 733h1v1h-1zM628 733h1v1h-1zM636 733h1v1h-1zM646 733h1v1h-1zM516 734h1v1h-1zM522 734h1v1h-1zM526 734h1v1h-1zM551 734h1v1h-1zM560 734h1v1h-1zM569 734h1v1h-1zM598 734h3v1h-3zM605 734h2v1h-2zM608 734h1v1h-1zM613 734h1v1h-1zM616 734h1v1h-1zM624 734h2v1h-2zM634 734h1v1h-1zM638 734h1v1h-1zM642 734h1v1h-1zM645 734h1v1h-1zM647 734h1v1h-1zM650 734h1v1h-1zM522 735h1v1h-1zM524 735h1v1h-1zM528 735h1v1h-1zM538 735h1v1h-1zM559 735h1v1h-1zM574 735h1v1h-1zM578 735h1v1h-1zM580 735h1v1h-1zM585 735h1v1h-1zM587 735h1v1h-1zM593 735h2v1h-2zM602 735h5v1h-5zM617 735h1v1h-1zM622 735h3v1h-3zM626 735h1v1h-1zM643 735h1v1h-1zM513 736h1v1h-1zM515 736h1v1h-1zM518 736h2v1h-2zM521 736h2v1h-2zM525 736h2v1h-2zM534 736h1v1h-1zM540 736h1v1h-1zM552 736h2v1h-2zM556 736h1v1h-1zM578 736h1v1h-1zM580 736h1v1h-1zM586 736h2v1h-2zM589 736h2v1h-2zM592 736h1v1h-1zM594 736h2v1h-2zM605 736h1v1h-1zM609 736h2v1h-2zM614 736h2v1h-2zM618 736h1v1h-1zM632 736h1v1h-1zM644 736h1v1h-1zM650 736h1v1h-1zM515 737h1v1h-1zM517 737h1v1h-1zM522 737h1v1h-1zM524 737h1v1h-1zM535 737h1v1h-1zM538 737h2v1h-2zM541 737h1v1h-1zM545 737h1v1h-1zM561 737h1v1h-1zM568 737h1v1h-1zM577 737h1v1h-1zM583 737h1v1h-1zM587 737h2v1h-2zM590 737h1v1h-1zM592 737h3v1h-3zM598 737h2v1h-2zM604 737h1v1h-1zM606 737h2v1h-2zM614 737h2v1h-2zM618 737h1v1h-1zM648 737h2v1h-2zM515 738h1v1h-1zM533 738h1v1h-1zM538 738h1v1h-1zM540 738h2v1h-2zM550 738h1v1h-1zM561 738h1v1h-1zM568 738h1v1h-1zM575 738h1v1h-1zM577 738h1v1h-1zM581 738h2v1h-2zM584 738h1v1h-1zM593 738h3v1h-3zM598 738h1v1h-1zM600 738h1v1h-1zM604 738h1v1h-1zM607 738h1v1h-1zM610 738h2v1h-2zM615 738h1v1h-1zM618 738h1v1h-1zM621 738h1v1h-1zM638 738h1v1h-1zM645 738h2v1h-2zM524 739h2v1h-2zM529 739h1v1h-1zM537 739h1v1h-1zM539 739h1v1h-1zM541 739h1v1h-1zM546 739h1v1h-1zM560 739h1v1h-1zM571 739h1v1h-1zM574 739h1v1h-1zM579 739h2v1h-2zM584 739h1v1h-1zM587 739h1v1h-1zM592 739h3v1h-3zM602 739h1v1h-1zM605 739h1v1h-1zM612 739h1v1h-1zM616 739h1v1h-1zM641 739h1v1h-1zM643 739h1v1h-1zM514 740h1v1h-1zM521 740h1v1h-1zM523 740h1v1h-1zM528 740h1v1h-1zM532 740h1v1h-1zM537 740h1v1h-1zM540 740h1v1h-1zM553 740h1v1h-1zM563 740h3v1h-3zM567 740h1v1h-1zM576 740h1v1h-1zM579 740h1v1h-1zM585 740h1v1h-1zM589 740h2v1h-2zM594 740h3v1h-3zM599 740h1v1h-1zM602 740h1v1h-1zM605 740h1v1h-1zM608 740h1v1h-1zM615 740h1v1h-1zM622 740h1v1h-1zM627 740h1v1h-1zM637 740h1v1h-1zM517 741h1v1h-1zM521 741h1v1h-1zM523 741h1v1h-1zM526 741h1v1h-1zM530 741h2v1h-2zM536 741h2v1h-2zM563 741h1v1h-1zM574 741h1v1h-1zM577 741h1v1h-1zM579 741h2v1h-2zM582 741h3v1h-3zM586 741h1v1h-1zM588 741h3v1h-3zM593 741h1v1h-1zM599 741h1v1h-1zM603 741h2v1h-2zM517 742h1v1h-1zM519 742h1v1h-1zM524 742h2v1h-2zM527 742h3v1h-3zM533 742h2v1h-2zM539 742h5v1h-5zM545 742h1v1h-1zM549 742h1v1h-1zM557 742h1v1h-1zM565 742h1v1h-1zM569 742h1v1h-1zM572 742h2v1h-2zM575 742h1v1h-1zM578 742h2v1h-2zM584 742h1v1h-1zM587 742h1v1h-1zM589 742h1v1h-1zM591 742h1v1h-1zM594 742h1v1h-1zM596 742h1v1h-1zM607 742h1v1h-1zM630 742h2v1h-2zM512 743h3v1h-3zM517 743h1v1h-1zM523 743h1v1h-1zM525 743h1v1h-1zM527 743h1v1h-1zM531 743h1v1h-1zM534 743h1v1h-1zM538 743h2v1h-2zM541 743h1v1h-1zM550 743h2v1h-2zM553 743h1v1h-1zM560 743h1v1h-1zM569 743h1v1h-1zM573 743h2v1h-2zM576 743h1v1h-1zM584 743h2v1h-2zM588 743h1v1h-1zM596 743h1v1h-1zM600 743h1v1h-1zM613 743h1v1h-1zM625 743h1v1h-1zM519 744h2v1h-2zM527 744h1v1h-1zM533 744h1v1h-1zM536 744h1v1h-1zM538 744h2v1h-2zM541 744h5v1h-5zM547 744h1v1h-1zM549 744h1v1h-1zM553 744h1v1h-1zM558 744h1v1h-1zM561 744h1v1h-1zM563 744h1v1h-1zM567 744h1v1h-1zM569 744h1v1h-1zM571 744h2v1h-2zM574 744h3v1h-3zM588 744h1v1h-1zM513 745h1v1h-1zM534 745h4v1h-4zM543 745h1v1h-1zM547 745h1v1h-1zM550 745h1v1h-1zM553 745h2v1h-2zM557 745h1v1h-1zM559 745h1v1h-1zM562 745h2v1h-2zM567 745h1v1h-1zM573 745h1v1h-1zM579 745h1v1h-1zM591 745h1v1h-1zM614 745h1v1h-1zM537 746h1v1h-1zM541 746h1v1h-1zM545 746h1v1h-1zM548 746h1v1h-1zM554 746h3v1h-3zM559 746h3v1h-3zM564 746h2v1h-2zM572 746h2v1h-2zM575 746h2v1h-2zM578 746h2v1h-2zM587 746h1v1h-1zM604 746h1v1h-1zM538 747h1v1h-1zM543 747h2v1h-2zM547 747h1v1h-1zM571 747h1v1h-1zM573 747h2v1h-2zM598 747h3v1h-3zM539 748h2v1h-2zM542 748h2v1h-2zM562 748h2v1h-2zM565 748h4v1h-4zM570 748h1v1h-1zM572 748h1v1h-1zM579 748h1v1h-1zM583 748h1v1h-1zM585 748h1v1h-1zM590 748h1v1h-1zM592 748h2v1h-2zM596 748h1v1h-1zM512 749h1v1h-1z"/>
<path fill="#dc2626" fill-opacity="0.7" d="M560 607h1v1h-1zM513 613h1v1h-1zM513 614h1v1h-1zM626 614h1v1h-1zM637 614h1v1h-1zM513 615h1v1h-1zM512 618h2v1h-2zM598 618h1v1h-1zM632 618h2v1h-2zM636 618h1v1h-1zM606 619h1v1h-1zM615 619h1v1h-1zM622 619h1v1h-1zM628 619h1v1h-1zM631 619h3v1h-3zM643 619h1v1h-1zM607 620h1v1h-1zM620 620h1v1h-1zM624 620h1v1h-1zM629 620h1v1h-1zM635 620h1v1h-1zM638 620h1v1h-1zM642 620h1v1h-1zM644 620h1v1h-1zM580 621h1v1h-1zM622 621h1v1h-1zM624 621h1v1h-1zM631 621h1v1h-1zM633 621h3v1h-3zM639 621h3v1h-3zM646 621h2v1h-2zM650 621h1v1h-1zM589 622h1v1h-1zM612 622h1v1h-1zM623 622h1v1h-1zM627 622h2v1h-2zM633 622h2v1h-2zM636 622h1v1h-1zM638 622h1v1h-1zM643 622h1v1h-1zM512 623h3v1h-3zM594 623h1v1h-1zM618 623h1v1h-1zM622 623h2v1h-2zM628 623h3v1h-3zM632 623h1v1h-1zM634 623h1v1h-1zM636 623h2v1h-2zM643 623h1v1h-1zM647 623h2v1h-2zM650 623h1v1h-1zM513 624h1v1h-1zM597 624h1v1h-1zM625 624h1v1h-1zM628 624h1v1h-1zM638 624h2v1h-2zM650 624h1v1h-1zM656 624h1v1h-1zM513 625h1v1h-1zM615 625h1v1h-1zM618 625h1v1h-1zM623 625h1v1h-1zM636 625h2v1h-2zM644 625h1v1h-1zM650 625h1v1h-1zM652 625h1v1h-1zM512 626h1v1h-1zM610 626h1v1h-1zM619 626h1v1h-1zM628 626h3v1h-3zM643 626h1v1h-1zM648 626h1v1h-1zM652 626h2v1h-2zM658 626h1v1h-1zM512 627h1v1h-1zM599 627h1v1h-1zM605 627h1v1h-1zM611 627h1v1h-1zM622 627h1v1h-1zM628 627h1v1h-1zM642 627h1v1h-1zM647 627h1v1h-1zM649 627h1v1h-1zM651 627h1v1h-1zM657 627h1v1h-1zM514 628h1v1h-1zM614 628h1v1h-1zM617 628h1v1h-1zM624 628h1v1h-1zM626 628h1v1h-1zM637 628h1v1h-1zM640 628h1v1h-1zM655 628h2v1h-2zM521 629h1v1h-1zM615 629h3v1h-3zM620 629h3v1h-3zM624 629h1v1h-1zM629 629h2v1h-2zM639 629h1v1h-1zM646 629h1v1h-1zM649 629h1v1h-1zM653 629h1v1h-1zM513 630h1v1h-1zM528 630h1v1h-1zM577 630h1v1h-1zM607 630h1v1h-1zM622 630h1v1h-1zM646 630h1v1h-1zM650 630h1v1h-1zM653 630h1v1h-1zM609 631h1v1h-1zM618 631h1v1h-1zM620 631h1v1h-1zM625 631h1v1h-1zM627 631h1v1h-1zM629 631h1v1h-1zM638 631h1v1h-1zM648 631h1v1h-1zM609 632h1v1h-1zM616 632h2v1h-2zM619 632h2v1h-2zM622 632h1v1h-1zM625 632h2v1h-2zM637 632h1v1h-1zM640 632h1v1h-1zM646 632h3v1h-3zM654 632h1v1h-1zM616 633h1v1h-1zM631 633h1v1h-1zM636 633h2v1h-2zM652 633h1v1h-1zM620 634h1v1h-1zM628 634h1v1h-1zM631 634h1v1h-1zM635 634h2v1h-2zM639 634h1v1h-1zM645 634h1v1h-1zM647 634h2v1h-2zM594 635h1v1h-1zM602 635h1v1h-1zM614 635h1v1h-1zM617 635h1v1h-1zM623 635h1v1h-1zM631 635h1v1h-1zM634 635h1v1h-1zM637 635h1v1h-1zM640 635h1v1h-1zM642 635h2v1h-2zM646 635h2v1h-2zM652 635h1v1h-1zM514 636h1v1h-1zM519 636h1v1h-1zM612 636h1v1h-1zM626 636h1v1h-1zM629 636h3v1h-3zM634 636h1v1h-1zM637 636h1v1h-1zM640 636h2v1h-2zM651 636h1v1h-1zM513 637h1v1h-1zM549 637h1v1h-1zM563 637h1v1h-1zM615 637h1v1h-1zM617 637h1v1h-1zM627 637h1v1h-1zM632 637h1v1h-1zM634 637h1v1h-1zM636 637h1v1h-1zM641 637h1v1h-1zM651 637h1v1h-1zM512 638h1v1h-1zM615 638h1v1h-1zM629 638h1v1h-1zM641 638h1v1h-1zM647 638h1v1h-1zM623 639h1v1h-1zM627 639h1v1h-1zM633 639h1v1h-1zM636 639h2v1h-2zM640 639h2v1h-2zM645 639h1v1h-1zM584 641h1v1h-1zM612 641h1v1h-1zM651 641h1v1h-1zM625 642h1v1h-1zM643 643h1v1h-1zM648 643h1v1h-1zM554 644h1v1h-1zM642 644h1v1h-1zM644 644h1v1h-1zM629 646h1v1h-1zM645 646h1v1h-1zM545 649h1v1h-1zM644 654h1v1h-1zM513 655h1v1h-1zM512 656h1v1h-1zM641 660h1v1h-1zM638 668h1v1h-1zM624 675h1v1h-1zM619 676h1v1h-1zM644 676h1v1h-1zM639 680h1v1h-1zM646 682h1v1h-1zM608 686h1v1h-1zM622 686h1v1h-1zM610 687h1v1h-1zM614 690h1v1h-1zM623 690h1v1h-1zM632 693h1v1h-1zM641 693h1v1h-1zM635 695h1v1h-1zM647 695h1v1h-1zM599 696h1v1h-1zM631 696h1v1h-1zM637 698h1v1h-1zM639 698h1v1h-1zM630 700h1v1h-1zM633 700h1v1h-1zM638 700h1v1h-1zM579 701h1v1h-1zM647 701h1v1h-1zM605 702h1v1h-1zM634 702h1v1h-1zM643 702h1v1h-1zM604 704h1v1h-1zM623 706h1v1h-1zM633 706h1v1h-1zM648 706h1v1h-1zM648 707h1v1h-1zM620 709h1v1h-1zM632 709h1v1h-1zM636 709h1v1h-1zM640 709h1v1h-1zM617 710h1v1h-1zM628 710h1v1h-1zM641 710h1v1h-1zM650 710h1v1h-1zM632 711h1v1h-1zM636 711h1v1h-1zM582 712h1v1h-1zM623 712h1v1h-1zM626 712h1v1h-1zM643 712h1v1h-1zM633 713h1v1h-1zM637 713h1v1h-1zM647 713h1v1h-1zM609 714h1v1h-1zM638 714h1v1h-1zM598 715h1v1h-1zM624 715h1v1h-1zM637 715h1v1h-1zM610 716h1v1h-1zM624 716h1v1h-1zM630 716h1v1h-1zM638 716h1v1h-1zM649 716h1v1h-1zM603 717h1v1h-1zM630 717h1v1h-1zM633 717h2v1h-2zM646 717h1v1h-1zM631 718h1v1h-1zM638 718h1v1h-1zM600 719h1v1h-1zM603 719h1v1h-1zM619 719h1v1h-1zM628 719h2v1h-2zM637 719h1v1h-1zM630 720h2v1h-2zM635 720h1v1h-1zM644 720h1v1h-1zM601 721h1v1h-1zM632 721h1v1h-1zM636 721h1v1h-1zM641 721h1v1h-1zM647 721h1v1h-1zM606 722h1v1h-1zM615 722h1v1h-1zM619 722h1v1h-1zM632 722h1v1h-1zM638 722h1v1h-1zM640 722h3v1h-3zM645 722h2v1h-2zM593 723h1v1h-1zM613 723h1v1h-1zM615 723h1v1h-1zM619 723h1v1h-1zM623 723h3v1h-3zM627 723h3v1h-3zM633 723h2v1h-2zM637 723h1v1h-1zM640 723h1v1h-1zM646 723h1v1h-1zM613 724h1v1h-1zM619 724h1v1h-1zM621 724h1v1h-1zM631 724h1v1h-1zM634 724h1v1h-1zM638 724h1v1h-1zM642 724h1v1h-1zM601 725h1v1h-1zM618 725h1v1h-1zM629 725h1v1h-1zM634 725h1v1h-1zM637 725h1v1h-1zM641 725h1v1h-1zM606 726h1v1h-1zM608 726h1v1h-1zM612 726h1v1h-1zM623 726h1v1h-1zM631 726h1v1h-1zM633 726h1v1h-1zM635 726h2v1h-2zM639 726h1v1h-1zM646 726h1v1h-1zM648 726h1v1h-1zM609 727h1v1h-1zM615 727h1v1h-1zM617 727h3v1h-3zM624 727h3v1h-3zM634 727h2v1h-2zM638 727h1v1h-1zM642 727h1v1h-1zM647 727h1v1h-1zM649 727h1v1h-1zM594 728h1v1h-1zM598 728h1v1h-1zM627 728h1v1h-1zM629 728h1v1h-1zM631 728h2v1h-2zM642 728h1v1h-1zM645 728h2v1h-2zM650 728h1v1h-1zM593 729h1v1h-1zM607 729h1v1h-1zM615 729h2v1h-2zM622 729h1v1h-1zM626 729h1v1h-1zM629 729h1v1h-1zM635 729h1v1h-1zM642 729h1v1h-1zM647 729h1v1h-1zM607 730h1v1h-1zM613 730h1v1h-1zM615 730h2v1h-2zM618 730h2v1h-2zM625 730h2v1h-2zM628 730h1v1h-1zM641 730h1v1h-1zM645 730h1v1h-1zM647 730h1v1h-1zM593 731h1v1h-1zM604 731h1v1h-1zM606 731h1v1h-1zM610 731h1v1h-1zM620 731h2v1h-2zM628 731h2v1h-2zM633 731h1v1h-1zM637 731h2v1h-2zM640 731h2v1h-2zM600 732h1v1h-1zM605 732h1v1h-1zM613 732h3v1h-3zM620 732h2v1h-2zM624 732h1v1h-1zM634 732h1v1h-1zM636 732h2v1h-2zM644 732h1v1h-1zM589 733h1v1h-1zM598 733h1v1h-1zM611 733h1v1h-1zM614 733h1v1h-1zM616 733h1v1h-1zM618 733h1v1h-1zM624 733h1v1h-1zM626 733h2v1h-2zM634 733h2v1h-2zM642 733h1v1h-1zM647 733h2v1h-2zM590 734h1v1h-1zM602 734h1v1h-1zM604 734h1v1h-1zM607 734h1v1h-1zM610 734h1v1h-1zM618 734h1v1h-1zM626 734h1v1h-1zM631 734h1v1h-1zM641 734h1v1h-1zM515 735h1v1h-1zM532 735h1v1h-1zM589 735h1v1h-1zM596 735h1v1h-1zM598 735h4v1h-4zM607 735h1v1h-1zM610 735h1v1h-1zM612 735h2v1h-2zM618 735h1v1h-1zM621 735h1v1h-1zM625 735h1v1h-1zM632 735h1v1h-1zM634 735h1v1h-1zM637 735h1v1h-1zM641 735h1v1h-1zM644 735h2v1h-2zM537 736h1v1h-1zM591 736h1v1h-1zM596 736h1v1h-1zM603 736h2v1h-2zM613 736h1v1h-1zM619 736h1v1h-1zM624 736h1v1h-1zM631 736h1v1h-1zM633 736h2v1h-2zM636 736h1v1h-1zM645 736h2v1h-2zM649 736h1v1h-1zM611 737h1v1h-1zM616 737h1v1h-1zM624 737h2v1h-2zM641 737h1v1h-1zM587 738h1v1h-1zM589 738h1v1h-1zM597 738h1v1h-1zM601 738h2v1h-2zM614 738h1v1h-1zM619 738h1v1h-1zM627 738h1v1h-1zM632 738h1v1h-1zM637 738h1v1h-1zM641 738h1v1h-1zM643 738h1v1h-1zM517 739h1v1h-1zM551 739h1v1h-1zM590 739h1v1h-1zM595 739h2v1h-2zM598 739h1v1h-1zM600 739h1v1h-1zM606 739h2v1h-2zM613 739h1v1h-1zM615 739h1v1h-1zM620 739h1v1h-1zM517 740h1v1h-1zM527 740h1v1h-1zM554 740h1v1h-1zM592 740h1v1h-1zM601 740h1v1h-1zM609 740h1v1h-1zM612 740h1v1h-1zM617 740h1v1h-1zM516 741h1v1h-1zM518 741h1v1h-1zM527 741h1v1h-1zM534 741h1v1h-1zM585 741h1v1h-1zM587 741h1v1h-1zM595 741h1v1h-1zM597 741h2v1h-2zM600 741h1v1h-1zM602 741h1v1h-1zM606 741h1v1h-1zM610 741h1v1h-1zM613 741h1v1h-1zM628 741h1v1h-1zM633 741h1v1h-1zM635 741h1v1h-1zM518 742h1v1h-1zM520 742h1v1h-1zM530 742h1v1h-1zM546 742h1v1h-1zM553 742h1v1h-1zM600 742h1v1h-1zM608 742h2v1h-2zM629 742h1v1h-1zM515 743h2v1h-2zM520 743h1v1h-1zM524 743h1v1h-1zM526 743h1v1h-1zM530 743h1v1h-1zM532 743h1v1h-1zM536 743h1v1h-1zM543 743h1v1h-1zM547 743h1v1h-1zM580 743h1v1h-1zM589 743h1v1h-1zM591 743h1v1h-1zM597 743h2v1h-2zM618 743h1v1h-1zM622 743h1v1h-1zM515 744h1v1h-1zM518 744h1v1h-1zM523 744h1v1h-1zM525 744h1v1h-1zM532 744h1v1h-1zM537 744h1v1h-1zM546 744h1v1h-1zM562 744h1v1h-1zM566 744h1v1h-1zM570 744h1v1h-1zM577 744h2v1h-2zM581 744h4v1h-4zM587 744h1v1h-1zM589 744h1v1h-1zM593 744h1v1h-1zM596 744h1v1h-1zM600 744h1v1h-1zM603 744h1v1h-1zM526 745h1v1h-1zM532 745h1v1h-1zM541 745h2v1h-2zM546 745h1v1h-1zM551 745h1v1h-1zM556 745h1v1h-1zM564 745h1v1h-1zM566 745h1v1h-1zM571 745h2v1h-2zM576 745h2v1h-2zM584 745h1v1h-1zM613 745h1v1h-1zM512 746h1v1h-1zM530 746h2v1h-2zM536 746h1v1h-1zM540 746h1v1h-1zM542 746h2v1h-2zM546 746h1v1h-1zM566 746h2v1h-2zM577 746h1v1h-1zM581 746h1v1h-1zM584 746h1v1h-1zM590 746h2v1h-2zM594 746h1v1h-1zM512 747h1v1h-1zM526 747h1v1h-1zM528 747h1v1h-1zM535 747h1v1h-1zM539 747h4v1h-4zM545 747h2v1h-2zM548 747h1v1h-1zM562 747h3v1h-3zM566 747h1v1h-1zM582 747h1v1h-1zM586 747h2v1h-2zM597 747h1v1h-1zM528 748h1v1h-1zM534 748h1v1h-1zM569 748h1v1h-1zM575 748h1v1h-1zM578 748h1v1h-1zM580 748h2v1h-2zM584 748h1v1h-1zM587 748h2v1h-2zM591 748h1v1h-1zM594 748h2v1h-2zM597 748h1v1h-1zM520 749h2v1h-2zM523 749h1v1h-1z"/>
<path fill="#dc2626" fill-opacity="0.85" d="M512 613h1v1h-1zM512 616h2v1h-2zM637 616h1v1h-1zM513 617h1v1h-1zM634 618h1v1h-1zM512 619h2v1h-2zM512 620h1v1h-1zM623 620h1v1h-1zM634 620h1v1h-1zM636 620h1v1h-1zM640 620h1v1h-1zM513 621h1v1h-1zM642 621h1v1h-1zM624 622h1v1h-1zM635 622h1v1h-1zM642 622h1v1h-1zM649 622h1v1h-1zM627 623h1v1h-1zM631 623h1v1h-1zM638 623h3v1h-3zM642 623h1v1h-1zM644 623h2v1h-2zM649 623h1v1h-1zM651 623h1v1h-1zM629 624h2v1h-2zM633 624h1v1h-1zM635 624h2v1h-2zM641 624h1v1h-1zM643 624h2v1h-2zM535 625h1v1h-1zM625 625h1v1h-1zM628 625h3v1h-3zM633 625h2v1h-2zM639 625h1v1h-1zM641 625h2v1h-2zM645 625h3v1h-3zM653 625h1v1h-1zM513 626h1v1h-1zM579 626h1v1h-1zM608 626h1v1h-1zM614 626h1v1h-1zM622 626h1v1h-1zM625 626h1v1h-1zM631 626h1v1h-1zM633 626h6v1h-6zM640 626h1v1h-1zM645 626h3v1h-3zM618 627h1v1h-1zM623 627h1v1h-1zM627 627h1v1h-1zM630 627h1v1h-1zM635 627h1v1h-1zM638 627h1v1h-1zM641 627h1v1h-1zM643 627h1v1h-1zM648 627h1v1h-1zM656 627h1v1h-1zM622 628h2v1h-2zM625 628h1v1h-1zM629 628h1v1h-1zM631 628h1v1h-1zM642 628h1v1h-1zM645 628h1v1h-1zM647 628h6v1h-6zM513 629h1v1h-1zM610 629h1v1h-1zM625 629h3v1h-3zM632 629h1v1h-1zM640 629h1v1h-1zM642 629h1v1h-1zM644 629h1v1h-1zM647 629h2v1h-2zM652 629h1v1h-1zM616 630h1v1h-1zM619 630h1v1h-1zM625 630h1v1h-1zM627 630h2v1h-2zM630 630h1v1h-1zM632 630h1v1h-1zM636 630h1v1h-1zM640 630h2v1h-2zM643 630h1v1h-1zM648 630h1v1h-1zM512 631h1v1h-1zM630 631h1v1h-1zM632 631h2v1h-2zM636 631h2v1h-2zM639 631h1v1h-1zM643 631h1v1h-1zM645 631h1v1h-1zM647 631h1v1h-1zM649 631h2v1h-2zM512 632h1v1h-1zM631 632h1v1h-1zM634 632h2v1h-2zM642 632h1v1h-1zM644 632h1v1h-1zM513 633h1v1h-1zM629 633h1v1h-1zM632 633h3v1h-3zM638 633h1v1h-1zM640 633h1v1h-1zM642 633h1v1h-1zM648 633h1v1h-1zM512 634h2v1h-2zM624 634h1v1h-1zM629 634h2v1h-2zM634 634h1v1h-1zM637 634h1v1h-1zM640 634h3v1h-3zM513 635h1v1h-1zM624 635h1v1h-1zM627 635h2v1h-2zM630 635h1v1h-1zM632 635h2v1h-2zM636 635h1v1h-1zM638 635h1v1h-1zM641 635h1v1h-1zM645 635h1v1h-1zM650 635h1v1h-1zM633 636h1v1h-1zM638 636h1v1h-1zM643 636h2v1h-2zM635 637h1v1h-1zM639 637h1v1h-1zM644 637h1v1h-1zM512 639h1v1h-1zM638 639h1v1h-1zM636 692h1v1h-1zM633 708h1v1h-1zM643 709h1v1h-1zM628 713h1v1h-1zM636 714h1v1h-1zM642 714h1v1h-1zM644 715h1v1h-1zM634 716h1v1h-1zM640 716h1v1h-1zM631 717h1v1h-1zM639 718h1v1h-1zM647 719h1v1h-1zM629 720h1v1h-1zM637 720h1v1h-1zM640 720h1v1h-1zM628 721h1v1h-1zM635 721h1v1h-1zM649 722h1v1h-1zM612 723h1v1h-1zM630 723h1v1h-1zM644 723h2v1h-2zM628 724h1v1h-1zM630 724h1v1h-1zM632 724h1v1h-1zM640 724h2v1h-2zM626 725h1v1h-1zM631 725h1v1h-1zM633 725h1v1h-1zM635 725h2v1h-2zM643 725h1v1h-1zM645 725h2v1h-2zM625 726h1v1h-1zM627 726h1v1h-1zM634 726h1v1h-1zM643 726h1v1h-1zM601 727h1v1h-1zM623 727h1v1h-1zM631 727h1v1h-1zM633 727h1v1h-1zM636 727h2v1h-2zM641 727h1v1h-1zM601 728h1v1h-1zM613 728h1v1h-1zM624 728h1v1h-1zM628 728h1v1h-1zM636 728h2v1h-2zM641 728h1v1h-1zM643 728h2v1h-2zM648 728h1v1h-1zM625 729h1v1h-1zM634 729h1v1h-1zM636 729h2v1h-2zM640 729h1v1h-1zM644 729h1v1h-1zM646 729h1v1h-1zM604 730h1v1h-1zM611 730h1v1h-1zM617 730h1v1h-1zM620 730h1v1h-1zM622 730h1v1h-1zM627 730h1v1h-1zM629 730h1v1h-1zM634 730h1v1h-1zM637 730h4v1h-4zM644 730h1v1h-1zM646 730h1v1h-1zM615 731h1v1h-1zM618 731h1v1h-1zM623 731h1v1h-1zM626 731h1v1h-1zM630 731h2v1h-2zM635 731h1v1h-1zM639 731h1v1h-1zM645 731h1v1h-1zM648 731h1v1h-1zM612 732h1v1h-1zM619 732h1v1h-1zM623 732h1v1h-1zM625 732h1v1h-1zM627 732h2v1h-2zM630 732h1v1h-1zM633 732h1v1h-1zM635 732h1v1h-1zM638 732h3v1h-3zM643 732h1v1h-1zM600 733h1v1h-1zM606 733h1v1h-1zM620 733h1v1h-1zM622 733h2v1h-2zM632 733h1v1h-1zM637 733h2v1h-2zM640 733h2v1h-2zM643 733h1v1h-1zM614 734h2v1h-2zM617 734h1v1h-1zM619 734h1v1h-1zM621 734h2v1h-2zM627 734h1v1h-1zM629 734h2v1h-2zM632 734h1v1h-1zM636 734h1v1h-1zM639 734h1v1h-1zM643 734h1v1h-1zM646 734h1v1h-1zM648 734h1v1h-1zM608 735h1v1h-1zM614 735h3v1h-3zM619 735h2v1h-2zM627 735h3v1h-3zM631 735h1v1h-1zM635 735h2v1h-2zM638 735h3v1h-3zM646 735h2v1h-2zM598 736h1v1h-1zM602 736h1v1h-1zM607 736h2v1h-2zM617 736h1v1h-1zM620 736h2v1h-2zM623 736h1v1h-1zM625 736h1v1h-1zM627 736h4v1h-4zM637 736h1v1h-1zM639 736h5v1h-5zM647 736h2v1h-2zM597 737h1v1h-1zM602 737h2v1h-2zM605 737h1v1h-1zM609 737h2v1h-2zM612 737h1v1h-1zM617 737h1v1h-1zM619 737h4v1h-4zM629 737h2v1h-2zM634 737h1v1h-1zM636 737h1v1h-1zM638 737h3v1h-3zM645 737h2v1h-2zM590 738h1v1h-1zM596 738h1v1h-1zM599 738h1v1h-1zM606 738h1v1h-1zM608 738h2v1h-2zM612 738h1v1h-1zM617 738h1v1h-1zM622 738h2v1h-2zM625 738h1v1h-1zM631 738h1v1h-1zM634 738h3v1h-3zM642 738h1v1h-1zM644 738h1v1h-1zM589 739h1v1h-1zM599 739h1v1h-1zM601 739h1v1h-1zM603 739h1v1h-1zM609 739h3v1h-3zM614 739h1v1h-1zM621 739h1v1h-1zM623 739h1v1h-1zM626 739h2v1h-2zM629 739h1v1h-1zM631 739h1v1h-1zM639 739h1v1h-1zM597 740h2v1h-2zM603 740h1v1h-1zM606 740h2v1h-2zM610 740h2v1h-2zM613 740h2v1h-2zM616 740h1v1h-1zM621 740h1v1h-1zM624 740h1v1h-1zM628 740h1v1h-1zM632 740h1v1h-1zM634 740h1v1h-1zM636 740h1v1h-1zM601 741h1v1h-1zM605 741h1v1h-1zM608 741h2v1h-2zM614 741h3v1h-3zM618 741h1v1h-1zM623 741h1v1h-1zM626 741h1v1h-1zM631 741h2v1h-2zM634 741h1v1h-1zM515 742h1v1h-1zM590 742h1v1h-1zM597 742h2v1h-2zM601 742h2v1h-2zM605 742h2v1h-2zM610 742h1v1h-1zM616 742h1v1h-1zM619 742h1v1h-1zM622 742h1v1h-1zM624 742h1v1h-1zM626 742h1v1h-1zM518 743h2v1h-2zM528 743h2v1h-2zM540 743h1v1h-1zM581 743h1v1h-1zM586 743h1v1h-1zM592 743h1v1h-1zM594 743h1v1h-1zM599 743h1v1h-1zM603 743h1v1h-1zM605 743h1v1h-1zM607 743h1v1h-1zM614 743h1v1h-1zM617 743h1v1h-1zM621 743h1v1h-1zM623 743h1v1h-1zM516 744h2v1h-2zM521 744h2v1h-2zM524 744h1v1h-1zM526 744h1v1h-1zM531 744h1v1h-1zM540 744h1v1h-1zM560 744h1v1h-1zM585 744h1v1h-1zM590 744h1v1h-1zM592 744h1v1h-1zM594 744h2v1h-2zM598 744h1v1h-1zM602 744h1v1h-1zM606 744h1v1h-1zM608 744h2v1h-2zM611 744h2v1h-2zM619 744h1v1h-1zM515 745h1v1h-1zM517 745h1v1h-1zM519 745h2v1h-2zM522 745h3v1h-3zM529 745h3v1h-3zM533 745h1v1h-1zM539 745h2v1h-2zM565 745h1v1h-1zM569 745h1v1h-1zM575 745h1v1h-1zM578 745h1v1h-1zM582 745h2v1h-2zM587 745h2v1h-2zM592 745h2v1h-2zM595 745h1v1h-1zM599 745h1v1h-1zM605 745h5v1h-5zM612 745h1v1h-1zM615 745h1v1h-1zM515 746h1v1h-1zM520 746h1v1h-1zM522 746h1v1h-1zM527 746h1v1h-1zM529 746h1v1h-1zM532 746h1v1h-1zM534 746h2v1h-2zM551 746h2v1h-2zM562 746h1v1h-1zM568 746h1v1h-1zM571 746h1v1h-1zM574 746h1v1h-1zM580 746h1v1h-1zM582 746h1v1h-1zM588 746h1v1h-1zM593 746h1v1h-1zM597 746h1v1h-1zM601 746h3v1h-3zM605 746h2v1h-2zM609 746h1v1h-1zM516 747h1v1h-1zM518 747h1v1h-1zM531 747h3v1h-3zM536 747h2v1h-2zM551 747h1v1h-1zM565 747h1v1h-1zM567 747h4v1h-4zM572 747h1v1h-1zM575 747h1v1h-1zM577 747h4v1h-4zM585 747h1v1h-1zM589 747h1v1h-1zM595 747h1v1h-1zM513 748h1v1h-1zM523 748h1v1h-1zM525 748h3v1h-3zM529 748h1v1h-1zM531 748h3v1h-3zM535 748h1v1h-1zM564 748h1v1h-1zM573 748h1v1h-1zM586 748h1v1h-1zM519 749h1v1h-1zM524 749h1v1h-1z"/>
<path fill="#dc2626" fill-opacity="1.0" d="M513 620h1v1h-1zM636 621h1v1h-1zM626 624h1v1h-1zM632 624h1v1h-1zM637 624h1v1h-1zM642 624h1v1h-1zM646 624h1v1h-1zM627 625h1v1h-1zM631 625h2v1h-2zM635 625h1v1h-1zM638 625h1v1h-1zM640 625h1v1h-1zM643 625h1v1h-1zM648 625h1v1h-1zM624 626h1v1h-1zM627 626h1v1h-1zM632 626h1v1h-1zM639 626h1v1h-1zM641 626h2v1h-2zM644 626h1v1h-1zM621 627h1v1h-1zM629 627h1v1h-1zM631 627h4v1h-4zM636 627h2v1h-2zM639 627h2v1h-2zM644 627h2v1h-2zM627 628h2v1h-2zM633 628h4v1h-4zM638 628h2v1h-2zM641 628h1v1h-1zM643 628h2v1h-2zM631 629h1v1h-1zM633 629h4v1h-4zM638 629h1v1h-1zM641 629h1v1h-1zM643 629h1v1h-1zM626 630h1v1h-1zM631 630h1v1h-1zM633 630h3v1h-3zM637 630h3v1h-3zM642 630h1v1h-1zM644 630h2v1h-2zM647 630h1v1h-1zM623 631h2v1h-2zM634 631h2v1h-2zM640 631h3v1h-3zM644 631h1v1h-1zM628 632h1v1h-1zM630 632h1v1h-1zM633 632h1v1h-1zM638 632h1v1h-1zM643 632h1v1h-1zM625 633h1v1h-1zM635 633h1v1h-1zM639 633h1v1h-1zM643 633h1v1h-1zM646 633h1v1h-1zM647 636h1v1h-1zM513 639h1v1h-1zM643 724h1v1h-1zM633 728h1v1h-1zM617 729h1v1h-1zM620 729h1v1h-1zM641 729h1v1h-1zM636 730h1v1h-1zM642 730h1v1h-1zM642 731h1v1h-1zM616 732h2v1h-2zM641 732h1v1h-1zM645 732h2v1h-2zM625 733h1v1h-1zM630 733h2v1h-2zM633 733h1v1h-1zM639 733h1v1h-1zM644 733h2v1h-2zM623 734h1v1h-1zM633 734h1v1h-1zM635 734h1v1h-1zM637 734h1v1h-1zM640 734h1v1h-1zM644 734h1v1h-1zM630 735h1v1h-1zM633 735h1v1h-1zM642 735h1v1h-1zM648 735h1v1h-1zM611 736h2v1h-2zM622 736h1v1h-1zM626 736h1v1h-1zM635 736h1v1h-1zM638 736h1v1h-1zM600 737h1v1h-1zM613 737h1v1h-1zM623 737h1v1h-1zM626 737h3v1h-3zM631 737h3v1h-3zM635 737h1v1h-1zM637 737h1v1h-1zM642 737h3v1h-3zM616 738h1v1h-1zM624 738h1v1h-1zM626 738h1v1h-1zM628 738h3v1h-3zM633 738h1v1h-1zM639 738h2v1h-2zM604 739h1v1h-1zM617 739h3v1h-3zM622 739h1v1h-1zM624 739h2v1h-2zM628 739h1v1h-1zM630 739h1v1h-1zM632 739h7v1h-7zM587 740h1v1h-1zM600 740h1v1h-1zM604 740h1v1h-1zM618 740h3v1h-3zM623 740h1v1h-1zM625 740h2v1h-2zM629 740h3v1h-3zM633 740h1v1h-1zM635 740h1v1h-1zM596 741h1v1h-1zM607 741h1v1h-1zM611 741h2v1h-2zM617 741h1v1h-1zM619 741h4v1h-4zM624 741h2v1h-2zM627 741h1v1h-1zM629 741h2v1h-2zM586 742h1v1h-1zM592 742h2v1h-2zM595 742h1v1h-1zM603 742h1v1h-1zM611 742h5v1h-5zM617 742h2v1h-2zM620 742h2v1h-2zM623 742h1v1h-1zM625 742h1v1h-1zM627 742h2v1h-2zM587 743h1v1h-1zM601 743h2v1h-2zM604 743h1v1h-1zM606 743h1v1h-1zM608 743h5v1h-5zM615 743h2v1h-2zM619 743h2v1h-2zM513 744h1v1h-1zM530 744h1v1h-1zM586 744h1v1h-1zM591 744h1v1h-1zM597 744h1v1h-1zM599 744h1v1h-1zM601 744h1v1h-1zM604 744h2v1h-2zM607 744h1v1h-1zM610 744h1v1h-1zM613 744h5v1h-5zM514 745h1v1h-1zM516 745h1v1h-1zM518 745h1v1h-1zM521 745h1v1h-1zM527 745h1v1h-1zM586 745h1v1h-1zM589 745h1v1h-1zM594 745h1v1h-1zM596 745h3v1h-3zM600 745h5v1h-5zM610 745h2v1h-2zM513 746h2v1h-2zM516 746h4v1h-4zM521 746h1v1h-1zM523 746h4v1h-4zM528 746h1v1h-1zM533 746h1v1h-1zM539 746h1v1h-1zM583 746h1v1h-1zM585 746h2v1h-2zM589 746h1v1h-1zM592 746h1v1h-1zM595 746h2v1h-2zM598 746h3v1h-3zM513 747h3v1h-3zM517 747h1v1h-1zM519 747h7v1h-7zM527 747h1v1h-1zM529 747h2v1h-2zM534 747h1v1h-1zM576 747h1v1h-1zM581 747h1v1h-1zM583 747h2v1h-2zM588 747h1v1h-1zM590 747h5v1h-5zM596 747h1v1h-1zM512 748h1v1h-1zM514 748h9v1h-9zM524 748h1v1h-1zM530 748h1v1h-1zM536 748h1v1h-1zM582 748h1v1h-1zM513 749h6v1h-6z"/></g>
<g fill="#e23b3b" fill-opacity="0.7"><rect x="503.3" y="753" width="1.3" height="1.3"/><rect x="503.3" y="757" width="1.3" height="1.3"/><rect x="499.3" y="758.5" width="1.3" height="1.3"/><rect x="507.8" y="759.5" width="1.3" height="1.3"/></g>
<line x1="504.3" y1="585" x2="504.3" y2="758.8" stroke="#333" stroke-width="1.2"/>
<line x1="503.7" y1="758.3" x2="676.9" y2="758.3" stroke="#333" stroke-width="1.2"/>
<line x1="575.5" y1="583.5" x2="575.5" y2="758.3" stroke="#333" stroke-width="1.2"/>
<line x1="504.3" y1="677.2" x2="678.8" y2="677.2" stroke="#333" stroke-width="1.2"/>
<line x1="498.7" y1="749.7" x2="504.3" y2="749.7" stroke="#333" stroke-width="1"/>
<line x1="498.7" y1="711.9" x2="504.3" y2="711.9" stroke="#333" stroke-width="1"/>
<line x1="498.7" y1="631.6" x2="504.3" y2="631.6" stroke="#333" stroke-width="1"/>
<line x1="498.7" y1="585.4" x2="504.3" y2="585.4" stroke="#333" stroke-width="1"/>
<line x1="501.7" y1="746.2" x2="504.3" y2="746.2" stroke="#333" stroke-width="0.9"/>
<line x1="501.7" y1="742.1" x2="504.3" y2="742.1" stroke="#333" stroke-width="0.9"/>
<line x1="501.7" y1="738.2" x2="504.3" y2="738.2" stroke="#333" stroke-width="0.9"/>
<line x1="501.7" y1="734.4" x2="504.3" y2="734.4" stroke="#333" stroke-width="0.9"/>
<line x1="501.7" y1="730.4" x2="504.3" y2="730.4" stroke="#333" stroke-width="0.9"/>
<line x1="501.7" y1="726.4" x2="504.3" y2="726.4" stroke="#333" stroke-width="0.9"/>
<line x1="501.7" y1="722.6" x2="504.3" y2="722.6" stroke="#333" stroke-width="0.9"/>
<line x1="501.7" y1="719.3" x2="504.3" y2="719.3" stroke="#333" stroke-width="0.9"/>
<line x1="501.7" y1="715.3" x2="504.3" y2="715.3" stroke="#333" stroke-width="0.9"/>
<line x1="501.7" y1="683.6" x2="504.3" y2="683.6" stroke="#333" stroke-width="0.9"/>
<line x1="501.7" y1="667.4" x2="504.3" y2="667.4" stroke="#333" stroke-width="0.9"/>
<line x1="501.7" y1="657.5" x2="504.3" y2="657.5" stroke="#333" stroke-width="0.9"/>
<line x1="501.7" y1="649.4" x2="504.3" y2="649.4" stroke="#333" stroke-width="0.9"/>
<line x1="501.7" y1="644.7" x2="504.3" y2="644.7" stroke="#333" stroke-width="0.9"/>
<line x1="501.7" y1="640.8" x2="504.3" y2="640.8" stroke="#333" stroke-width="0.9"/>
<line x1="501.7" y1="638.4" x2="504.3" y2="638.4" stroke="#333" stroke-width="0.9"/>
<line x1="501.7" y1="636" x2="504.3" y2="636" stroke="#333" stroke-width="0.9"/>
<line x1="501.7" y1="633.7" x2="504.3" y2="633.7" stroke="#333" stroke-width="0.9"/>
<line x1="501.7" y1="617.692414200324" x2="504.3" y2="617.692414200324" stroke="#333" stroke-width="0.9"/>
<line x1="501.7" y1="609.5569980319516" x2="504.3" y2="609.5569980319516" stroke="#333" stroke-width="0.9"/>
<line x1="501.7" y1="603.7848284006482" x2="504.3" y2="603.7848284006482" stroke="#333" stroke-width="0.9"/>
<line x1="501.7" y1="599.307585799676" x2="504.3" y2="599.307585799676" stroke="#333" stroke-width="0.9"/>
<line x1="501.7" y1="595.6494122322756" x2="504.3" y2="595.6494122322756" stroke="#333" stroke-width="0.9"/>
<line x1="501.7" y1="592.5564705513414" x2="504.3" y2="592.5564705513414" stroke="#333" stroke-width="0.9"/>
<line x1="501.7" y1="589.8772426009722" x2="504.3" y2="589.8772426009722" stroke="#333" stroke-width="0.9"/>
<line x1="501.7" y1="587.5139960639032" x2="504.3" y2="587.5139960639032" stroke="#333" stroke-width="0.9"/>
<line x1="511.8" y1="758.3" x2="511.8" y2="764" stroke="#333" stroke-width="1"/>
<line x1="550.65" y1="758.3" x2="550.65" y2="764" stroke="#333" stroke-width="1"/>
<line x1="630.6" y1="758.3" x2="630.6" y2="764" stroke="#333" stroke-width="1"/>
<line x1="676.6" y1="758.3" x2="676.6" y2="764" stroke="#333" stroke-width="1"/>
<line x1="516.1" y1="758.3" x2="516.1" y2="760.9" stroke="#333" stroke-width="0.9"/>
<line x1="520.4" y1="758.3" x2="520.4" y2="760.9" stroke="#333" stroke-width="0.9"/>
<line x1="524.1" y1="758.3" x2="524.1" y2="760.9" stroke="#333" stroke-width="0.9"/>
<line x1="528.1" y1="758.3" x2="528.1" y2="760.9" stroke="#333" stroke-width="0.9"/>
<line x1="532.1" y1="758.3" x2="532.1" y2="760.9" stroke="#333" stroke-width="0.9"/>
<line x1="535.8" y1="758.3" x2="535.8" y2="760.9" stroke="#333" stroke-width="0.9"/>
<line x1="539.4" y1="758.3" x2="539.4" y2="760.9" stroke="#333" stroke-width="0.9"/>
<line x1="543.1" y1="758.3" x2="543.1" y2="760.9" stroke="#333" stroke-width="0.9"/>
<line x1="546.7" y1="758.3" x2="546.7" y2="760.9" stroke="#333" stroke-width="0.9"/>
<line x1="577.9" y1="758.3" x2="577.9" y2="760.9" stroke="#333" stroke-width="0.9"/>
<line x1="594.8" y1="758.3" x2="594.8" y2="760.9" stroke="#333" stroke-width="0.9"/>
<line x1="604.5" y1="758.3" x2="604.5" y2="760.9" stroke="#333" stroke-width="0.9"/>
<line x1="610.8" y1="758.3" x2="610.8" y2="760.9" stroke="#333" stroke-width="0.9"/>
<line x1="615.9" y1="758.3" x2="615.9" y2="760.9" stroke="#333" stroke-width="0.9"/>
<line x1="620.0" y1="758.3" x2="620.0" y2="760.9" stroke="#333" stroke-width="0.9"/>
<line x1="623.6" y1="758.3" x2="623.6" y2="760.9" stroke="#333" stroke-width="0.9"/>
<line x1="627.1" y1="758.3" x2="627.1" y2="760.9" stroke="#333" stroke-width="0.9"/>
<line x1="644.4473798005431" y1="758.3" x2="644.4473798005431" y2="760.9" stroke="#333" stroke-width="0.9"/>
<line x1="652.5475777171046" y1="758.3" x2="652.5475777171046" y2="760.9" stroke="#333" stroke-width="0.9"/>
<line x1="658.2947596010863" y1="758.3" x2="658.2947596010863" y2="760.9" stroke="#333" stroke-width="0.9"/>
<line x1="662.7526201994569" y1="758.3" x2="662.7526201994569" y2="760.9" stroke="#333" stroke-width="0.9"/>
<line x1="666.3949575176476" y1="758.3" x2="666.3949575176476" y2="760.9" stroke="#333" stroke-width="0.9"/>
<line x1="669.4745098406559" y1="758.3" x2="669.4745098406559" y2="760.9" stroke="#333" stroke-width="0.9"/>
<line x1="672.1421394016295" y1="758.3" x2="672.1421394016295" y2="760.9" stroke="#333" stroke-width="0.9"/>
<line x1="674.495155434209" y1="758.3" x2="674.495155434209" y2="760.9" stroke="#333" stroke-width="0.9"/>
<text transform="translate(496.90000000000003,749.7) rotate(-90)" font-size="7.4" text-anchor="middle" fill="#222">0</text>
<text transform="translate(496.90000000000003,711.9) rotate(-90)" font-size="7.4" text-anchor="middle" fill="#222">10<tspan font-size="4.5" dy="-3">2</tspan></text>
<text transform="translate(496.90000000000003,631.6) rotate(-90)" font-size="7.4" text-anchor="middle" fill="#222">10<tspan font-size="4.5" dy="-3">3</tspan></text>
<text transform="translate(496.90000000000003,585.4) rotate(-90)" font-size="7.4" text-anchor="middle" fill="#222">10<tspan font-size="4.5" dy="-3">4</tspan></text>
<text x="511.8" y="772.3" font-size="7.4" text-anchor="middle" fill="#222">0</text>
<text x="551.65" y="772.3" font-size="7.4" text-anchor="middle" fill="#222">10<tspan font-size="4.5" dy="-3">2</tspan></text>
<text x="631.6" y="772.3" font-size="7.4" text-anchor="middle" fill="#222">10<tspan font-size="4.5" dy="-3">3</tspan></text>
<text x="677.6" y="772.3" font-size="7.4" text-anchor="middle" fill="#222">10<tspan font-size="4.5" dy="-3">4</tspan></text>
<text x="508.90000000000003" y="594" font-size="10.3" fill="#222">3</text>
<text x="665.6" y="594" font-size="10.3" fill="#222">4</text>
<text x="506.7" y="687.8" font-size="10.3" fill="#222">1</text>
<text x="665.9" y="688.2" font-size="10.3" fill="#222">2</text>
<text transform="translate(489.90000000000003,670.2) rotate(-90)" font-size="10" text-anchor="middle" fill="#222" textLength="8.2" lengthAdjust="spacingAndGlyphs">PI</text>
<text x="526.7" y="576.8" font-size="12.6" fill="#222" textLength="114.7" lengthAdjust="spacingAndGlyphs"><tspan font-style="italic">CFLAR</tspan> siRNA 60% CSE</text>
<text x="555.4" y="779.6" font-size="10.2" fill="#222" textLength="47.6" lengthAdjust="spacingAndGlyphs">Annexin-V</text>
<text x="501.7" y="795.4" font-size="9.3" fill="#222" textLength="59.5" lengthAdjust="spacingAndGlyphs">1Viable = 21%</text>
<text x="501.7" y="807.5" font-size="9.3" fill="#222" textLength="77.9" lengthAdjust="spacingAndGlyphs">2 Apoptotic = 43%</text>
<text x="501.7" y="819.6" font-size="9.3" fill="#222" textLength="81.8" lengthAdjust="spacingAndGlyphs">3+4 Necrotic = 36%</text>
</svg></body></html>
